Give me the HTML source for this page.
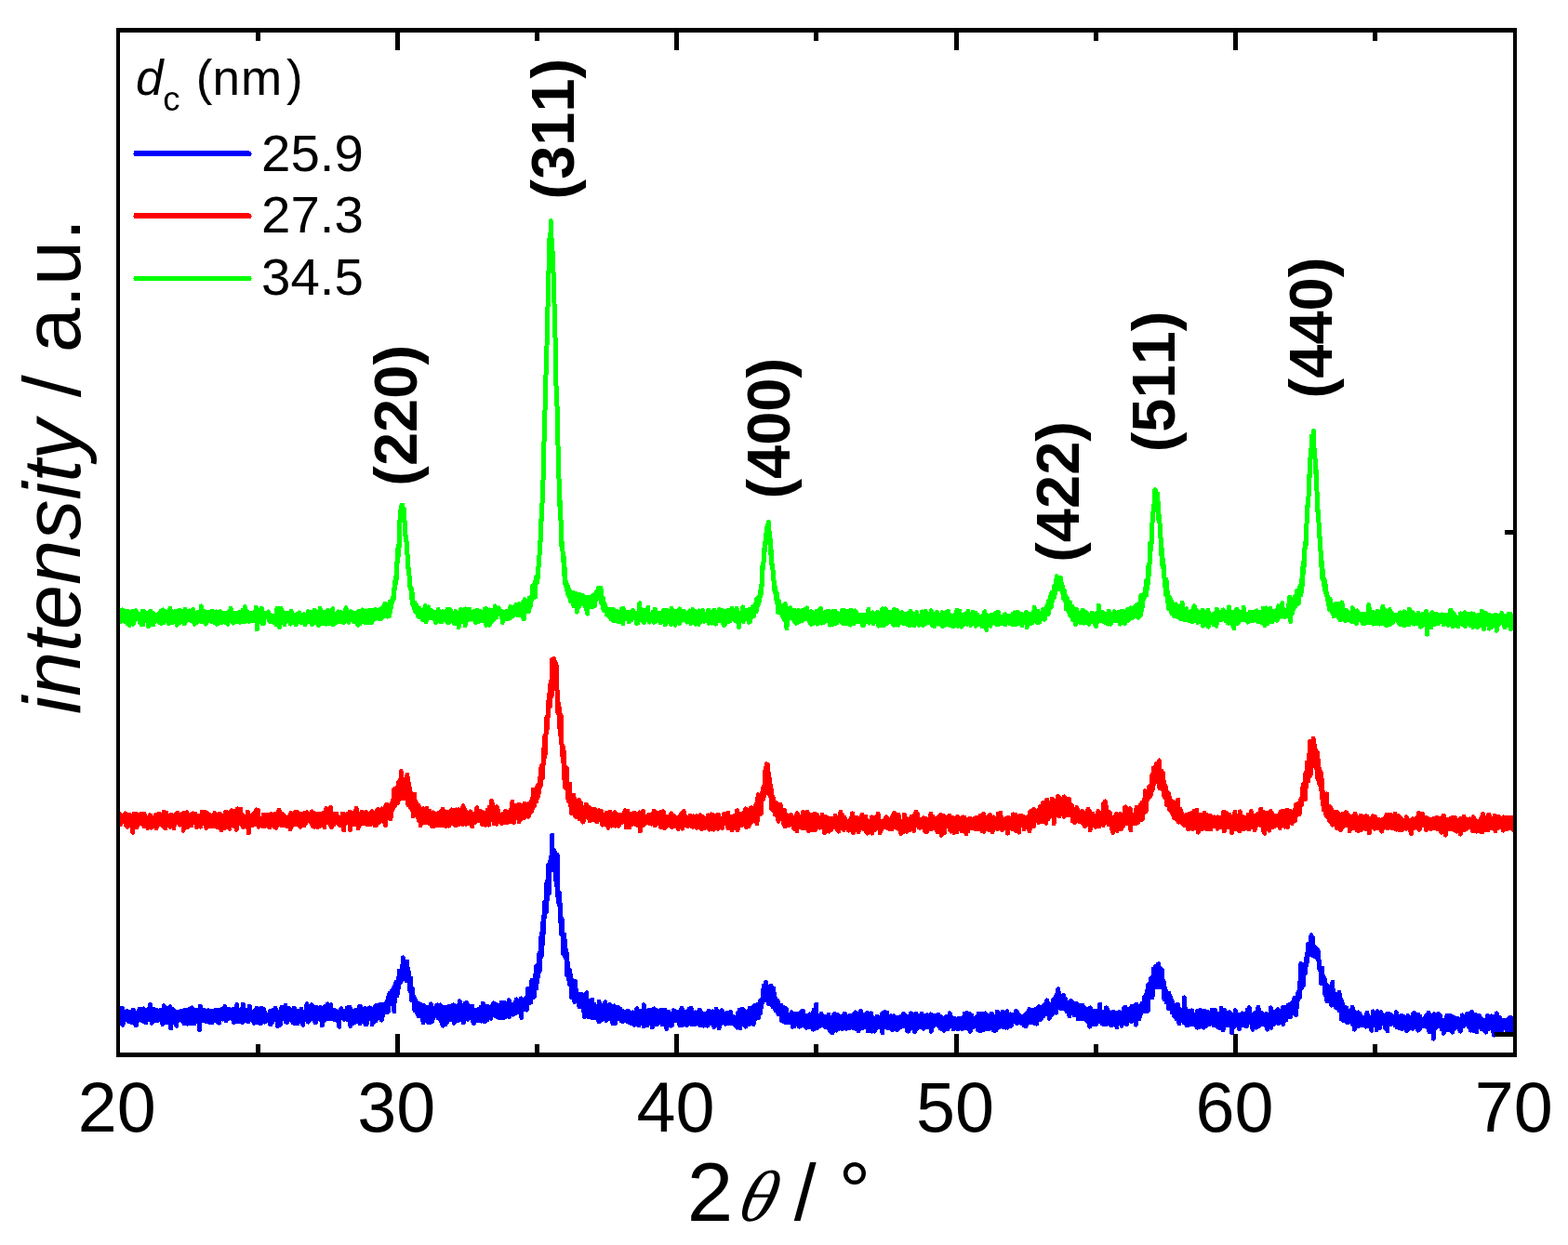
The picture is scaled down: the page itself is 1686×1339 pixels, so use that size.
<!DOCTYPE html>
<html><head><meta charset="utf-8"><title>XRD patterns</title>
<style>
html,body{margin:0;padding:0;background:#fff;}
body{width:1686px;height:1339px;overflow:hidden;}
svg{display:block;}
text{font-kerning:none;}
</style></head><body>
<svg width="1686" height="1339" viewBox="0 0 1686 1339">
<rect width="1686" height="1339" fill="#fff"/>
<defs><clipPath id="pa"><rect x="129" y="35" width="1498" height="1097"/></clipPath></defs>
<g clip-path="url(#pa)" shape-rendering="crispEdges" fill="none" stroke-width="5" stroke-linejoin="round" stroke-linecap="round">
<polyline stroke="#00ff00" points="120.0,665.1 120.3,668.7 120.6,659.4 120.9,664.1 121.2,664.5 121.5,660.6 121.8,665.6 122.1,662.4 122.4,665.1 122.7,657.5 123.0,664.8 123.3,660.4 123.6,664.5 123.9,665.2 124.2,660.4 124.5,657.9 124.8,658.4 125.1,664.8 125.4,663.3 125.7,658.6 126.0,666.2 126.3,663.0 126.6,659.9 126.9,667.4 127.2,670.0 127.5,668.6 127.8,660.4 128.1,658.6 128.4,663.1 128.7,667.3 129.0,664.7 129.3,656.8 129.6,667.8 129.9,667.3 130.2,668.3 130.5,665.4 130.8,657.6 131.1,660.8 131.4,660.1 131.7,655.9 132.0,665.4 132.3,664.7 132.6,664.3 132.9,659.3 133.2,667.7 133.5,665.6 133.8,665.5 134.1,668.1 134.4,659.5 134.7,668.4 135.0,664.6 135.3,664.3 135.6,657.2 135.9,666.3 136.2,661.0 136.5,663.4 136.8,665.8 137.1,670.8 137.4,663.3 137.7,663.0 138.0,667.1 138.3,657.7 138.6,662.7 138.9,663.2 139.2,672.5 139.5,664.5 139.8,659.3 140.1,663.8 140.4,660.4 140.7,667.8 141.0,664.0 141.3,658.6 141.6,670.3 141.9,664.4 142.2,668.5 142.5,657.5 142.8,666.0 143.1,671.3 143.4,668.2 143.7,669.3 144.0,664.5 144.3,660.7 144.6,664.9 144.9,661.1 145.2,667.1 145.5,658.7 145.8,661.6 146.1,656.8 146.4,662.3 146.7,664.8 147.0,663.4 147.3,659.2 147.6,662.6 147.9,661.2 148.2,665.5 148.5,663.6 148.8,659.8 149.1,663.0 149.4,663.5 149.7,665.2 150.0,665.6 150.3,660.8 150.6,670.1 150.9,664.0 151.2,663.0 151.5,662.0 151.8,661.4 152.1,662.0 152.4,672.0 152.7,662.5 153.0,660.9 153.3,657.4 153.6,660.1 153.9,671.7 154.2,668.4 154.5,657.5 154.8,660.2 155.1,663.9 155.4,665.7 155.7,663.6 156.0,666.2 156.3,664.5 156.6,664.1 156.9,665.0 157.2,664.1 157.5,661.9 157.8,659.7 158.1,662.5 158.4,662.5 158.7,660.3 159.0,659.1 159.3,666.6 159.6,673.8 159.9,671.7 160.2,663.9 160.5,664.9 160.8,667.6 161.1,671.7 161.4,666.0 161.7,657.2 162.0,659.4 162.3,658.5 162.6,659.8 162.9,662.3 163.2,665.9 163.5,667.1 163.8,662.5 164.1,668.1 164.4,663.2 164.7,659.5 165.0,671.6 165.3,664.1 165.6,664.9 165.9,668.4 166.2,661.1 166.5,668.3 166.8,662.6 167.1,667.1 167.4,662.7 167.7,666.2 168.0,661.8 168.3,666.3 168.6,665.7 168.9,664.1 169.2,660.9 169.5,663.6 169.8,666.6 170.1,664.3 170.4,663.3 170.7,669.3 171.0,663.9 171.3,660.8 171.6,664.9 171.9,668.5 172.2,663.3 172.5,667.9 172.8,657.6 173.1,666.5 173.4,670.7 173.7,660.1 174.0,665.0 174.3,664.6 174.6,657.1 174.9,667.9 175.2,655.8 175.5,662.0 175.8,670.0 176.1,663.3 176.4,668.4 176.7,664.5 177.0,665.6 177.3,663.1 177.6,661.0 177.9,665.5 178.2,657.9 178.5,663.8 178.8,660.9 179.1,659.7 179.4,661.9 179.7,659.3 180.0,660.4 180.3,660.5 180.6,666.0 180.9,664.4 181.2,668.0 181.5,671.0 181.8,661.6 182.1,665.8 182.4,667.2 182.7,660.6 183.0,654.1 183.3,667.8 183.6,665.9 183.9,664.0 184.2,660.4 184.5,661.8 184.8,659.7 185.1,660.9 185.4,669.6 185.7,663.4 186.0,662.5 186.3,665.4 186.6,659.9 186.9,666.7 187.2,659.6 187.5,667.4 187.8,658.5 188.1,657.9 188.4,658.0 188.7,657.8 189.0,659.6 189.3,667.9 189.6,662.8 189.9,669.1 190.2,672.4 190.5,666.9 190.8,665.3 191.1,666.1 191.4,671.1 191.7,661.4 192.0,665.2 192.3,667.7 192.6,656.1 192.9,666.9 193.2,666.9 193.5,662.4 193.8,662.3 194.1,657.1 194.4,669.3 194.7,663.0 195.0,665.5 195.3,658.5 195.6,664.4 195.9,664.8 196.2,659.5 196.5,665.4 196.8,659.1 197.1,662.1 197.4,659.5 197.7,666.9 198.0,665.0 198.3,670.9 198.6,664.1 198.9,655.3 199.2,660.8 199.5,662.3 199.8,658.7 200.1,667.6 200.4,664.4 200.7,661.0 201.0,661.1 201.3,665.1 201.6,661.6 201.9,662.2 202.2,664.7 202.5,660.5 202.8,666.7 203.1,661.9 203.4,656.8 203.7,663.2 204.0,662.1 204.3,662.9 204.6,664.7 204.9,667.3 205.2,657.0 205.5,663.9 205.8,666.3 206.1,663.8 206.4,662.3 206.7,667.1 207.0,664.5 207.3,659.7 207.6,655.5 207.9,666.0 208.2,665.9 208.5,668.1 208.8,668.5 209.1,671.3 209.4,658.9 209.7,665.9 210.0,659.4 210.3,662.1 210.6,668.1 210.9,661.3 211.2,661.8 211.5,668.8 211.8,667.6 212.1,667.0 212.4,669.1 212.7,658.5 213.0,664.5 213.3,667.4 213.6,667.3 213.9,659.4 214.2,665.4 214.5,662.6 214.8,664.7 215.1,664.9 215.4,662.0 215.7,662.9 216.0,657.7 216.3,651.9 216.6,668.5 216.9,657.8 217.2,663.5 217.5,661.1 217.8,667.1 218.1,658.5 218.4,667.7 218.7,656.8 219.0,661.2 219.3,668.7 219.6,669.1 219.9,663.7 220.2,665.0 220.5,666.8 220.8,666.8 221.1,663.1 221.4,671.2 221.7,664.1 222.0,659.5 222.3,665.4 222.6,663.3 222.9,658.4 223.2,666.4 223.5,662.6 223.8,665.8 224.1,665.2 224.4,665.0 224.7,664.3 225.0,663.3 225.3,667.5 225.6,662.5 225.9,664.5 226.2,658.4 226.5,665.8 226.8,660.3 227.1,662.3 227.4,665.8 227.7,664.9 228.0,668.6 228.3,657.2 228.6,668.2 228.9,666.4 229.2,666.6 229.5,666.2 229.8,662.0 230.1,665.5 230.4,660.8 230.7,669.5 231.0,662.1 231.3,661.7 231.6,658.9 231.9,662.8 232.2,662.3 232.5,663.8 232.8,657.9 233.1,671.2 233.4,666.3 233.7,666.6 234.0,665.0 234.3,666.0 234.6,666.7 234.9,670.2 235.2,661.8 235.5,663.8 235.8,665.0 236.1,663.8 236.4,661.4 236.7,657.7 237.0,663.5 237.3,662.4 237.6,659.8 237.9,668.8 238.2,660.4 238.5,663.8 238.8,669.5 239.1,665.0 239.4,663.5 239.7,663.1 240.0,664.6 240.3,665.7 240.6,666.2 240.9,659.0 241.2,664.3 241.5,661.0 241.8,662.9 242.1,660.4 242.4,663.0 242.7,664.6 243.0,669.6 243.3,664.4 243.6,663.9 243.9,662.5 244.2,665.2 244.5,662.8 244.8,671.3 245.1,668.7 245.4,662.1 245.7,657.7 246.0,668.5 246.3,660.1 246.6,663.8 246.9,667.4 247.2,665.2 247.5,663.7 247.8,663.7 248.1,654.0 248.4,668.2 248.7,658.9 249.0,660.3 249.3,664.1 249.6,667.8 249.9,667.5 250.2,665.3 250.5,663.0 250.8,670.2 251.1,659.1 251.4,659.3 251.7,662.1 252.0,663.1 252.3,662.3 252.6,662.5 252.9,660.7 253.2,666.2 253.5,660.8 253.8,660.9 254.1,666.5 254.4,667.6 254.7,659.0 255.0,665.5 255.3,668.7 255.6,663.5 255.9,667.3 256.2,662.6 256.5,664.3 256.8,663.6 257.1,663.6 257.4,660.0 257.7,658.6 258.0,669.4 258.3,660.6 258.6,662.2 258.9,668.6 259.2,660.1 259.5,665.1 259.8,668.1 260.1,667.0 260.4,666.6 260.7,666.3 261.0,666.9 261.3,656.0 261.6,668.6 261.9,668.6 262.2,664.6 262.5,665.9 262.8,662.6 263.1,652.5 263.4,661.5 263.7,667.6 264.0,668.2 264.3,663.7 264.6,661.8 264.9,660.6 265.2,661.7 265.5,664.7 265.8,657.7 266.1,662.3 266.4,661.1 266.7,659.5 267.0,663.9 267.3,668.3 267.6,664.4 267.9,664.8 268.2,666.8 268.5,668.0 268.8,665.7 269.1,661.0 269.4,665.6 269.7,663.1 270.0,662.9 270.3,659.4 270.6,661.5 270.9,668.1 271.2,665.3 271.5,661.4 271.8,664.9 272.1,666.4 272.4,662.9 272.7,661.9 273.0,660.5 273.3,662.0 273.6,667.8 273.9,658.5 274.2,663.5 274.5,663.2 274.8,667.8 275.1,668.2 275.4,653.0 275.7,667.3 276.0,665.4 276.3,676.7 276.6,655.4 276.9,664.0 277.2,662.3 277.5,665.1 277.8,664.7 278.1,662.8 278.4,660.8 278.7,665.2 279.0,663.9 279.3,660.9 279.6,664.3 279.9,659.6 280.2,661.7 280.5,667.2 280.8,669.1 281.1,669.0 281.4,654.1 281.7,669.7 282.0,664.7 282.3,670.9 282.6,668.0 282.9,661.3 283.2,666.4 283.5,668.1 283.8,670.3 284.1,664.4 284.4,659.2 284.7,662.9 285.0,664.3 285.3,662.7 285.6,662.6 285.9,664.1 286.2,663.3 286.5,662.6 286.8,660.9 287.1,664.0 287.4,660.5 287.7,661.2 288.0,659.2 288.3,658.5 288.6,658.1 288.9,665.0 289.2,665.1 289.5,661.3 289.8,668.4 290.1,665.1 290.4,663.3 290.7,662.3 291.0,666.9 291.3,664.0 291.6,667.0 291.9,661.9 292.2,666.2 292.5,667.7 292.8,668.9 293.1,662.4 293.4,669.0 293.7,665.9 294.0,666.1 294.3,665.4 294.6,668.5 294.9,669.4 295.2,662.4 295.5,666.2 295.8,666.7 296.1,663.9 296.4,669.6 296.7,661.4 297.0,671.8 297.3,665.1 297.6,662.9 297.9,654.0 298.2,663.5 298.5,662.3 298.8,671.0 299.1,661.2 299.4,663.9 299.7,662.7 300.0,654.6 300.3,660.8 300.6,674.4 300.9,664.7 301.2,662.9 301.5,660.4 301.8,669.8 302.1,654.2 302.4,663.4 302.7,662.7 303.0,663.6 303.3,669.6 303.6,669.8 303.9,669.3 304.2,668.4 304.5,663.1 304.8,664.4 305.1,661.5 305.4,660.3 305.7,658.9 306.0,671.7 306.3,662.0 306.6,661.2 306.9,659.8 307.2,669.2 307.5,659.7 307.8,664.7 308.1,665.1 308.4,663.4 308.7,660.0 309.0,662.0 309.3,662.4 309.6,666.7 309.9,664.3 310.2,663.8 310.5,664.7 310.8,659.0 311.1,667.6 311.4,662.3 311.7,663.5 312.0,667.6 312.3,671.2 312.6,663.2 312.9,657.4 313.2,668.9 313.5,661.8 313.8,658.6 314.1,664.2 314.4,664.5 314.7,665.1 315.0,669.3 315.3,660.8 315.6,662.5 315.9,661.0 316.2,668.2 316.5,666.3 316.8,661.5 317.1,666.1 317.4,669.0 317.7,662.2 318.0,666.2 318.3,671.9 318.6,669.0 318.9,661.2 319.2,663.9 319.5,662.3 319.8,660.1 320.1,662.1 320.4,665.8 320.7,660.2 321.0,663.7 321.3,664.7 321.6,658.8 321.9,662.9 322.2,659.8 322.5,666.5 322.8,668.5 323.1,667.9 323.4,667.1 323.7,662.9 324.0,669.6 324.3,667.9 324.6,666.8 324.9,664.6 325.2,665.3 325.5,666.2 325.8,667.0 326.1,668.8 326.4,666.6 326.7,663.2 327.0,660.8 327.3,663.8 327.6,667.6 327.9,671.8 328.2,661.5 328.5,670.3 328.8,666.4 329.1,661.9 329.4,662.3 329.7,667.0 330.0,669.2 330.3,661.1 330.6,659.8 330.9,665.5 331.2,662.0 331.5,657.7 331.8,661.3 332.1,668.7 332.4,661.6 332.7,664.4 333.0,668.5 333.3,662.1 333.6,666.7 333.9,663.7 334.2,663.2 334.5,664.0 334.8,662.5 335.1,658.5 335.4,671.4 335.7,667.5 336.0,663.2 336.3,669.2 336.6,670.2 336.9,658.3 337.2,666.1 337.5,668.5 337.8,661.2 338.1,656.2 338.4,664.8 338.7,664.1 339.0,662.4 339.3,669.5 339.6,667.9 339.9,662.2 340.2,660.4 340.5,662.8 340.8,657.9 341.1,661.4 341.4,665.9 341.7,666.0 342.0,664.8 342.3,660.1 342.6,672.7 342.9,664.8 343.2,662.2 343.5,664.9 343.8,667.4 344.1,654.2 344.4,664.8 344.7,668.1 345.0,664.4 345.3,669.9 345.6,657.9 345.9,668.6 346.2,670.2 346.5,659.9 346.8,665.9 347.1,658.4 347.4,663.9 347.7,663.5 348.0,666.9 348.3,664.6 348.6,665.2 348.9,670.8 349.2,662.2 349.5,658.7 349.8,667.3 350.1,670.7 350.4,658.3 350.7,671.2 351.0,661.7 351.3,664.4 351.6,669.0 351.9,659.7 352.2,656.9 352.5,656.1 352.8,668.9 353.1,667.9 353.4,664.8 353.7,668.5 354.0,660.1 354.3,658.1 354.6,660.4 354.9,670.9 355.2,666.6 355.5,660.4 355.8,657.3 356.1,661.9 356.4,663.3 356.7,662.1 357.0,657.6 357.3,664.5 357.6,670.1 357.9,654.6 358.2,672.0 358.5,668.5 358.8,661.6 359.1,668.4 359.4,669.8 359.7,668.8 360.0,663.0 360.3,660.8 360.6,660.3 360.9,662.7 361.2,664.4 361.5,662.1 361.8,666.3 362.1,669.4 362.4,664.2 362.7,662.2 363.0,669.0 363.3,667.3 363.6,666.8 363.9,657.9 364.2,665.3 364.5,662.0 364.8,663.1 365.1,664.5 365.4,664.5 365.7,658.6 366.0,661.1 366.3,662.5 366.6,666.5 366.9,658.6 367.2,668.6 367.5,662.1 367.8,663.8 368.1,668.9 368.4,662.5 368.7,668.2 369.0,669.1 369.3,665.4 369.6,669.4 369.9,664.5 370.2,665.5 370.5,668.8 370.8,658.8 371.1,662.0 371.4,662.1 371.7,661.2 372.0,653.7 372.3,658.1 372.6,665.9 372.9,662.8 373.2,659.3 373.5,662.8 373.8,667.3 374.1,664.3 374.4,658.3 374.7,669.3 375.0,667.1 375.3,661.0 375.6,659.9 375.9,667.4 376.2,663.6 376.5,660.1 376.8,661.1 377.1,657.7 377.4,665.1 377.7,659.3 378.0,658.0 378.3,664.0 378.6,661.8 378.9,661.0 379.2,666.7 379.5,666.6 379.8,663.9 380.1,667.5 380.4,668.5 380.7,663.7 381.0,659.8 381.3,665.9 381.6,660.4 381.9,661.0 382.2,664.8 382.5,667.2 382.8,662.7 383.1,661.9 383.4,667.1 383.7,665.4 384.0,658.8 384.3,665.3 384.6,661.0 384.9,672.3 385.2,657.6 385.5,659.1 385.8,671.5 386.1,665.0 386.4,664.2 386.7,665.1 387.0,670.6 387.3,659.3 387.6,669.9 387.9,666.1 388.2,663.4 388.5,667.7 388.8,661.2 389.1,666.0 389.4,658.9 389.7,655.9 390.0,658.7 390.3,659.3 390.6,656.3 390.9,663.6 391.2,659.6 391.5,657.5 391.8,667.2 392.1,669.2 392.4,667.0 392.7,669.9 393.0,659.2 393.3,657.0 393.6,667.5 393.9,664.7 394.2,661.9 394.5,663.8 394.8,662.7 395.1,659.7 395.4,663.3 395.7,656.8 396.0,657.4 396.3,663.6 396.6,669.6 396.9,664.6 397.2,658.3 397.5,658.5 397.8,656.0 398.1,666.9 398.4,661.3 398.7,663.7 399.0,667.3 399.3,667.0 399.6,669.7 399.9,665.1 400.2,664.0 400.5,658.7 400.8,660.9 401.1,658.9 401.4,665.3 401.7,656.6 402.0,658.8 402.3,663.2 402.6,661.4 402.9,666.1 403.2,660.6 403.5,655.3 403.8,665.2 404.1,664.3 404.4,658.9 404.7,661.0 405.0,661.6 405.3,664.4 405.6,664.0 405.9,656.7 406.2,659.6 406.5,664.8 406.8,662.3 407.1,658.5 407.4,658.4 407.7,660.7 408.0,665.8 408.3,662.0 408.6,665.3 408.9,655.2 409.2,666.0 409.5,658.9 409.8,660.1 410.1,665.0 410.4,654.7 410.7,657.7 411.0,663.4 411.3,663.2 411.6,663.9 411.9,655.3 412.2,660.9 412.5,654.9 412.8,652.2 413.1,660.0 413.4,658.9 413.7,657.2 414.0,649.2 414.3,655.0 414.6,661.5 414.9,653.6 415.2,654.7 415.5,658.6 415.8,657.5 416.1,658.2 416.4,663.1 416.7,650.5 417.0,658.9 417.3,656.0 417.6,656.4 417.9,657.1 418.2,653.0 418.5,655.9 418.8,662.3 419.1,647.0 419.4,659.2 419.7,658.0 420.0,653.0 420.3,654.3 420.6,653.2 420.9,650.8 421.2,648.1 421.5,648.1 421.8,644.9 422.1,645.1 422.4,645.9 422.7,643.5 423.0,641.7 423.3,643.8 423.6,633.6 423.9,638.7 424.2,629.7 424.5,625.3 424.8,630.9 425.1,625.6 425.4,627.7 425.7,623.8 426.0,618.8 426.3,622.7 426.6,608.3 426.9,604.4 427.2,605.4 427.5,600.7 427.8,589.6 428.1,598.3 428.4,589.6 428.7,585.6 429.0,589.9 429.3,574.5 429.6,582.7 429.9,559.8 430.2,559.0 430.5,560.7 430.8,548.5 431.1,556.3 431.4,556.8 431.7,544.3 432.0,549.0 432.3,543.0 432.6,552.8 432.9,543.3 433.2,549.4 433.5,547.7 433.8,547.6 434.1,550.6 434.4,547.7 434.7,548.3 435.0,561.9 435.3,561.3 435.6,574.6 435.9,574.8 436.2,580.1 436.5,576.6 436.8,582.6 437.1,582.2 437.4,584.8 437.7,595.4 438.0,595.6 438.3,601.1 438.6,609.1 438.9,611.2 439.2,610.4 439.5,612.4 439.8,613.8 440.1,621.5 440.4,620.4 440.7,625.9 441.0,631.5 441.3,631.6 441.6,631.6 441.9,634.1 442.2,632.4 442.5,643.4 442.8,641.7 443.1,637.4 443.4,641.7 443.7,639.9 444.0,650.5 444.3,650.6 444.6,649.4 444.9,652.6 445.2,652.3 445.5,654.7 445.8,647.9 446.1,648.9 446.4,657.1 446.7,657.7 447.0,652.6 447.3,655.2 447.6,657.8 447.9,651.3 448.2,658.7 448.5,654.1 448.8,652.8 449.1,656.0 449.4,662.1 449.7,658.4 450.0,661.6 450.3,663.3 450.6,654.1 450.9,660.9 451.2,654.9 451.5,661.8 451.8,656.3 452.1,662.2 452.4,659.8 452.7,659.5 453.0,656.8 453.3,663.9 453.6,662.0 453.9,664.1 454.2,655.9 454.5,666.4 454.8,656.7 455.1,662.5 455.4,658.3 455.7,661.1 456.0,655.3 456.3,659.0 456.6,657.6 456.9,660.2 457.2,651.5 457.5,654.5 457.8,660.0 458.1,668.9 458.4,656.5 458.7,663.1 459.0,659.0 459.3,666.5 459.6,660.9 459.9,658.6 460.2,663.3 460.5,662.1 460.8,652.9 461.1,663.8 461.4,658.2 461.7,663.2 462.0,662.0 462.3,656.5 462.6,663.5 462.9,664.6 463.2,664.4 463.5,658.1 463.8,661.3 464.1,656.6 464.4,660.6 464.7,664.7 465.0,660.0 465.3,659.7 465.6,660.4 465.9,662.2 466.2,663.5 466.5,661.2 466.8,666.3 467.1,664.8 467.4,658.5 467.7,665.3 468.0,661.8 468.3,658.1 468.6,669.7 468.9,663.9 469.2,665.3 469.5,668.0 469.8,662.2 470.1,657.7 470.4,662.1 470.7,667.1 471.0,663.9 471.3,655.6 471.6,659.6 471.9,664.2 472.2,659.1 472.5,662.2 472.8,663.7 473.1,668.1 473.4,668.4 473.7,663.2 474.0,662.2 474.3,668.8 474.6,666.3 474.9,658.0 475.2,668.9 475.5,659.3 475.8,662.1 476.1,657.8 476.4,662.5 476.7,664.8 477.0,662.1 477.3,661.7 477.6,663.1 477.9,662.0 478.2,665.6 478.5,657.9 478.8,662.3 479.1,665.4 479.4,661.8 479.7,665.6 480.0,659.8 480.3,659.3 480.6,658.5 480.9,669.3 481.2,655.2 481.5,665.5 481.8,659.8 482.1,664.3 482.4,669.9 482.7,663.0 483.0,664.6 483.3,663.8 483.6,662.0 483.9,662.3 484.2,655.6 484.5,665.7 484.8,665.8 485.1,660.3 485.4,658.6 485.7,663.6 486.0,659.3 486.3,661.3 486.6,664.5 486.9,662.1 487.2,662.3 487.5,668.3 487.8,665.6 488.1,669.1 488.4,668.8 488.7,670.6 489.0,659.5 489.3,664.2 489.6,663.7 489.9,657.5 490.2,667.3 490.5,660.3 490.8,662.6 491.1,669.8 491.4,670.7 491.7,662.1 492.0,666.9 492.3,668.3 492.6,664.9 492.9,664.1 493.2,674.8 493.5,659.0 493.8,661.8 494.1,660.3 494.4,659.9 494.7,661.0 495.0,663.4 495.3,659.3 495.6,655.4 495.9,664.8 496.2,661.9 496.5,668.6 496.8,665.3 497.1,665.1 497.4,668.8 497.7,657.2 498.0,659.5 498.3,662.1 498.6,665.9 498.9,655.8 499.2,665.4 499.5,665.0 499.8,661.0 500.1,673.1 500.4,655.5 500.7,655.0 501.0,662.6 501.3,663.5 501.6,658.8 501.9,658.7 502.2,659.1 502.5,657.9 502.8,665.0 503.1,661.6 503.4,662.0 503.7,666.6 504.0,658.8 504.3,662.4 504.6,665.3 504.9,655.3 505.2,661.5 505.5,660.5 505.8,663.1 506.1,660.7 506.4,663.8 506.7,666.1 507.0,661.4 507.3,660.7 507.6,661.1 507.9,664.2 508.2,664.1 508.5,658.7 508.8,662.3 509.1,657.7 509.4,663.0 509.7,659.0 510.0,666.0 510.3,667.1 510.6,666.3 510.9,660.9 511.2,664.7 511.5,669.8 511.8,659.0 512.1,660.7 512.4,659.0 512.7,656.3 513.0,659.6 513.3,658.2 513.6,656.8 513.9,668.6 514.2,667.2 514.5,666.7 514.8,664.3 515.1,664.7 515.4,662.2 515.7,658.6 516.0,660.9 516.3,658.7 516.6,657.6 516.9,659.0 517.2,663.0 517.5,661.9 517.8,663.5 518.1,667.6 518.4,664.2 518.7,659.5 519.0,658.5 519.3,663.3 519.6,662.0 519.9,660.3 520.2,666.2 520.5,660.3 520.8,663.1 521.1,655.0 521.4,663.3 521.7,666.6 522.0,667.0 522.3,667.3 522.6,654.6 522.9,672.5 523.2,664.6 523.5,656.8 523.8,660.9 524.1,657.4 524.4,662.4 524.7,667.4 525.0,662.1 525.3,661.1 525.6,660.0 525.9,657.1 526.2,672.4 526.5,655.8 526.8,661.0 527.1,658.9 527.4,660.3 527.7,669.1 528.0,664.0 528.3,669.0 528.6,659.5 528.9,659.3 529.2,658.3 529.5,659.1 529.8,659.1 530.1,656.2 530.4,666.9 530.7,664.9 531.0,664.2 531.3,657.8 531.6,661.4 531.9,664.7 532.2,661.6 532.5,652.0 532.8,656.1 533.1,659.1 533.4,658.4 533.7,664.0 534.0,655.1 534.3,659.1 534.6,661.2 534.9,660.0 535.2,656.0 535.5,661.2 535.8,659.3 536.1,653.9 536.4,656.3 536.7,658.0 537.0,657.6 537.3,659.4 537.6,657.4 537.9,660.2 538.2,660.0 538.5,660.5 538.8,658.8 539.1,664.4 539.4,661.2 539.7,657.6 540.0,664.4 540.3,669.5 540.6,664.9 540.9,658.8 541.2,662.0 541.5,660.2 541.8,662.7 542.1,663.6 542.4,661.9 542.7,658.5 543.0,664.1 543.3,665.5 543.6,657.9 543.9,661.0 544.2,659.4 544.5,665.1 544.8,659.3 545.1,661.8 545.4,659.5 545.7,657.7 546.0,665.9 546.3,658.5 546.6,664.2 546.9,657.4 547.2,664.3 547.5,659.9 547.8,658.7 548.1,654.2 548.4,664.9 548.7,661.0 549.0,652.5 549.3,664.4 549.6,656.8 549.9,657.6 550.2,661.2 550.5,654.5 550.8,663.2 551.1,661.3 551.4,660.1 551.7,660.2 552.0,656.6 552.3,661.6 552.6,653.5 552.9,653.5 553.2,656.8 553.5,657.1 553.8,658.5 554.1,654.1 554.4,651.6 554.7,658.7 555.0,650.0 555.3,653.8 555.6,659.6 555.9,654.2 556.2,657.6 556.5,654.1 556.8,662.0 557.1,654.2 557.4,652.8 557.7,649.7 558.0,654.5 558.3,653.7 558.6,661.2 558.9,653.8 559.2,658.6 559.5,658.1 559.8,652.8 560.1,654.4 560.4,650.6 560.7,657.8 561.0,654.1 561.3,657.7 561.6,653.3 561.9,663.5 562.2,648.2 562.5,656.7 562.8,657.4 563.1,647.7 563.4,666.0 563.7,657.1 564.0,644.7 564.3,659.1 564.6,651.3 564.9,652.5 565.2,650.6 565.5,658.1 565.8,651.8 566.1,648.1 566.4,651.7 566.7,651.6 567.0,650.6 567.3,651.0 567.6,650.8 567.9,649.8 568.2,645.8 568.5,653.0 568.8,657.5 569.1,654.2 569.4,642.9 569.7,647.2 570.0,650.3 570.3,652.0 570.6,649.3 570.9,647.6 571.2,646.0 571.5,641.3 571.8,643.6 572.1,638.8 572.4,643.7 572.7,636.8 573.0,629.6 573.3,642.0 573.6,640.0 573.9,640.7 574.2,633.3 574.5,638.8 574.8,635.8 575.1,626.0 575.4,635.9 575.7,642.2 576.0,625.2 576.3,628.1 576.6,620.4 576.9,623.7 577.2,625.1 577.5,623.8 577.8,626.4 578.1,621.0 578.4,610.7 578.7,619.6 579.0,610.2 579.3,602.4 579.6,598.9 579.9,604.0 580.2,586.3 580.5,592.2 580.8,583.4 581.1,580.3 581.4,581.3 581.7,575.0 582.0,558.5 582.3,559.8 582.6,544.6 582.9,545.8 583.2,533.2 583.5,529.7 583.8,522.5 584.1,512.8 584.4,500.9 584.7,490.1 585.0,474.8 585.3,472.4 585.6,453.5 585.9,443.9 586.2,437.2 586.5,422.9 586.8,415.6 587.1,397.8 587.4,384.8 587.7,390.1 588.0,372.3 588.3,357.3 588.6,336.4 588.9,331.3 589.2,328.0 589.5,313.8 589.8,291.6 590.1,293.9 590.4,272.2 590.7,257.0 591.0,268.3 591.3,257.8 591.6,256.7 591.9,258.2 592.2,237.5 592.5,258.2 592.8,247.7 593.1,258.4 593.4,264.3 593.7,268.9 594.0,269.9 594.3,272.6 594.6,275.1 594.9,283.6 595.2,307.7 595.5,305.8 595.8,316.0 596.1,330.6 596.4,342.1 596.7,360.4 597.0,362.4 597.3,378.8 597.6,400.8 597.9,406.7 598.2,427.5 598.5,431.0 598.8,434.7 599.1,438.4 599.4,463.1 599.7,453.4 600.0,479.2 600.3,492.6 600.6,497.4 600.9,514.3 601.2,516.1 601.5,533.4 601.8,532.3 602.1,550.8 602.4,539.4 602.7,552.9 603.0,559.6 603.3,560.8 603.6,573.4 603.9,587.4 604.2,584.7 604.5,583.7 604.8,590.5 605.1,593.7 605.4,595.9 605.7,603.6 606.0,602.9 606.3,611.1 606.6,600.1 606.9,615.7 607.2,625.3 607.5,611.0 607.8,628.0 608.1,624.2 608.4,626.8 608.7,631.2 609.0,627.6 609.3,628.3 609.6,630.5 609.9,634.4 610.2,638.2 610.5,630.9 610.8,639.6 611.1,633.8 611.4,639.2 611.7,633.7 612.0,635.6 612.3,639.7 612.6,637.6 612.9,643.4 613.2,645.8 613.5,637.2 613.8,636.6 614.1,647.0 614.4,642.7 614.7,641.1 615.0,643.4 615.3,641.9 615.6,641.4 615.9,643.5 616.2,637.4 616.5,648.8 616.8,651.7 617.1,644.3 617.4,641.6 617.7,644.5 618.0,645.4 618.3,642.5 618.6,641.0 618.9,640.6 619.2,646.5 619.5,638.1 619.8,638.8 620.1,650.0 620.4,658.2 620.7,643.6 621.0,644.4 621.3,647.9 621.6,643.6 621.9,645.8 622.2,643.9 622.5,652.4 622.8,642.5 623.1,648.3 623.4,639.4 623.7,648.1 624.0,642.0 624.3,646.7 624.6,646.9 624.9,645.0 625.2,646.1 625.5,649.8 625.8,645.4 626.1,642.5 626.4,641.8 626.7,649.8 627.0,641.5 627.3,640.8 627.6,643.4 627.9,642.0 628.2,649.2 628.5,643.5 628.8,647.2 629.1,652.1 629.4,642.1 629.7,647.8 630.0,650.1 630.3,647.6 630.6,648.0 630.9,657.1 631.2,648.4 631.5,645.3 631.8,660.2 632.1,641.9 632.4,652.6 632.7,653.0 633.0,652.3 633.3,652.7 633.6,645.5 633.9,647.9 634.2,644.6 634.5,646.4 634.8,643.5 635.1,651.3 635.4,644.2 635.7,650.5 636.0,652.4 636.3,642.0 636.6,652.4 636.9,652.7 637.2,650.0 637.5,640.3 637.8,648.5 638.1,646.8 638.4,647.8 638.7,642.0 639.0,646.8 639.3,645.3 639.6,651.4 639.9,645.1 640.2,646.7 640.5,642.3 640.8,638.2 641.1,641.0 641.4,643.1 641.7,641.2 642.0,635.6 642.3,644.1 642.6,640.0 642.9,638.7 643.2,642.4 643.5,632.5 643.8,632.3 644.1,636.4 644.4,639.4 644.7,639.6 645.0,635.3 645.3,633.2 645.6,638.5 645.9,632.2 646.2,635.9 646.5,648.4 646.8,648.4 647.1,647.7 647.4,645.6 647.7,646.3 648.0,650.0 648.3,643.1 648.6,648.1 648.9,655.5 649.2,656.2 649.5,654.5 649.8,648.9 650.1,650.9 650.4,650.5 650.7,651.8 651.0,654.5 651.3,654.0 651.6,656.7 651.9,656.3 652.2,653.6 652.5,661.1 652.8,654.8 653.1,657.7 653.4,658.4 653.7,660.1 654.0,661.4 654.3,659.8 654.6,662.4 654.9,657.7 655.2,661.2 655.5,657.2 655.8,658.8 656.1,661.7 656.4,655.4 656.7,665.5 657.0,659.5 657.3,663.1 657.6,657.9 657.9,658.3 658.2,663.1 658.5,663.0 658.8,660.0 659.1,657.3 659.4,667.4 659.7,655.6 660.0,660.5 660.3,659.0 660.6,667.0 660.9,661.1 661.2,662.9 661.5,657.9 661.8,659.0 662.1,663.3 662.4,667.5 662.7,659.3 663.0,661.9 663.3,657.6 663.6,659.3 663.9,660.4 664.2,659.6 664.5,666.5 664.8,660.1 665.1,668.9 665.4,668.6 665.7,664.0 666.0,660.9 666.3,659.6 666.6,659.2 666.9,665.0 667.2,662.7 667.5,666.5 667.8,657.8 668.1,654.9 668.4,662.9 668.7,658.5 669.0,657.2 669.3,659.6 669.6,660.2 669.9,671.1 670.2,654.3 670.5,656.9 670.8,665.4 671.1,663.0 671.4,663.3 671.7,660.9 672.0,660.0 672.3,659.3 672.6,660.1 672.9,662.6 673.2,662.1 673.5,663.7 673.8,663.0 674.1,662.2 674.4,665.8 674.7,664.1 675.0,658.3 675.3,659.7 675.6,663.3 675.9,663.2 676.2,668.9 676.5,658.4 676.8,660.9 677.1,665.2 677.4,664.7 677.7,659.9 678.0,663.8 678.3,662.8 678.6,667.3 678.9,659.7 679.2,662.9 679.5,661.6 679.8,659.3 680.1,664.2 680.4,656.4 680.7,661.0 681.0,664.0 681.3,664.7 681.6,663.4 681.9,658.8 682.2,662.9 682.5,661.7 682.8,659.0 683.1,661.9 683.4,663.4 683.7,661.6 684.0,665.3 684.3,663.8 684.6,670.6 684.9,660.6 685.2,662.9 685.5,670.3 685.8,661.8 686.1,664.9 686.4,665.9 686.7,666.3 687.0,660.7 687.3,661.0 687.6,664.6 687.9,648.6 688.2,659.3 688.5,661.9 688.8,661.4 689.1,666.3 689.4,666.3 689.7,661.2 690.0,664.2 690.3,662.6 690.6,667.8 690.9,662.9 691.2,661.0 691.5,663.2 691.8,664.6 692.1,662.8 692.4,669.6 692.7,668.2 693.0,655.9 693.3,664.0 693.6,665.7 693.9,662.3 694.2,665.0 694.5,659.1 694.8,659.6 695.1,664.8 695.4,664.5 695.7,658.2 696.0,660.8 696.3,662.5 696.6,659.0 696.9,653.0 697.2,667.0 697.5,663.6 697.8,659.9 698.1,662.0 698.4,669.2 698.7,666.3 699.0,664.9 699.3,663.4 699.6,661.3 699.9,667.1 700.2,667.5 700.5,663.3 700.8,665.9 701.1,663.1 701.4,667.4 701.7,660.4 702.0,660.7 702.3,658.1 702.6,658.0 702.9,661.7 703.2,669.4 703.5,662.4 703.8,666.7 704.1,664.4 704.4,655.3 704.7,666.5 705.0,665.0 705.3,659.4 705.6,668.2 705.9,660.8 706.2,664.1 706.5,660.2 706.8,660.4 707.1,661.0 707.4,659.8 707.7,666.4 708.0,666.4 708.3,664.7 708.6,667.9 708.9,659.4 709.2,662.4 709.5,661.9 709.8,665.0 710.1,669.6 710.4,665.3 710.7,662.7 711.0,661.0 711.3,668.9 711.6,664.4 711.9,662.2 712.2,662.6 712.5,668.6 712.8,665.0 713.1,658.2 713.4,656.6 713.7,658.4 714.0,665.5 714.3,666.3 714.6,663.5 714.9,662.4 715.2,671.6 715.5,663.0 715.8,660.0 716.1,670.8 716.4,663.1 716.7,656.2 717.0,662.2 717.3,666.6 717.6,664.3 717.9,662.5 718.2,663.1 718.5,662.7 718.8,664.8 719.1,664.6 719.4,665.7 719.7,661.1 720.0,661.7 720.3,659.9 720.6,657.2 720.9,659.4 721.2,664.7 721.5,671.9 721.8,663.8 722.1,654.5 722.4,658.8 722.7,669.1 723.0,663.9 723.3,664.5 723.6,666.4 723.9,669.4 724.2,665.3 724.5,662.0 724.8,661.2 725.1,661.4 725.4,664.5 725.7,665.8 726.0,672.4 726.3,658.9 726.6,657.2 726.9,667.8 727.2,665.8 727.5,666.3 727.8,662.2 728.1,666.7 728.4,665.5 728.7,662.1 729.0,664.4 729.3,663.6 729.6,666.2 729.9,667.4 730.2,664.4 730.5,670.9 730.8,654.9 731.1,659.8 731.4,663.0 731.7,662.5 732.0,666.5 732.3,667.7 732.6,661.2 732.9,665.0 733.2,658.9 733.5,665.5 733.8,657.4 734.1,666.1 734.4,664.1 734.7,661.3 735.0,666.7 735.3,657.6 735.6,663.5 735.9,665.2 736.2,662.8 736.5,663.5 736.8,666.4 737.1,658.6 737.4,664.1 737.7,660.4 738.0,663.3 738.3,661.7 738.6,669.0 738.9,662.7 739.2,660.3 739.5,667.7 739.8,659.1 740.1,666.0 740.4,664.6 740.7,659.8 741.0,665.9 741.3,660.6 741.6,656.8 741.9,661.0 742.2,663.3 742.5,665.6 742.8,670.6 743.1,663.1 743.4,666.4 743.7,664.8 744.0,664.0 744.3,663.7 744.6,657.6 744.9,655.5 745.2,669.1 745.5,663.5 745.8,662.9 746.1,660.8 746.4,663.2 746.7,659.6 747.0,667.5 747.3,657.2 747.6,660.6 747.9,671.3 748.2,667.4 748.5,663.9 748.8,662.5 749.1,664.6 749.4,658.7 749.7,665.7 750.0,659.9 750.3,660.5 750.6,658.1 750.9,664.3 751.2,671.5 751.5,667.6 751.8,656.9 752.1,659.2 752.4,668.2 752.7,664.4 753.0,666.7 753.3,668.5 753.6,658.8 753.9,661.9 754.2,663.8 754.5,658.7 754.8,664.5 755.1,660.9 755.4,656.5 755.7,660.2 756.0,665.4 756.3,665.6 756.6,661.3 756.9,668.2 757.2,667.7 757.5,665.4 757.8,666.6 758.1,667.3 758.4,663.1 758.7,663.5 759.0,661.6 759.3,663.7 759.6,662.2 759.9,664.0 760.2,662.3 760.5,665.4 760.8,658.3 761.1,664.4 761.4,662.4 761.7,656.0 762.0,670.4 762.3,667.6 762.6,661.6 762.9,662.3 763.2,661.1 763.5,658.7 763.8,662.2 764.1,660.7 764.4,666.3 764.7,659.3 765.0,663.1 765.3,660.2 765.6,658.0 765.9,670.2 766.2,658.1 766.5,659.2 766.8,661.6 767.1,667.4 767.4,667.9 767.7,656.2 768.0,656.1 768.3,663.8 768.6,661.1 768.9,669.2 769.2,658.9 769.5,671.3 769.8,659.7 770.1,662.9 770.4,660.8 770.7,665.1 771.0,666.1 771.3,666.3 771.6,658.6 771.9,666.8 772.2,667.0 772.5,663.9 772.8,668.0 773.1,667.5 773.4,655.5 773.7,660.2 774.0,664.8 774.3,667.2 774.6,665.3 774.9,662.8 775.2,660.0 775.5,660.7 775.8,668.0 776.1,657.3 776.4,656.7 776.7,659.2 777.0,661.7 777.3,662.8 777.6,667.2 777.9,671.7 778.2,665.0 778.5,663.7 778.8,672.5 779.1,666.2 779.4,660.7 779.7,667.8 780.0,665.9 780.3,670.6 780.6,665.9 780.9,660.0 781.2,657.0 781.5,664.4 781.8,660.0 782.1,664.1 782.4,663.6 782.7,665.7 783.0,669.1 783.3,656.2 783.6,664.3 783.9,661.3 784.2,662.1 784.5,665.2 784.8,667.1 785.1,667.6 785.4,659.0 785.7,657.1 786.0,664.8 786.3,662.7 786.6,659.0 786.9,654.3 787.2,664.4 787.5,658.1 787.8,661.3 788.1,656.8 788.4,661.2 788.7,663.4 789.0,663.6 789.3,658.2 789.6,656.7 789.9,665.8 790.2,664.9 790.5,667.8 790.8,662.4 791.1,665.3 791.4,659.6 791.7,658.6 792.0,653.9 792.3,664.9 792.6,661.3 792.9,658.2 793.2,664.0 793.5,669.5 793.8,662.6 794.1,664.3 794.4,674.6 794.7,660.2 795.0,668.4 795.3,659.4 795.6,659.9 795.9,664.2 796.2,665.1 796.5,667.9 796.8,667.4 797.1,661.6 797.4,658.7 797.7,664.8 798.0,666.2 798.3,665.5 798.6,653.0 798.9,664.2 799.2,668.5 799.5,657.5 799.8,661.9 800.1,666.9 800.4,663.4 800.7,663.1 801.0,664.1 801.3,665.4 801.6,663.7 801.9,664.3 802.2,662.5 802.5,656.9 802.8,656.2 803.1,659.0 803.4,661.6 803.7,660.1 804.0,659.3 804.3,666.2 804.6,662.5 804.9,662.9 805.2,669.4 805.5,660.5 805.8,655.6 806.1,655.7 806.4,663.4 806.7,668.4 807.0,656.7 807.3,660.8 807.6,655.4 807.9,657.2 808.2,663.5 808.5,659.4 808.8,658.1 809.1,653.5 809.4,657.6 809.7,652.2 810.0,663.0 810.3,661.1 810.6,662.0 810.9,660.0 811.2,659.3 811.5,655.3 811.8,653.0 812.1,650.5 812.4,651.2 812.7,650.4 813.0,657.8 813.3,653.5 813.6,644.4 813.9,647.0 814.2,646.0 814.5,652.0 814.8,647.9 815.1,647.3 815.4,649.7 815.7,642.3 816.0,648.4 816.3,642.3 816.6,644.1 816.9,642.8 817.2,642.3 817.5,635.3 817.8,639.2 818.1,632.7 818.4,639.0 818.7,628.5 819.0,631.7 819.3,624.4 819.6,616.7 819.9,608.2 820.2,608.1 820.5,611.7 820.8,604.6 821.1,604.5 821.4,597.1 821.7,590.0 822.0,595.4 822.3,584.4 822.6,592.2 822.9,588.7 823.2,582.3 823.5,578.9 823.8,576.9 824.1,571.5 824.4,575.0 824.7,567.1 825.0,567.4 825.3,566.1 825.6,564.6 825.9,568.3 826.2,575.3 826.5,561.5 826.8,568.8 827.1,572.6 827.4,576.9 827.7,576.0 828.0,584.5 828.3,579.7 828.6,591.3 828.9,596.8 829.2,591.5 829.5,605.0 829.8,604.0 830.1,609.8 830.4,611.6 830.7,607.9 831.0,612.2 831.3,621.3 831.6,621.0 831.9,623.3 832.2,626.4 832.5,628.2 832.8,635.7 833.1,630.5 833.4,637.7 833.7,636.7 834.0,634.7 834.3,641.3 834.6,644.5 834.9,640.1 835.2,642.5 835.5,648.6 835.8,638.6 836.1,646.6 836.4,646.7 836.7,659.0 837.0,650.1 837.3,645.9 837.6,650.7 837.9,656.9 838.2,656.4 838.5,658.1 838.8,659.0 839.1,654.9 839.4,656.9 839.7,654.6 840.0,659.1 840.3,656.9 840.6,658.1 840.9,651.8 841.2,654.9 841.5,661.1 841.8,663.7 842.1,657.8 842.4,660.8 842.7,656.6 843.0,652.7 843.3,659.5 843.6,658.4 843.9,667.4 844.2,649.5 844.5,666.8 844.8,660.9 845.1,660.4 845.4,662.9 845.7,660.3 846.0,675.6 846.3,658.4 846.6,660.2 846.9,661.6 847.2,662.6 847.5,661.4 847.8,655.6 848.1,664.4 848.4,662.6 848.7,656.0 849.0,660.5 849.3,664.6 849.6,653.7 849.9,664.3 850.2,664.6 850.5,663.5 850.8,662.9 851.1,663.7 851.4,657.1 851.7,658.7 852.0,665.2 852.3,660.9 852.6,660.9 852.9,656.7 853.2,662.6 853.5,661.7 853.8,664.6 854.1,668.0 854.4,663.2 854.7,656.6 855.0,660.1 855.3,659.6 855.6,662.6 855.9,670.3 856.2,659.5 856.5,666.2 856.8,663.4 857.1,662.9 857.4,657.1 857.7,669.5 858.0,664.2 858.3,659.8 858.6,667.8 858.9,656.5 859.2,660.9 859.5,668.7 859.8,664.0 860.1,661.5 860.4,662.7 860.7,667.4 861.0,662.6 861.3,661.3 861.6,666.8 861.9,656.6 862.2,668.0 862.5,663.6 862.8,666.7 863.1,656.5 863.4,659.7 863.7,665.1 864.0,663.6 864.3,656.8 864.6,655.8 864.9,665.7 865.2,665.3 865.5,659.2 865.8,660.4 866.1,663.0 866.4,662.1 866.7,660.5 867.0,664.0 867.3,660.7 867.6,653.9 867.9,663.4 868.2,663.1 868.5,657.6 868.8,660.9 869.1,666.0 869.4,666.0 869.7,662.6 870.0,662.0 870.3,663.3 870.6,660.5 870.9,669.8 871.2,666.7 871.5,663.6 871.8,671.3 872.1,665.6 872.4,657.7 872.7,666.5 873.0,662.3 873.3,666.3 873.6,658.5 873.9,660.1 874.2,662.4 874.5,670.6 874.8,659.7 875.1,664.8 875.4,663.8 875.7,661.9 876.0,665.8 876.3,667.1 876.6,668.9 876.9,668.0 877.2,663.4 877.5,659.6 877.8,657.6 878.1,665.1 878.4,669.6 878.7,671.0 879.0,657.5 879.3,660.5 879.6,657.3 879.9,667.2 880.2,661.1 880.5,656.2 880.8,668.4 881.1,660.1 881.4,660.6 881.7,666.4 882.0,665.1 882.3,658.4 882.6,654.6 882.9,661.0 883.2,670.1 883.5,663.5 883.8,670.0 884.1,664.6 884.4,669.4 884.7,661.3 885.0,667.1 885.3,663.1 885.6,664.6 885.9,669.5 886.2,662.0 886.5,665.8 886.8,667.0 887.1,666.4 887.4,663.6 887.7,658.4 888.0,660.3 888.3,663.6 888.6,657.9 888.9,663.8 889.2,664.4 889.5,657.8 889.8,662.2 890.1,667.6 890.4,664.0 890.7,659.2 891.0,661.5 891.3,665.8 891.6,657.6 891.9,659.2 892.2,666.6 892.5,672.3 892.8,662.7 893.1,668.2 893.4,664.0 893.7,659.2 894.0,670.0 894.3,666.5 894.6,668.0 894.9,669.7 895.2,671.5 895.5,662.1 895.8,662.3 896.1,657.3 896.4,668.2 896.7,669.8 897.0,665.6 897.3,668.3 897.6,670.8 897.9,657.3 898.2,668.2 898.5,660.8 898.8,659.8 899.1,668.1 899.4,660.7 899.7,660.7 900.0,659.2 900.3,669.6 900.6,664.1 900.9,664.6 901.2,663.2 901.5,661.8 901.8,661.4 902.1,661.0 902.4,666.4 902.7,660.9 903.0,668.1 903.3,665.4 903.6,665.1 903.9,668.1 904.2,664.9 904.5,663.7 904.8,665.6 905.1,665.7 905.4,656.7 905.7,662.5 906.0,660.6 906.3,669.8 906.6,670.4 906.9,659.5 907.2,661.2 907.5,656.1 907.8,660.5 908.1,660.2 908.4,662.0 908.7,662.9 909.0,663.7 909.3,667.2 909.6,665.7 909.9,670.9 910.2,667.2 910.5,663.6 910.8,659.9 911.1,664.7 911.4,658.0 911.7,666.1 912.0,667.5 912.3,657.0 912.6,661.0 912.9,658.3 913.2,657.9 913.5,661.7 913.8,669.9 914.1,666.8 914.4,672.2 914.7,656.2 915.0,661.1 915.3,666.9 915.6,660.9 915.9,662.5 916.2,662.1 916.5,661.8 916.8,669.2 917.1,671.0 917.4,666.1 917.7,665.6 918.0,671.0 918.3,659.5 918.6,664.5 918.9,667.4 919.2,656.8 919.5,665.6 919.8,665.9 920.1,667.7 920.4,668.8 920.7,663.2 921.0,666.5 921.3,659.5 921.6,665.9 921.9,668.8 922.2,665.2 922.5,664.7 922.8,664.8 923.1,667.9 923.4,661.1 923.7,664.4 924.0,666.4 924.3,663.1 924.6,668.5 924.9,664.9 925.2,663.0 925.5,668.4 925.8,666.9 926.1,661.1 926.4,664.8 926.7,664.0 927.0,669.0 927.3,666.9 927.6,672.4 927.9,662.7 928.2,661.0 928.5,663.1 928.8,672.5 929.1,670.0 929.4,664.5 929.7,664.7 930.0,662.5 930.3,666.9 930.6,668.6 930.9,662.4 931.2,663.8 931.5,667.6 931.8,661.4 932.1,661.9 932.4,667.1 932.7,666.0 933.0,660.0 933.3,662.8 933.6,663.9 933.9,655.4 934.2,669.5 934.5,669.9 934.8,661.0 935.1,666.0 935.4,666.5 935.7,664.5 936.0,663.2 936.3,665.2 936.6,665.4 936.9,660.8 937.2,663.1 937.5,663.4 937.8,669.0 938.1,666.7 938.4,658.9 938.7,661.4 939.0,670.6 939.3,666.2 939.6,662.1 939.9,664.2 940.2,662.9 940.5,667.3 940.8,662.0 941.1,665.7 941.4,660.9 941.7,667.0 942.0,663.2 942.3,667.2 942.6,661.1 942.9,666.9 943.2,662.9 943.5,658.5 943.8,670.5 944.1,661.6 944.4,662.8 944.7,673.1 945.0,667.7 945.3,666.4 945.6,660.6 945.9,667.5 946.2,665.4 946.5,661.6 946.8,663.5 947.1,664.1 947.4,666.9 947.7,666.3 948.0,662.8 948.3,663.2 948.6,669.6 948.9,654.8 949.2,673.1 949.5,667.2 949.8,663.3 950.1,661.6 950.4,672.6 950.7,664.9 951.0,669.6 951.3,666.1 951.6,658.6 951.9,654.7 952.2,663.2 952.5,662.8 952.8,661.6 953.1,656.0 953.4,670.8 953.7,668.1 954.0,667.1 954.3,664.5 954.6,664.1 954.9,661.3 955.2,665.5 955.5,661.2 955.8,668.6 956.1,665.8 956.4,669.0 956.7,664.5 957.0,665.8 957.3,662.4 957.6,658.3 957.9,668.1 958.2,664.0 958.5,669.1 958.8,658.5 959.1,662.3 959.4,664.9 959.7,666.2 960.0,663.3 960.3,665.1 960.6,664.4 960.9,672.4 961.2,655.5 961.5,660.3 961.8,657.3 962.1,666.8 962.4,663.0 962.7,665.2 963.0,663.8 963.3,667.3 963.6,672.3 963.9,663.0 964.2,666.2 964.5,656.5 964.8,663.8 965.1,667.1 965.4,663.4 965.7,672.3 966.0,660.3 966.3,659.6 966.6,664.8 966.9,662.5 967.2,661.9 967.5,662.5 967.8,659.8 968.1,661.8 968.4,665.1 968.7,669.9 969.0,664.3 969.3,661.5 969.6,661.5 969.9,662.1 970.2,658.8 970.5,664.1 970.8,665.2 971.1,663.3 971.4,670.4 971.7,661.6 972.0,666.4 972.3,669.4 972.6,668.2 972.9,664.1 973.2,661.0 973.5,665.2 973.8,661.1 974.1,665.1 974.4,660.6 974.7,666.1 975.0,671.4 975.3,667.3 975.6,667.5 975.9,663.3 976.2,660.0 976.5,659.3 976.8,667.3 977.1,667.2 977.4,664.7 977.7,670.6 978.0,662.6 978.3,672.9 978.6,662.0 978.9,670.4 979.2,657.4 979.5,663.2 979.8,669.3 980.1,659.1 980.4,659.4 980.7,662.9 981.0,662.8 981.3,666.8 981.6,661.4 981.9,668.5 982.2,672.2 982.5,662.8 982.8,663.8 983.1,672.8 983.4,662.3 983.7,664.9 984.0,665.5 984.3,664.1 984.6,667.1 984.9,668.3 985.2,664.8 985.5,668.6 985.8,658.5 986.1,670.6 986.4,665.2 986.7,668.8 987.0,667.4 987.3,667.0 987.6,664.0 987.9,662.3 988.2,672.3 988.5,663.1 988.8,667.7 989.1,670.7 989.4,661.9 989.7,666.9 990.0,672.0 990.3,670.5 990.6,668.0 990.9,670.4 991.2,657.9 991.5,664.7 991.8,666.6 992.1,663.8 992.4,672.6 992.7,665.8 993.0,661.7 993.3,664.8 993.6,664.5 993.9,660.5 994.2,664.2 994.5,660.6 994.8,665.6 995.1,657.4 995.4,670.7 995.7,667.2 996.0,669.6 996.3,670.3 996.6,665.1 996.9,664.6 997.2,661.4 997.5,666.9 997.8,660.0 998.1,666.5 998.4,665.2 998.7,666.5 999.0,668.4 999.3,669.7 999.6,661.3 999.9,666.5 1000.2,660.3 1000.5,665.5 1000.8,667.8 1001.1,660.4 1001.4,656.7 1001.7,662.8 1002.0,658.8 1002.3,671.0 1002.6,672.8 1002.9,664.1 1003.2,667.7 1003.5,671.8 1003.8,663.8 1004.1,667.5 1004.4,673.4 1004.7,663.7 1005.0,663.3 1005.3,665.8 1005.6,666.8 1005.9,664.2 1006.2,664.6 1006.5,659.5 1006.8,664.2 1007.1,663.1 1007.4,664.1 1007.7,658.4 1008.0,669.2 1008.3,671.1 1008.6,664.6 1008.9,663.4 1009.2,661.0 1009.5,665.3 1009.8,664.7 1010.1,664.2 1010.4,667.0 1010.7,663.4 1011.0,665.9 1011.3,669.2 1011.6,668.3 1011.9,663.2 1012.2,672.4 1012.5,663.3 1012.8,664.0 1013.1,658.7 1013.4,667.2 1013.7,673.6 1014.0,668.7 1014.3,659.7 1014.6,662.9 1014.9,670.9 1015.2,672.9 1015.5,665.7 1015.8,661.4 1016.1,659.6 1016.4,662.2 1016.7,658.7 1017.0,668.8 1017.3,669.2 1017.6,669.9 1017.9,667.8 1018.2,661.7 1018.5,667.5 1018.8,672.0 1019.1,668.7 1019.4,666.9 1019.7,657.3 1020.0,658.9 1020.3,667.5 1020.6,660.5 1020.9,671.0 1021.2,667.2 1021.5,662.7 1021.8,672.5 1022.1,667.5 1022.4,662.7 1022.7,664.2 1023.0,668.2 1023.3,672.2 1023.6,670.8 1023.9,668.6 1024.2,670.1 1024.5,662.7 1024.8,673.9 1025.1,667.2 1025.4,664.6 1025.7,663.5 1026.0,661.6 1026.3,671.9 1026.6,667.1 1026.9,668.3 1027.2,665.8 1027.5,666.4 1027.8,662.8 1028.1,664.1 1028.4,662.2 1028.7,666.0 1029.0,656.1 1029.3,672.9 1029.6,666.5 1029.9,673.4 1030.2,668.1 1030.5,662.2 1030.8,662.3 1031.1,669.7 1031.4,670.7 1031.7,657.0 1032.0,664.5 1032.3,669.7 1032.6,672.3 1032.9,666.7 1033.2,664.3 1033.5,665.0 1033.8,674.1 1034.1,666.8 1034.4,673.0 1034.7,661.2 1035.0,664.8 1035.3,662.6 1035.6,665.1 1035.9,665.4 1036.2,668.1 1036.5,667.2 1036.8,671.3 1037.1,664.2 1037.4,660.4 1037.7,665.0 1038.0,669.6 1038.3,665.7 1038.6,668.2 1038.9,663.7 1039.2,668.0 1039.5,669.5 1039.8,664.6 1040.1,671.1 1040.4,671.2 1040.7,662.3 1041.0,657.2 1041.3,669.5 1041.6,659.9 1041.9,671.1 1042.2,667.9 1042.5,663.8 1042.8,665.2 1043.1,665.2 1043.4,666.3 1043.7,672.4 1044.0,667.4 1044.3,662.9 1044.6,663.7 1044.9,670.3 1045.2,671.3 1045.5,667.0 1045.8,658.2 1046.1,662.0 1046.4,665.1 1046.7,668.0 1047.0,665.8 1047.3,663.8 1047.6,665.4 1047.9,664.7 1048.2,670.5 1048.5,668.3 1048.8,659.1 1049.1,673.2 1049.4,670.7 1049.7,661.6 1050.0,667.5 1050.3,663.6 1050.6,661.0 1050.9,672.2 1051.2,664.4 1051.5,667.1 1051.8,667.5 1052.1,667.7 1052.4,665.8 1052.7,665.0 1053.0,670.1 1053.3,668.1 1053.6,666.5 1053.9,663.3 1054.2,667.7 1054.5,669.7 1054.8,667.7 1055.1,665.8 1055.4,672.7 1055.7,663.0 1056.0,668.7 1056.3,674.0 1056.6,669.0 1056.9,661.8 1057.2,666.9 1057.5,667.3 1057.8,664.2 1058.1,662.7 1058.4,662.9 1058.7,657.7 1059.0,670.8 1059.3,660.3 1059.6,662.3 1059.9,667.4 1060.2,661.6 1060.5,668.3 1060.8,677.5 1061.1,665.5 1061.4,666.1 1061.7,664.4 1062.0,666.8 1062.3,664.4 1062.6,663.9 1062.9,664.9 1063.2,662.8 1063.5,665.2 1063.8,667.8 1064.1,668.3 1064.4,666.0 1064.7,667.8 1065.0,673.2 1065.3,661.9 1065.6,663.0 1065.9,663.5 1066.2,661.5 1066.5,667.3 1066.8,668.3 1067.1,663.2 1067.4,662.4 1067.7,661.2 1068.0,668.4 1068.3,665.1 1068.6,662.7 1068.9,663.8 1069.2,665.6 1069.5,662.0 1069.8,666.3 1070.1,659.7 1070.4,670.5 1070.7,666.7 1071.0,664.3 1071.3,662.3 1071.6,672.0 1071.9,667.9 1072.2,667.9 1072.5,669.5 1072.8,668.3 1073.1,671.9 1073.4,658.3 1073.7,664.4 1074.0,666.8 1074.3,670.1 1074.6,662.3 1074.9,664.5 1075.2,670.7 1075.5,663.4 1075.8,667.6 1076.1,664.7 1076.4,665.6 1076.7,663.9 1077.0,668.5 1077.3,670.4 1077.6,664.3 1077.9,665.1 1078.2,666.9 1078.5,663.3 1078.8,669.4 1079.1,666.6 1079.4,667.1 1079.7,670.6 1080.0,661.3 1080.3,670.0 1080.6,660.8 1080.9,672.0 1081.2,660.8 1081.5,665.2 1081.8,666.2 1082.1,662.9 1082.4,670.1 1082.7,670.0 1083.0,664.6 1083.3,665.9 1083.6,666.3 1083.9,666.0 1084.2,666.1 1084.5,666.1 1084.8,665.6 1085.1,669.2 1085.4,662.6 1085.7,667.6 1086.0,665.5 1086.3,670.6 1086.6,665.0 1086.9,664.1 1087.2,669.2 1087.5,665.8 1087.8,662.6 1088.1,664.3 1088.4,667.6 1088.7,671.9 1089.0,667.0 1089.3,660.4 1089.6,669.6 1089.9,668.4 1090.2,659.9 1090.5,659.0 1090.8,663.2 1091.1,663.0 1091.4,667.2 1091.7,660.1 1092.0,665.5 1092.3,665.4 1092.6,671.4 1092.9,663.6 1093.2,663.0 1093.5,660.6 1093.8,668.5 1094.1,671.0 1094.4,658.2 1094.7,662.2 1095.0,666.1 1095.3,670.4 1095.6,660.5 1095.9,670.6 1096.2,666.8 1096.5,659.8 1096.8,670.5 1097.1,667.0 1097.4,661.6 1097.7,664.6 1098.0,664.5 1098.3,670.6 1098.6,668.3 1098.9,672.6 1099.2,660.9 1099.5,669.4 1099.8,669.8 1100.1,665.8 1100.4,666.4 1100.7,666.8 1101.0,669.1 1101.3,662.1 1101.6,661.2 1101.9,667.6 1102.2,667.7 1102.5,665.7 1102.8,664.2 1103.1,663.1 1103.4,658.3 1103.7,665.2 1104.0,666.4 1104.3,674.6 1104.6,662.9 1104.9,667.5 1105.2,668.0 1105.5,665.5 1105.8,667.1 1106.1,670.4 1106.4,665.3 1106.7,669.1 1107.0,669.5 1107.3,660.8 1107.6,660.4 1107.9,663.8 1108.2,669.3 1108.5,670.6 1108.8,663.3 1109.1,666.0 1109.4,663.4 1109.7,670.0 1110.0,664.5 1110.3,663.6 1110.6,664.1 1110.9,664.0 1111.2,659.4 1111.5,667.9 1111.8,663.9 1112.1,653.3 1112.4,660.5 1112.7,659.8 1113.0,667.4 1113.3,659.2 1113.6,666.4 1113.9,666.4 1114.2,661.1 1114.5,667.5 1114.8,659.2 1115.1,669.3 1115.4,658.1 1115.7,665.7 1116.0,669.9 1116.3,657.5 1116.6,661.1 1116.9,659.2 1117.2,661.2 1117.5,663.4 1117.8,668.8 1118.1,663.0 1118.4,662.4 1118.7,666.2 1119.0,663.5 1119.3,662.6 1119.6,658.9 1119.9,663.9 1120.2,666.0 1120.5,664.9 1120.8,660.3 1121.1,663.7 1121.4,662.9 1121.7,655.3 1122.0,661.1 1122.3,666.2 1122.6,657.2 1122.9,664.8 1123.2,666.4 1123.5,657.6 1123.8,662.3 1124.1,660.9 1124.4,659.4 1124.7,657.5 1125.0,657.0 1125.3,653.3 1125.6,658.8 1125.9,651.5 1126.2,658.0 1126.5,651.9 1126.8,650.9 1127.1,660.6 1127.4,650.8 1127.7,646.3 1128.0,654.0 1128.3,651.5 1128.6,654.8 1128.9,648.0 1129.2,645.0 1129.5,641.8 1129.8,644.0 1130.1,653.3 1130.4,640.3 1130.7,639.5 1131.0,637.1 1131.3,645.3 1131.6,646.8 1131.9,644.9 1132.2,636.5 1132.5,639.5 1132.8,642.0 1133.1,637.6 1133.4,642.4 1133.7,629.8 1134.0,637.2 1134.3,639.0 1134.6,637.3 1134.9,630.6 1135.2,631.9 1135.5,623.3 1135.8,630.9 1136.1,619.8 1136.4,633.3 1136.7,628.2 1137.0,625.0 1137.3,626.3 1137.6,628.5 1137.9,630.0 1138.2,633.5 1138.5,633.6 1138.8,627.0 1139.1,626.3 1139.4,626.7 1139.7,629.3 1140.0,629.8 1140.3,621.0 1140.6,627.3 1140.9,629.1 1141.2,632.8 1141.5,627.5 1141.8,628.2 1142.1,629.2 1142.4,633.8 1142.7,631.6 1143.0,638.9 1143.3,634.9 1143.6,636.4 1143.9,644.4 1144.2,641.1 1144.5,635.2 1144.8,639.2 1145.1,645.5 1145.4,646.8 1145.7,642.3 1146.0,640.5 1146.3,655.2 1146.6,645.3 1146.9,653.5 1147.2,653.2 1147.5,643.1 1147.8,645.7 1148.1,652.5 1148.4,646.6 1148.7,648.1 1149.0,653.5 1149.3,651.6 1149.6,659.1 1149.9,657.6 1150.2,650.0 1150.5,661.3 1150.8,648.1 1151.1,662.5 1151.4,662.5 1151.7,652.2 1152.0,656.5 1152.3,657.1 1152.6,659.1 1152.9,652.0 1153.2,661.0 1153.5,666.7 1153.8,653.6 1154.1,661.5 1154.4,657.6 1154.7,660.7 1155.0,661.1 1155.3,655.9 1155.6,658.4 1155.9,663.1 1156.2,663.4 1156.5,671.6 1156.8,655.8 1157.1,662.4 1157.4,656.1 1157.7,655.7 1158.0,665.6 1158.3,663.8 1158.6,669.2 1158.9,666.7 1159.2,663.6 1159.5,665.5 1159.8,666.1 1160.1,659.6 1160.4,660.6 1160.7,663.0 1161.0,661.7 1161.3,667.2 1161.6,667.4 1161.9,669.9 1162.2,669.4 1162.5,668.1 1162.8,664.5 1163.1,663.3 1163.4,664.6 1163.7,664.2 1164.0,656.0 1164.3,663.0 1164.6,667.9 1164.9,669.2 1165.2,659.4 1165.5,670.3 1165.8,666.6 1166.1,660.2 1166.4,668.3 1166.7,657.8 1167.0,666.0 1167.3,667.1 1167.6,660.0 1167.9,667.0 1168.2,664.3 1168.5,669.6 1168.8,659.7 1169.1,662.4 1169.4,666.1 1169.7,667.2 1170.0,669.5 1170.3,667.7 1170.6,664.6 1170.9,671.2 1171.2,670.2 1171.5,667.9 1171.8,662.2 1172.1,663.9 1172.4,666.2 1172.7,665.3 1173.0,668.3 1173.3,664.4 1173.6,660.9 1173.9,659.1 1174.2,663.3 1174.5,662.9 1174.8,659.4 1175.1,665.0 1175.4,660.4 1175.7,660.2 1176.0,667.8 1176.3,663.2 1176.6,669.4 1176.9,665.3 1177.2,660.7 1177.5,671.4 1177.8,664.7 1178.1,663.3 1178.4,673.4 1178.7,662.6 1179.0,672.0 1179.3,659.9 1179.6,661.0 1179.9,664.7 1180.2,666.0 1180.5,658.6 1180.8,666.2 1181.1,663.0 1181.4,651.0 1181.7,659.9 1182.0,667.7 1182.3,657.2 1182.6,662.9 1182.9,665.4 1183.2,668.0 1183.5,661.4 1183.8,662.6 1184.1,665.0 1184.4,662.3 1184.7,661.9 1185.0,666.1 1185.3,664.0 1185.6,658.7 1185.9,667.6 1186.2,664.6 1186.5,663.4 1186.8,659.8 1187.1,668.8 1187.4,660.6 1187.7,660.0 1188.0,668.4 1188.3,663.2 1188.6,666.2 1188.9,668.2 1189.2,669.8 1189.5,661.2 1189.8,661.3 1190.1,669.6 1190.4,663.8 1190.7,662.9 1191.0,667.2 1191.3,671.2 1191.6,667.9 1191.9,660.1 1192.2,657.0 1192.5,669.3 1192.8,668.9 1193.1,658.8 1193.4,667.5 1193.7,662.9 1194.0,667.0 1194.3,671.3 1194.6,665.5 1194.9,664.1 1195.2,665.3 1195.5,663.3 1195.8,668.5 1196.1,663.8 1196.4,661.5 1196.7,667.6 1197.0,667.1 1197.3,665.3 1197.6,665.6 1197.9,660.9 1198.2,657.6 1198.5,660.5 1198.8,667.4 1199.1,665.0 1199.4,663.3 1199.7,659.7 1200.0,667.8 1200.3,660.3 1200.6,665.9 1200.9,663.9 1201.2,660.3 1201.5,664.7 1201.8,666.3 1202.1,661.5 1202.4,664.8 1202.7,661.4 1203.0,657.9 1203.3,661.0 1203.6,662.6 1203.9,663.6 1204.2,662.9 1204.5,671.1 1204.8,662.1 1205.1,669.3 1205.4,657.5 1205.7,660.6 1206.0,663.0 1206.3,662.1 1206.6,663.7 1206.9,668.2 1207.2,665.0 1207.5,669.0 1207.8,663.8 1208.1,657.7 1208.4,661.5 1208.7,661.0 1209.0,665.9 1209.3,658.9 1209.6,670.6 1209.9,664.0 1210.2,658.7 1210.5,661.3 1210.8,666.5 1211.1,665.2 1211.4,658.6 1211.7,657.5 1212.0,666.6 1212.3,661.8 1212.6,667.7 1212.9,654.9 1213.2,665.7 1213.5,663.2 1213.8,664.5 1214.1,665.8 1214.4,656.4 1214.7,657.5 1215.0,662.8 1215.3,660.3 1215.6,653.9 1215.9,656.4 1216.2,662.5 1216.5,659.3 1216.8,654.6 1217.1,664.2 1217.4,664.7 1217.7,660.0 1218.0,659.4 1218.3,662.5 1218.6,654.8 1218.9,654.1 1219.2,662.0 1219.5,662.6 1219.8,661.1 1220.1,658.0 1220.4,660.7 1220.7,651.7 1221.0,659.7 1221.3,653.0 1221.6,657.3 1221.9,662.5 1222.2,651.6 1222.5,653.6 1222.8,656.9 1223.1,654.5 1223.4,649.8 1223.7,660.8 1224.0,664.2 1224.3,649.5 1224.6,654.2 1224.9,658.9 1225.2,656.0 1225.5,658.7 1225.8,653.7 1226.1,662.4 1226.4,659.8 1226.7,646.4 1227.0,640.1 1227.3,657.3 1227.6,651.5 1227.9,646.4 1228.2,651.7 1228.5,652.9 1228.8,645.9 1229.1,645.1 1229.4,645.2 1229.7,642.4 1230.0,640.4 1230.3,640.1 1230.6,638.7 1230.9,642.3 1231.2,636.8 1231.5,638.2 1231.8,631.3 1232.1,638.0 1232.4,624.9 1232.7,639.8 1233.0,635.0 1233.3,630.6 1233.6,624.5 1233.9,622.7 1234.2,628.6 1234.5,618.2 1234.8,608.4 1235.1,618.7 1235.4,615.1 1235.7,618.5 1236.0,604.7 1236.3,605.6 1236.6,584.3 1236.9,594.0 1237.2,590.6 1237.5,586.7 1237.8,591.5 1238.1,582.4 1238.4,573.1 1238.7,571.3 1239.0,561.6 1239.3,559.3 1239.6,556.4 1239.9,550.3 1240.2,550.3 1240.5,543.3 1240.8,546.0 1241.1,549.5 1241.4,529.6 1241.7,527.2 1242.0,526.6 1242.3,528.4 1242.6,528.1 1242.9,533.0 1243.2,532.5 1243.5,545.5 1243.8,533.8 1244.1,532.7 1244.4,535.0 1244.7,530.9 1245.0,550.5 1245.3,540.2 1245.6,545.7 1245.9,559.2 1246.2,553.6 1246.5,561.7 1246.8,561.0 1247.1,563.4 1247.4,569.6 1247.7,572.1 1248.0,579.3 1248.3,579.3 1248.6,584.9 1248.9,597.7 1249.2,589.6 1249.5,593.7 1249.8,608.3 1250.1,607.6 1250.4,608.8 1250.7,601.4 1251.0,612.3 1251.3,607.7 1251.6,615.0 1251.9,618.6 1252.2,627.9 1252.5,629.4 1252.8,625.9 1253.1,633.9 1253.4,637.4 1253.7,639.8 1254.0,623.3 1254.3,631.6 1254.6,634.6 1254.9,637.5 1255.2,644.5 1255.5,636.1 1255.8,648.1 1256.1,643.8 1256.4,642.7 1256.7,654.8 1257.0,642.9 1257.3,641.8 1257.6,649.3 1257.9,650.3 1258.2,644.3 1258.5,644.4 1258.8,651.3 1259.1,645.5 1259.4,649.5 1259.7,654.1 1260.0,659.8 1260.3,648.1 1260.6,651.1 1260.9,654.2 1261.2,655.3 1261.5,652.3 1261.8,659.6 1262.1,653.3 1262.4,662.5 1262.7,659.4 1263.0,655.5 1263.3,659.6 1263.6,656.1 1263.9,661.3 1264.2,657.7 1264.5,650.0 1264.8,658.2 1265.1,661.2 1265.4,658.9 1265.7,655.4 1266.0,662.0 1266.3,653.1 1266.6,663.9 1266.9,657.6 1267.2,658.9 1267.5,664.1 1267.8,656.0 1268.1,662.6 1268.4,657.2 1268.7,656.5 1269.0,652.4 1269.3,660.4 1269.6,656.3 1269.9,659.8 1270.2,665.9 1270.5,650.2 1270.8,662.2 1271.1,648.3 1271.4,659.8 1271.7,660.5 1272.0,657.6 1272.3,662.2 1272.6,660.4 1272.9,659.4 1273.2,659.9 1273.5,659.9 1273.8,666.9 1274.1,661.8 1274.4,661.7 1274.7,663.1 1275.0,660.5 1275.3,662.0 1275.6,654.7 1275.9,662.2 1276.2,665.9 1276.5,660.6 1276.8,664.7 1277.1,666.7 1277.4,661.6 1277.7,658.5 1278.0,658.9 1278.3,667.5 1278.6,663.8 1278.9,661.3 1279.2,660.5 1279.5,662.2 1279.8,659.8 1280.1,661.7 1280.4,661.1 1280.7,657.6 1281.0,660.6 1281.3,660.8 1281.6,662.9 1281.9,664.9 1282.2,668.7 1282.5,665.2 1282.8,668.6 1283.1,662.5 1283.4,658.0 1283.7,661.1 1284.0,651.6 1284.3,666.8 1284.6,659.4 1284.9,652.7 1285.2,666.9 1285.5,666.6 1285.8,656.6 1286.1,664.6 1286.4,666.5 1286.7,662.3 1287.0,667.7 1287.3,656.9 1287.6,663.8 1287.9,669.5 1288.2,661.9 1288.5,662.5 1288.8,659.3 1289.1,660.5 1289.4,661.2 1289.7,663.8 1290.0,664.7 1290.3,658.0 1290.6,660.4 1290.9,666.2 1291.2,663.4 1291.5,663.5 1291.8,669.2 1292.1,665.9 1292.4,664.2 1292.7,656.5 1293.0,665.1 1293.3,664.6 1293.6,673.3 1293.9,659.1 1294.2,668.9 1294.5,657.0 1294.8,667.8 1295.1,662.8 1295.4,669.5 1295.7,660.9 1296.0,665.2 1296.3,661.6 1296.6,660.6 1296.9,658.6 1297.2,660.1 1297.5,661.3 1297.8,671.7 1298.1,669.2 1298.4,661.8 1298.7,660.1 1299.0,656.1 1299.3,674.2 1299.6,660.3 1299.9,661.7 1300.2,662.5 1300.5,666.8 1300.8,661.6 1301.1,665.9 1301.4,661.5 1301.7,661.6 1302.0,665.0 1302.3,665.5 1302.6,666.9 1302.9,662.7 1303.2,666.7 1303.5,663.8 1303.8,664.0 1304.1,660.8 1304.4,661.0 1304.7,660.6 1305.0,671.6 1305.3,667.7 1305.6,663.4 1305.9,660.7 1306.2,665.7 1306.5,662.6 1306.8,662.6 1307.1,667.7 1307.4,658.6 1307.7,661.9 1308.0,673.2 1308.3,655.1 1308.6,662.8 1308.9,660.7 1309.2,661.2 1309.5,666.1 1309.8,666.5 1310.1,662.6 1310.4,658.3 1310.7,664.2 1311.0,660.2 1311.3,662.8 1311.6,666.2 1311.9,666.9 1312.2,658.5 1312.5,660.3 1312.8,662.8 1313.1,666.9 1313.4,664.8 1313.7,663.6 1314.0,665.3 1314.3,663.4 1314.6,662.7 1314.9,666.1 1315.2,655.9 1315.5,662.5 1315.8,665.7 1316.1,665.1 1316.4,658.9 1316.7,665.9 1317.0,660.4 1317.3,662.8 1317.6,660.1 1317.9,665.5 1318.2,660.1 1318.5,668.0 1318.8,658.0 1319.1,666.5 1319.4,662.3 1319.7,669.5 1320.0,664.6 1320.3,666.0 1320.6,662.6 1320.9,670.4 1321.2,664.9 1321.5,652.8 1321.8,666.9 1322.1,666.2 1322.4,664.5 1322.7,660.3 1323.0,661.4 1323.3,665.2 1323.6,669.9 1323.9,660.5 1324.2,660.3 1324.5,661.8 1324.8,671.7 1325.1,658.4 1325.4,660.3 1325.7,661.9 1326.0,670.7 1326.3,658.9 1326.6,664.9 1326.9,675.9 1327.2,668.4 1327.5,661.5 1327.8,660.2 1328.1,662.5 1328.4,658.3 1328.7,662.5 1329.0,663.1 1329.3,659.9 1329.6,655.1 1329.9,666.6 1330.2,668.3 1330.5,660.5 1330.8,659.2 1331.1,665.1 1331.4,670.3 1331.7,664.6 1332.0,657.8 1332.3,659.7 1332.6,661.4 1332.9,660.9 1333.2,658.2 1333.5,660.4 1333.8,666.6 1334.1,662.4 1334.4,662.8 1334.7,660.5 1335.0,665.5 1335.3,660.4 1335.6,665.1 1335.9,663.8 1336.2,666.0 1336.5,666.6 1336.8,663.2 1337.1,653.2 1337.4,664.2 1337.7,661.8 1338.0,665.8 1338.3,665.0 1338.6,665.5 1338.9,662.9 1339.2,665.2 1339.5,663.9 1339.8,664.1 1340.1,660.0 1340.4,667.3 1340.7,661.2 1341.0,667.0 1341.3,667.0 1341.6,669.0 1341.9,667.8 1342.2,667.4 1342.5,665.6 1342.8,659.9 1343.1,664.3 1343.4,667.4 1343.7,658.5 1344.0,667.4 1344.3,659.3 1344.6,664.6 1344.9,664.4 1345.2,662.1 1345.5,663.0 1345.8,661.2 1346.1,658.8 1346.4,667.8 1346.7,665.2 1347.0,665.9 1347.3,662.7 1347.6,666.9 1347.9,658.7 1348.2,667.1 1348.5,663.4 1348.8,663.0 1349.1,663.8 1349.4,663.7 1349.7,660.5 1350.0,661.3 1350.3,663.4 1350.6,661.9 1350.9,665.7 1351.2,656.9 1351.5,667.8 1351.8,666.7 1352.1,667.1 1352.4,667.9 1352.7,658.0 1353.0,658.0 1353.3,669.0 1353.6,661.7 1353.9,660.1 1354.2,665.4 1354.5,661.4 1354.8,660.2 1355.1,665.8 1355.4,666.2 1355.7,658.2 1356.0,661.4 1356.3,666.1 1356.6,663.6 1356.9,669.9 1357.2,661.9 1357.5,669.1 1357.8,661.9 1358.1,654.0 1358.4,655.6 1358.7,662.0 1359.0,667.2 1359.3,660.7 1359.6,659.2 1359.9,673.0 1360.2,665.1 1360.5,669.6 1360.8,659.1 1361.1,659.5 1361.4,653.8 1361.7,662.4 1362.0,662.3 1362.3,659.3 1362.6,661.9 1362.9,667.6 1363.2,670.7 1363.5,664.8 1363.8,664.2 1364.1,664.4 1364.4,661.8 1364.7,665.6 1365.0,668.8 1365.3,659.8 1365.6,660.5 1365.9,654.4 1366.2,664.1 1366.5,658.0 1366.8,659.7 1367.1,658.7 1367.4,662.8 1367.7,659.3 1368.0,668.9 1368.3,661.9 1368.6,657.1 1368.9,658.2 1369.2,659.9 1369.5,667.3 1369.8,657.2 1370.1,664.2 1370.4,661.8 1370.7,657.3 1371.0,666.4 1371.3,664.0 1371.6,658.0 1371.9,663.9 1372.2,660.2 1372.5,656.2 1372.8,663.6 1373.1,667.3 1373.4,663.1 1373.7,656.3 1374.0,665.2 1374.3,652.7 1374.6,651.8 1374.9,661.0 1375.2,661.6 1375.5,664.1 1375.8,661.6 1376.1,661.2 1376.4,662.0 1376.7,652.7 1377.0,661.2 1377.3,653.3 1377.6,660.2 1377.9,658.7 1378.2,656.8 1378.5,663.2 1378.8,648.5 1379.1,659.0 1379.4,661.5 1379.7,660.9 1380.0,658.4 1380.3,659.6 1380.6,655.8 1380.9,656.5 1381.2,658.7 1381.5,655.9 1381.8,663.5 1382.1,658.9 1382.4,662.0 1382.7,659.7 1383.0,656.9 1383.3,661.3 1383.6,662.7 1383.9,661.3 1384.2,657.6 1384.5,659.5 1384.8,657.7 1385.1,654.5 1385.4,652.8 1385.7,660.1 1386.0,649.1 1386.3,654.3 1386.6,642.2 1386.9,651.4 1387.2,652.7 1387.5,654.5 1387.8,668.5 1388.1,650.5 1388.4,653.7 1388.7,655.6 1389.0,655.8 1389.3,654.5 1389.6,659.7 1389.9,650.6 1390.2,656.2 1390.5,650.5 1390.8,650.5 1391.1,654.1 1391.4,651.0 1391.7,647.4 1392.0,642.1 1392.3,644.5 1392.6,651.4 1392.9,652.1 1393.2,648.4 1393.5,647.0 1393.8,646.3 1394.1,635.6 1394.4,645.5 1394.7,644.9 1395.0,650.0 1395.3,648.6 1395.6,642.1 1395.9,645.5 1396.2,649.0 1396.5,642.9 1396.8,637.0 1397.1,635.3 1397.4,635.5 1397.7,631.4 1398.0,636.2 1398.3,630.3 1398.6,640.0 1398.9,633.4 1399.2,623.8 1399.5,637.0 1399.8,632.6 1400.1,629.6 1400.4,621.2 1400.7,610.2 1401.0,618.8 1401.3,607.3 1401.6,603.9 1401.9,613.3 1402.2,604.3 1402.5,598.8 1402.8,593.9 1403.1,588.0 1403.4,590.1 1403.7,583.2 1404.0,587.4 1404.3,575.0 1404.6,583.4 1404.9,563.6 1405.2,561.7 1405.5,552.9 1405.8,549.0 1406.1,541.6 1406.4,541.8 1406.7,544.4 1407.0,534.3 1407.3,530.3 1407.6,526.2 1407.9,511.4 1408.2,509.5 1408.5,513.0 1408.8,499.8 1409.1,488.2 1409.4,489.2 1409.7,491.8 1410.0,482.4 1410.3,468.9 1410.6,473.2 1410.9,480.9 1411.2,481.0 1411.5,469.0 1411.8,470.4 1412.1,481.9 1412.4,463.6 1412.7,479.0 1413.0,486.6 1413.3,483.2 1413.6,490.0 1413.9,490.0 1414.2,497.3 1414.5,500.6 1414.8,509.0 1415.1,505.2 1415.4,517.0 1415.7,514.1 1416.0,528.3 1416.3,536.2 1416.6,545.4 1416.9,549.4 1417.2,554.6 1417.5,549.4 1417.8,556.1 1418.1,564.1 1418.4,563.7 1418.7,577.5 1419.0,577.6 1419.3,578.5 1419.6,584.6 1419.9,590.6 1420.2,597.3 1420.5,593.5 1420.8,609.6 1421.1,603.7 1421.4,608.1 1421.7,609.9 1422.0,622.7 1422.3,617.8 1422.6,613.8 1422.9,619.5 1423.2,623.3 1423.5,624.6 1423.8,630.1 1424.1,623.7 1424.4,633.8 1424.7,632.5 1425.0,635.9 1425.3,629.3 1425.6,637.8 1425.9,638.4 1426.2,636.6 1426.5,637.2 1426.8,639.3 1427.1,642.7 1427.4,642.0 1427.7,641.9 1428.0,647.0 1428.3,643.5 1428.6,651.0 1428.9,646.1 1429.2,655.4 1429.5,654.0 1429.8,644.1 1430.1,649.7 1430.4,645.5 1430.7,647.9 1431.0,649.9 1431.3,655.1 1431.6,649.6 1431.9,654.0 1432.2,653.6 1432.5,653.4 1432.8,659.8 1433.1,658.4 1433.4,656.7 1433.7,650.5 1434.0,654.7 1434.3,662.8 1434.6,652.4 1434.9,655.6 1435.2,650.5 1435.5,654.3 1435.8,650.9 1436.1,652.3 1436.4,655.4 1436.7,661.0 1437.0,649.1 1437.3,659.2 1437.6,655.1 1437.9,651.7 1438.2,660.2 1438.5,652.1 1438.8,656.0 1439.1,664.4 1439.4,656.3 1439.7,656.9 1440.0,655.7 1440.3,649.0 1440.6,657.0 1440.9,666.9 1441.2,656.7 1441.5,654.5 1441.8,650.9 1442.1,657.7 1442.4,652.7 1442.7,647.9 1443.0,648.4 1443.3,655.3 1443.6,659.1 1443.9,651.6 1444.2,666.2 1444.5,661.6 1444.8,661.3 1445.1,664.1 1445.4,661.0 1445.7,660.3 1446.0,658.1 1446.3,660.5 1446.6,667.7 1446.9,662.2 1447.2,663.0 1447.5,656.1 1447.8,658.3 1448.1,660.9 1448.4,656.9 1448.7,661.6 1449.0,663.8 1449.3,662.3 1449.6,659.9 1449.9,661.4 1450.2,663.1 1450.5,666.4 1450.8,663.0 1451.1,659.6 1451.4,659.7 1451.7,664.8 1452.0,662.5 1452.3,666.0 1452.6,667.1 1452.9,664.4 1453.2,658.8 1453.5,668.6 1453.8,666.1 1454.1,653.6 1454.4,656.4 1454.7,660.3 1455.0,668.5 1455.3,659.5 1455.6,658.4 1455.9,661.5 1456.2,662.6 1456.5,661.0 1456.8,659.0 1457.1,665.2 1457.4,662.7 1457.7,661.8 1458.0,667.9 1458.3,663.4 1458.6,670.4 1458.9,665.6 1459.2,668.4 1459.5,657.0 1459.8,665.6 1460.1,664.4 1460.4,661.6 1460.7,661.3 1461.0,664.5 1461.3,663.1 1461.6,661.6 1461.9,665.4 1462.2,663.3 1462.5,660.8 1462.8,663.0 1463.1,664.2 1463.4,665.5 1463.7,660.1 1464.0,663.8 1464.3,667.6 1464.6,662.0 1464.9,667.6 1465.2,661.0 1465.5,670.7 1465.8,661.5 1466.1,668.0 1466.4,667.1 1466.7,661.5 1467.0,660.7 1467.3,663.8 1467.6,670.7 1467.9,664.3 1468.2,667.5 1468.5,663.6 1468.8,667.0 1469.1,666.1 1469.4,666.8 1469.7,661.9 1470.0,663.0 1470.3,659.5 1470.6,661.5 1470.9,669.4 1471.2,663.1 1471.5,656.9 1471.8,650.5 1472.1,666.2 1472.4,666.5 1472.7,655.0 1473.0,666.2 1473.3,670.0 1473.6,665.8 1473.9,667.1 1474.2,660.3 1474.5,668.2 1474.8,662.3 1475.1,668.5 1475.4,666.0 1475.7,663.4 1476.0,658.9 1476.3,658.2 1476.6,671.2 1476.9,667.1 1477.2,658.9 1477.5,666.1 1477.8,659.7 1478.1,670.9 1478.4,665.2 1478.7,662.1 1479.0,664.6 1479.3,668.4 1479.6,659.6 1479.9,670.1 1480.2,670.2 1480.5,662.1 1480.8,661.3 1481.1,668.0 1481.4,657.0 1481.7,668.7 1482.0,665.6 1482.3,664.8 1482.6,664.5 1482.9,666.7 1483.2,665.2 1483.5,671.2 1483.8,661.5 1484.1,669.9 1484.4,662.1 1484.7,662.4 1485.0,663.9 1485.3,670.9 1485.6,662.9 1485.9,658.9 1486.2,659.0 1486.5,663.0 1486.8,652.4 1487.1,666.7 1487.4,661.2 1487.7,662.3 1488.0,665.9 1488.3,668.7 1488.6,663.5 1488.9,669.3 1489.2,655.8 1489.5,661.9 1489.8,672.4 1490.1,660.2 1490.4,660.7 1490.7,666.3 1491.0,665.3 1491.3,663.6 1491.6,667.6 1491.9,663.0 1492.2,672.4 1492.5,667.9 1492.8,661.5 1493.1,668.4 1493.4,663.7 1493.7,663.3 1494.0,669.9 1494.3,655.6 1494.6,665.1 1494.9,667.0 1495.2,671.2 1495.5,668.1 1495.8,667.9 1496.1,668.0 1496.4,659.5 1496.7,666.6 1497.0,668.2 1497.3,669.4 1497.6,669.8 1497.9,667.0 1498.2,665.4 1498.5,667.9 1498.8,662.0 1499.1,666.9 1499.4,665.3 1499.7,661.5 1500.0,666.6 1500.3,661.4 1500.6,663.8 1500.9,665.4 1501.2,664.8 1501.5,664.1 1501.8,663.1 1502.1,667.3 1502.4,663.8 1502.7,662.0 1503.0,665.2 1503.3,661.2 1503.6,666.1 1503.9,663.5 1504.2,666.9 1504.5,670.3 1504.8,667.4 1505.1,660.3 1505.4,659.0 1505.7,672.0 1506.0,669.4 1506.3,669.3 1506.6,664.6 1506.9,663.8 1507.2,665.9 1507.5,664.1 1507.8,664.2 1508.1,665.1 1508.4,665.8 1508.7,663.3 1509.0,664.4 1509.3,660.3 1509.6,658.0 1509.9,668.2 1510.2,673.0 1510.5,664.5 1510.8,668.9 1511.1,661.7 1511.4,663.2 1511.7,667.0 1512.0,667.7 1512.3,661.2 1512.6,660.0 1512.9,663.3 1513.2,663.2 1513.5,667.4 1513.8,668.1 1514.1,668.2 1514.4,667.0 1514.7,662.7 1515.0,671.6 1515.3,655.3 1515.6,669.3 1515.9,669.2 1516.2,663.6 1516.5,669.2 1516.8,669.4 1517.1,660.8 1517.4,663.9 1517.7,661.4 1518.0,665.9 1518.3,663.1 1518.6,658.3 1518.9,664.9 1519.2,667.3 1519.5,664.0 1519.8,664.9 1520.1,660.6 1520.4,671.2 1520.7,660.6 1521.0,668.5 1521.3,661.1 1521.6,666.1 1521.9,670.1 1522.2,665.0 1522.5,666.0 1522.8,667.1 1523.1,666.8 1523.4,666.4 1523.7,669.1 1524.0,670.9 1524.3,666.4 1524.6,660.8 1524.9,664.3 1525.2,659.3 1525.5,669.3 1525.8,668.2 1526.1,663.3 1526.4,670.0 1526.7,662.3 1527.0,669.2 1527.3,674.1 1527.6,668.1 1527.9,664.9 1528.2,661.9 1528.5,673.5 1528.8,666.4 1529.1,667.1 1529.4,660.3 1529.7,665.7 1530.0,668.3 1530.3,665.3 1530.6,667.4 1530.9,668.3 1531.2,671.9 1531.5,665.8 1531.8,662.1 1532.1,663.0 1532.4,669.4 1532.7,662.2 1533.0,663.0 1533.3,669.3 1533.6,657.3 1533.9,665.9 1534.2,667.2 1534.5,682.2 1534.8,661.3 1535.1,662.9 1535.4,662.8 1535.7,665.3 1536.0,661.5 1536.3,670.4 1536.6,667.0 1536.9,672.8 1537.2,669.0 1537.5,665.4 1537.8,667.4 1538.1,670.1 1538.4,661.9 1538.7,669.5 1539.0,674.6 1539.3,664.2 1539.6,665.5 1539.9,658.8 1540.2,664.4 1540.5,663.0 1540.8,665.4 1541.1,672.1 1541.4,664.0 1541.7,662.8 1542.0,668.9 1542.3,666.2 1542.6,664.5 1542.9,671.2 1543.2,664.6 1543.5,670.4 1543.8,662.2 1544.1,660.4 1544.4,664.7 1544.7,664.9 1545.0,669.6 1545.3,663.8 1545.6,670.9 1545.9,670.5 1546.2,665.4 1546.5,663.7 1546.8,668.7 1547.1,670.1 1547.4,665.1 1547.7,665.8 1548.0,661.4 1548.3,668.6 1548.6,667.6 1548.9,661.9 1549.2,663.6 1549.5,667.0 1549.8,665.2 1550.1,666.8 1550.4,661.0 1550.7,665.5 1551.0,664.2 1551.3,664.2 1551.6,661.3 1551.9,664.7 1552.2,671.9 1552.5,661.1 1552.8,669.1 1553.1,665.3 1553.4,665.0 1553.7,665.9 1554.0,664.0 1554.3,668.3 1554.6,667.9 1554.9,661.2 1555.2,669.0 1555.5,669.6 1555.8,665.7 1556.1,666.3 1556.4,670.1 1556.7,672.1 1557.0,665.5 1557.3,665.5 1557.6,670.7 1557.9,672.1 1558.2,668.3 1558.5,667.1 1558.8,661.5 1559.1,661.4 1559.4,662.3 1559.7,656.3 1560.0,667.9 1560.3,668.5 1560.6,657.6 1560.9,668.9 1561.2,665.4 1561.5,667.6 1561.8,670.5 1562.1,673.7 1562.4,661.9 1562.7,661.9 1563.0,664.9 1563.3,659.6 1563.6,666.3 1563.9,668.7 1564.2,670.8 1564.5,669.8 1564.8,672.2 1565.1,669.7 1565.4,663.1 1565.7,666.4 1566.0,666.1 1566.3,664.6 1566.6,671.3 1566.9,664.2 1567.2,671.6 1567.5,666.4 1567.8,674.0 1568.1,666.9 1568.4,669.3 1568.7,670.0 1569.0,664.4 1569.3,666.9 1569.6,667.7 1569.9,664.6 1570.2,667.0 1570.5,659.9 1570.8,667.0 1571.1,663.7 1571.4,664.0 1571.7,660.3 1572.0,663.2 1572.3,668.4 1572.6,671.7 1572.9,667.6 1573.2,669.0 1573.5,667.9 1573.8,664.0 1574.1,661.4 1574.4,662.2 1574.7,672.5 1575.0,662.1 1575.3,658.7 1575.6,673.4 1575.9,673.4 1576.2,671.8 1576.5,668.3 1576.8,670.3 1577.1,664.0 1577.4,666.5 1577.7,666.4 1578.0,665.2 1578.3,664.8 1578.6,660.7 1578.9,662.3 1579.2,662.1 1579.5,660.5 1579.8,670.3 1580.1,668.5 1580.4,666.6 1580.7,672.4 1581.0,665.7 1581.3,663.4 1581.6,672.8 1581.9,665.4 1582.2,659.9 1582.5,663.6 1582.8,666.9 1583.1,671.9 1583.4,669.8 1583.7,674.4 1584.0,663.2 1584.3,666.1 1584.6,662.5 1584.9,660.8 1585.2,672.7 1585.5,663.0 1585.8,669.4 1586.1,667.3 1586.4,669.9 1586.7,669.9 1587.0,662.8 1587.3,662.4 1587.6,663.7 1587.9,663.7 1588.2,665.6 1588.5,674.4 1588.8,672.1 1589.1,667.9 1589.4,661.4 1589.7,667.1 1590.0,670.2 1590.3,671.4 1590.6,664.4 1590.9,672.9 1591.2,669.2 1591.5,665.0 1591.8,665.6 1592.1,662.1 1592.4,660.6 1592.7,672.3 1593.0,671.9 1593.3,657.1 1593.6,666.0 1593.9,658.5 1594.2,673.2 1594.5,662.0 1594.8,669.9 1595.1,667.1 1595.4,676.6 1595.7,661.4 1596.0,668.7 1596.3,666.6 1596.6,659.4 1596.9,668.9 1597.2,659.1 1597.5,664.2 1597.8,666.9 1598.1,670.9 1598.4,661.9 1598.7,667.8 1599.0,668.2 1599.3,669.3 1599.6,670.7 1599.9,672.1 1600.2,666.6 1600.5,668.8 1600.8,661.1 1601.1,665.6 1601.4,676.1 1601.7,666.0 1602.0,665.9 1602.3,666.4 1602.6,669.3 1602.9,674.7 1603.2,666.3 1603.5,668.2 1603.8,662.3 1604.1,665.1 1604.4,673.4 1604.7,667.0 1605.0,671.8 1605.3,671.5 1605.6,669.7 1605.9,667.5 1606.2,662.9 1606.5,669.8 1606.8,666.5 1607.1,668.3 1607.4,661.3 1607.7,670.2 1608.0,667.0 1608.3,668.0 1608.6,671.9 1608.9,664.4 1609.2,678.3 1609.5,668.7 1609.8,661.8 1610.1,668.3 1610.4,666.6 1610.7,663.0 1611.0,665.3 1611.3,664.8 1611.6,671.6 1611.9,669.6 1612.2,670.7 1612.5,668.8 1612.8,667.5 1613.1,666.0 1613.4,670.0 1613.7,666.6 1614.0,664.1 1614.3,667.6 1614.6,665.0 1614.9,659.5 1615.2,670.1 1615.5,662.3 1615.8,664.2 1616.1,665.5 1616.4,666.4 1616.7,668.0 1617.0,662.0 1617.3,668.0 1617.6,663.5 1617.9,674.6 1618.2,671.5 1618.5,667.2 1618.8,669.8 1619.1,668.3 1619.4,668.1 1619.7,670.4 1620.0,666.7 1620.3,668.4 1620.6,665.0 1620.9,664.3 1621.2,672.6 1621.5,672.8 1621.8,660.4 1622.1,671.1 1622.4,667.9 1622.7,666.5 1623.0,662.5 1623.3,668.6 1623.6,671.9 1623.9,662.1 1624.2,660.3 1624.5,676.7 1624.8,670.1 1625.1,674.5 1625.4,670.5 1625.7,665.7 1626.0,668.0 1626.3,671.8 1626.6,672.1 1626.9,666.0 1627.2,669.0 1627.5,674.6 1627.8,663.3 1628.1,666.3 1628.4,665.0 1628.7,663.7 1629.0,668.9 1629.3,668.9 1629.6,666.7 1629.9,668.8 1630.2,670.5 1630.5,667.7 1630.8,667.2 1631.1,671.6 1631.4,669.4 1631.7,667.5 1632.0,663.8 1632.3,673.8 1632.6,672.5 1632.9,672.1 1633.2,669.1 1633.5,664.2 1633.8,665.8 1634.1,661.7 1634.4,679.8 1634.7,668.8 1635.0,662.9 1635.3,673.6 1635.6,662.4 1635.9,656.6 1636.2,666.2 1636.5,669.5 1636.8,665.9 1637.1,670.8 1637.4,666.2 1637.7,669.4 1638.0,666.4 1638.3,673.8 1638.6,674.9 1638.9,668.2 1639.2,667.1 1639.5,666.4 1639.8,673.8"/>
<polyline stroke="#ff0000" points="120.0,879.3 120.3,883.8 120.6,885.8 120.9,877.3 121.2,885.1 121.5,889.8 121.8,875.2 122.1,877.9 122.4,877.6 122.7,884.7 123.0,884.3 123.3,874.3 123.6,878.4 123.9,886.6 124.2,882.5 124.5,881.9 124.8,887.5 125.1,886.8 125.4,883.4 125.7,872.8 126.0,878.9 126.3,886.9 126.6,878.4 126.9,884.0 127.2,880.4 127.5,887.8 127.8,882.4 128.1,885.3 128.4,875.5 128.7,878.8 129.0,880.9 129.3,886.7 129.6,876.9 129.9,884.0 130.2,884.2 130.5,877.6 130.8,880.9 131.1,882.5 131.4,879.6 131.7,881.9 132.0,882.1 132.3,880.7 132.6,883.1 132.9,880.7 133.2,883.3 133.5,881.5 133.8,879.0 134.1,877.4 134.4,878.3 134.7,874.9 135.0,881.9 135.3,881.8 135.6,888.0 135.9,886.9 136.2,876.7 136.5,887.3 136.8,882.6 137.1,889.3 137.4,880.5 137.7,877.5 138.0,881.8 138.3,876.1 138.6,886.3 138.9,880.8 139.2,876.1 139.5,886.2 139.8,879.0 140.1,887.3 140.4,882.3 140.7,882.1 141.0,883.8 141.3,887.2 141.6,882.6 141.9,882.9 142.2,884.4 142.5,885.4 142.8,895.3 143.1,880.5 143.4,882.6 143.7,885.4 144.0,875.0 144.3,877.7 144.6,885.5 144.9,882.9 145.2,876.8 145.5,881.5 145.8,876.6 146.1,884.6 146.4,878.3 146.7,875.6 147.0,890.1 147.3,885.4 147.6,879.3 147.9,876.1 148.2,883.5 148.5,886.8 148.8,881.7 149.1,880.2 149.4,879.5 149.7,876.4 150.0,881.4 150.3,880.8 150.6,882.2 150.9,884.9 151.2,880.1 151.5,885.7 151.8,875.5 152.1,876.5 152.4,880.7 152.7,885.0 153.0,878.4 153.3,878.6 153.6,883.2 153.9,883.3 154.2,883.6 154.5,884.1 154.8,888.5 155.1,875.2 155.4,886.0 155.7,884.2 156.0,878.8 156.3,878.9 156.6,885.4 156.9,884.5 157.2,885.7 157.5,885.8 157.8,881.8 158.1,879.5 158.4,882.2 158.7,881.6 159.0,890.5 159.3,884.3 159.6,889.6 159.9,885.1 160.2,882.8 160.5,886.2 160.8,884.2 161.1,876.7 161.4,881.3 161.7,878.6 162.0,882.8 162.3,877.5 162.6,890.3 162.9,880.2 163.2,882.8 163.5,880.5 163.8,884.1 164.1,882.9 164.4,879.2 164.7,887.6 165.0,886.3 165.3,879.2 165.6,884.1 165.9,881.3 166.2,881.9 166.5,879.5 166.8,878.1 167.1,880.2 167.4,878.6 167.7,876.4 168.0,891.1 168.3,883.8 168.6,876.6 168.9,879.4 169.2,880.0 169.5,887.1 169.8,884.0 170.1,881.4 170.4,886.9 170.7,875.3 171.0,878.4 171.3,884.1 171.6,881.4 171.9,884.1 172.2,886.1 172.5,883.3 172.8,881.3 173.1,877.7 173.4,880.8 173.7,880.0 174.0,884.3 174.3,885.4 174.6,881.5 174.9,882.2 175.2,876.0 175.5,884.9 175.8,889.0 176.1,873.4 176.4,882.8 176.7,888.4 177.0,883.5 177.3,879.8 177.6,891.0 177.9,877.8 178.2,882.4 178.5,880.9 178.8,874.3 179.1,887.9 179.4,881.5 179.7,881.8 180.0,886.0 180.3,882.0 180.6,886.8 180.9,877.0 181.2,877.4 181.5,884.3 181.8,877.5 182.1,888.0 182.4,880.6 182.7,883.4 183.0,889.4 183.3,881.0 183.6,884.9 183.9,889.1 184.2,876.1 184.5,877.4 184.8,884.1 185.1,884.7 185.4,882.3 185.7,879.4 186.0,881.9 186.3,885.1 186.6,886.1 186.9,890.6 187.2,886.3 187.5,880.9 187.8,883.4 188.1,883.9 188.4,876.5 188.7,879.3 189.0,880.6 189.3,880.8 189.6,876.0 189.9,875.1 190.2,875.7 190.5,884.3 190.8,880.5 191.1,874.4 191.4,884.0 191.7,882.5 192.0,882.6 192.3,883.1 192.6,878.5 192.9,882.1 193.2,876.8 193.5,887.2 193.8,877.6 194.1,878.0 194.4,878.0 194.7,880.3 195.0,875.6 195.3,879.2 195.6,884.3 195.9,875.6 196.2,885.5 196.5,879.9 196.8,880.4 197.1,893.2 197.4,876.2 197.7,879.1 198.0,874.2 198.3,879.1 198.6,882.8 198.9,877.4 199.2,882.6 199.5,876.8 199.8,890.1 200.1,883.7 200.4,885.3 200.7,879.7 201.0,873.7 201.3,886.1 201.6,889.8 201.9,885.3 202.2,880.4 202.5,881.6 202.8,880.3 203.1,883.0 203.4,880.0 203.7,880.4 204.0,878.4 204.3,885.5 204.6,878.5 204.9,885.6 205.2,876.0 205.5,886.2 205.8,887.8 206.1,878.7 206.4,879.9 206.7,879.9 207.0,875.1 207.3,881.6 207.6,875.0 207.9,879.5 208.2,875.8 208.5,879.2 208.8,876.6 209.1,875.4 209.4,884.9 209.7,880.6 210.0,885.3 210.3,875.5 210.6,879.5 210.9,882.2 211.2,886.2 211.5,889.9 211.8,880.9 212.1,880.0 212.4,880.4 212.7,877.2 213.0,879.9 213.3,885.4 213.6,881.2 213.9,881.1 214.2,883.2 214.5,883.9 214.8,884.4 215.1,878.3 215.4,883.2 215.7,889.2 216.0,884.4 216.3,884.8 216.6,879.4 216.9,877.2 217.2,873.2 217.5,881.5 217.8,879.1 218.1,880.3 218.4,878.0 218.7,881.8 219.0,883.2 219.3,878.3 219.6,882.2 219.9,878.7 220.2,885.7 220.5,880.7 220.8,873.5 221.1,878.9 221.4,875.7 221.7,890.5 222.0,879.0 222.3,883.4 222.6,876.8 222.9,877.2 223.2,885.3 223.5,874.9 223.8,877.5 224.1,876.8 224.4,878.7 224.7,882.8 225.0,884.3 225.3,876.1 225.6,880.4 225.9,887.0 226.2,889.0 226.5,879.0 226.8,879.5 227.1,881.6 227.4,881.8 227.7,883.3 228.0,888.5 228.3,877.4 228.6,878.4 228.9,881.0 229.2,882.4 229.5,884.8 229.8,887.8 230.1,889.0 230.4,887.3 230.7,874.6 231.0,875.4 231.3,883.9 231.6,882.0 231.9,879.4 232.2,887.6 232.5,889.2 232.8,887.3 233.1,881.3 233.4,882.5 233.7,887.1 234.0,886.7 234.3,885.8 234.6,875.7 234.9,883.5 235.2,876.4 235.5,890.2 235.8,875.6 236.1,880.4 236.4,879.2 236.7,875.6 237.0,877.9 237.3,885.8 237.6,885.8 237.9,877.3 238.2,892.6 238.5,883.1 238.8,879.0 239.1,879.7 239.4,886.6 239.7,880.3 240.0,884.3 240.3,879.0 240.6,889.0 240.9,880.5 241.2,883.8 241.5,890.5 241.8,883.5 242.1,876.3 242.4,873.4 242.7,881.5 243.0,882.0 243.3,875.3 243.6,873.4 243.9,885.2 244.2,884.8 244.5,881.6 244.8,881.9 245.1,875.7 245.4,880.5 245.7,881.1 246.0,876.2 246.3,883.3 246.6,881.1 246.9,891.4 247.2,885.5 247.5,877.9 247.8,880.9 248.1,883.2 248.4,880.1 248.7,879.2 249.0,871.6 249.3,885.1 249.6,885.1 249.9,884.9 250.2,888.1 250.5,881.8 250.8,888.1 251.1,888.2 251.4,883.0 251.7,881.1 252.0,875.2 252.3,880.1 252.6,872.4 252.9,873.8 253.2,881.5 253.5,872.7 253.8,880.5 254.1,892.3 254.4,879.7 254.7,885.4 255.0,885.7 255.3,869.8 255.6,882.8 255.9,886.5 256.2,883.6 256.5,876.7 256.8,884.8 257.1,877.8 257.4,880.7 257.7,881.3 258.0,884.7 258.3,882.7 258.6,879.2 258.9,870.0 259.2,883.0 259.5,875.8 259.8,887.1 260.1,876.3 260.4,883.2 260.7,879.5 261.0,878.2 261.3,877.6 261.6,889.7 261.9,884.8 262.2,878.5 262.5,887.3 262.8,882.4 263.1,884.2 263.4,881.9 263.7,880.9 264.0,887.9 264.3,886.7 264.6,889.1 264.9,883.9 265.2,885.9 265.5,880.5 265.8,883.5 266.1,879.9 266.4,873.2 266.7,884.5 267.0,876.1 267.3,895.7 267.6,877.5 267.9,883.6 268.2,885.4 268.5,883.0 268.8,876.9 269.1,882.9 269.4,881.3 269.7,879.4 270.0,882.3 270.3,884.3 270.6,877.2 270.9,886.2 271.2,883.6 271.5,887.9 271.8,885.2 272.1,880.7 272.4,879.9 272.7,878.7 273.0,874.6 273.3,884.4 273.6,885.9 273.9,880.3 274.2,881.0 274.5,878.1 274.8,880.2 275.1,884.5 275.4,886.6 275.7,870.9 276.0,881.0 276.3,880.2 276.6,887.3 276.9,871.3 277.2,879.1 277.5,871.7 277.8,884.1 278.1,889.5 278.4,882.4 278.7,882.5 279.0,884.4 279.3,886.2 279.6,884.4 279.9,887.0 280.2,886.6 280.5,882.4 280.8,880.6 281.1,887.8 281.4,882.0 281.7,881.3 282.0,880.9 282.3,879.6 282.6,888.5 282.9,881.2 283.2,876.1 283.5,880.9 283.8,879.7 284.1,878.4 284.4,888.2 284.7,888.5 285.0,878.1 285.3,880.0 285.6,878.9 285.9,885.0 286.2,876.4 286.5,886.4 286.8,882.0 287.1,876.1 287.4,878.3 287.7,877.3 288.0,881.7 288.3,880.6 288.6,876.1 288.9,884.3 289.2,883.7 289.5,877.1 289.8,890.0 290.1,881.9 290.4,884.0 290.7,883.0 291.0,882.5 291.3,875.5 291.6,884.3 291.9,882.3 292.2,883.3 292.5,885.3 292.8,876.7 293.1,882.5 293.4,882.2 293.7,876.2 294.0,886.2 294.3,887.7 294.6,882.8 294.9,881.3 295.2,889.3 295.5,881.4 295.8,875.2 296.1,881.0 296.4,877.7 296.7,879.2 297.0,890.2 297.3,881.9 297.6,877.1 297.9,875.3 298.2,885.4 298.5,885.0 298.8,876.7 299.1,883.8 299.4,879.2 299.7,886.2 300.0,870.9 300.3,881.2 300.6,885.0 300.9,883.4 301.2,881.5 301.5,875.0 301.8,884.0 302.1,879.2 302.4,880.0 302.7,887.9 303.0,884.7 303.3,879.0 303.6,887.9 303.9,876.2 304.2,875.8 304.5,886.3 304.8,882.3 305.1,886.9 305.4,876.9 305.7,884.3 306.0,884.8 306.3,887.2 306.6,887.1 306.9,883.6 307.2,884.1 307.5,883.9 307.8,888.3 308.1,882.6 308.4,885.3 308.7,881.0 309.0,881.9 309.3,888.1 309.6,881.0 309.9,884.5 310.2,878.6 310.5,882.9 310.8,880.4 311.1,883.5 311.4,882.1 311.7,879.9 312.0,881.4 312.3,891.6 312.6,884.1 312.9,874.5 313.2,879.5 313.5,880.3 313.8,882.1 314.1,885.9 314.4,881.3 314.7,884.4 315.0,882.0 315.3,879.3 315.6,887.1 315.9,881.8 316.2,879.3 316.5,880.7 316.8,883.9 317.1,873.6 317.4,884.6 317.7,877.5 318.0,882.0 318.3,883.7 318.6,874.9 318.9,880.9 319.2,873.0 319.5,886.7 319.8,886.1 320.1,882.2 320.4,877.9 320.7,884.1 321.0,879.0 321.3,875.2 321.6,884.3 321.9,876.7 322.2,876.7 322.5,883.7 322.8,889.4 323.1,876.8 323.4,881.9 323.7,885.6 324.0,875.3 324.3,879.2 324.6,882.3 324.9,886.5 325.2,881.8 325.5,875.7 325.8,883.2 326.1,876.8 326.4,881.2 326.7,883.1 327.0,888.0 327.3,882.6 327.6,876.7 327.9,880.9 328.2,874.2 328.5,877.7 328.8,885.6 329.1,884.0 329.4,877.3 329.7,873.7 330.0,883.3 330.3,880.2 330.6,874.4 330.9,878.3 331.2,880.9 331.5,877.6 331.8,882.2 332.1,876.0 332.4,879.8 332.7,878.6 333.0,879.7 333.3,880.5 333.6,878.9 333.9,881.3 334.2,878.2 334.5,876.5 334.8,885.5 335.1,882.5 335.4,872.9 335.7,886.8 336.0,888.0 336.3,888.5 336.6,879.9 336.9,874.4 337.2,878.9 337.5,881.4 337.8,880.3 338.1,889.2 338.4,882.6 338.7,879.4 339.0,882.6 339.3,884.2 339.6,882.9 339.9,878.7 340.2,884.6 340.5,882.6 340.8,875.3 341.1,885.7 341.4,889.7 341.7,877.7 342.0,877.5 342.3,885.4 342.6,885.7 342.9,885.2 343.2,878.5 343.5,882.3 343.8,888.3 344.1,879.4 344.4,881.3 344.7,880.0 345.0,878.0 345.3,875.3 345.6,881.5 345.9,886.6 346.2,876.3 346.5,886.2 346.8,875.7 347.1,874.8 347.4,877.4 347.7,885.7 348.0,879.0 348.3,885.1 348.6,880.2 348.9,889.6 349.2,874.4 349.5,881.3 349.8,880.4 350.1,882.8 350.4,879.8 350.7,884.5 351.0,869.5 351.3,875.8 351.6,876.1 351.9,880.3 352.2,884.8 352.5,877.1 352.8,881.9 353.1,879.0 353.4,879.4 353.7,877.4 354.0,883.0 354.3,879.5 354.6,876.2 354.9,885.4 355.2,884.2 355.5,868.3 355.8,888.6 356.1,888.2 356.4,885.6 356.7,889.5 357.0,886.1 357.3,882.1 357.6,882.7 357.9,881.8 358.2,875.3 358.5,879.0 358.8,886.8 359.1,883.2 359.4,878.9 359.7,881.8 360.0,880.8 360.3,876.5 360.6,878.1 360.9,882.4 361.2,878.6 361.5,883.9 361.8,875.3 362.1,876.4 362.4,878.2 362.7,878.4 363.0,884.9 363.3,882.5 363.6,881.3 363.9,879.5 364.2,882.1 364.5,883.7 364.8,887.2 365.1,879.7 365.4,887.2 365.7,880.9 366.0,879.5 366.3,879.8 366.6,884.4 366.9,878.9 367.2,887.6 367.5,884.2 367.8,879.5 368.1,885.8 368.4,875.3 368.7,876.6 369.0,875.7 369.3,875.4 369.6,892.8 369.9,878.6 370.2,885.6 370.5,881.0 370.8,881.5 371.1,882.3 371.4,886.0 371.7,883.5 372.0,882.1 372.3,877.5 372.6,883.5 372.9,880.8 373.2,877.6 373.5,878.9 373.8,875.6 374.1,883.3 374.4,877.9 374.7,879.2 375.0,883.3 375.3,884.6 375.6,881.8 375.9,873.1 376.2,885.4 376.5,892.9 376.8,876.1 377.1,880.3 377.4,887.4 377.7,882.6 378.0,881.1 378.3,874.0 378.6,885.9 378.9,884.0 379.2,883.3 379.5,882.5 379.8,885.0 380.1,876.9 380.4,886.9 380.7,883.8 381.0,883.0 381.3,877.8 381.6,883.4 381.9,878.5 382.2,879.9 382.5,876.9 382.8,874.1 383.1,869.4 383.4,884.0 383.7,876.9 384.0,886.6 384.3,873.5 384.6,887.0 384.9,880.3 385.2,890.8 385.5,874.9 385.8,885.7 386.1,885.1 386.4,876.0 386.7,885.9 387.0,880.5 387.3,882.2 387.6,884.1 387.9,884.1 388.2,886.1 388.5,881.4 388.8,877.3 389.1,873.4 389.4,882.7 389.7,880.2 390.0,877.2 390.3,884.7 390.6,876.6 390.9,875.8 391.2,885.6 391.5,877.9 391.8,878.1 392.1,878.8 392.4,884.3 392.7,878.8 393.0,884.4 393.3,885.4 393.6,873.6 393.9,884.3 394.2,886.3 394.5,884.1 394.8,878.6 395.1,875.4 395.4,883.8 395.7,875.6 396.0,884.6 396.3,883.7 396.6,879.2 396.9,887.1 397.2,884.7 397.5,877.6 397.8,881.6 398.1,886.2 398.4,885.7 398.7,886.6 399.0,877.8 399.3,877.4 399.6,876.6 399.9,872.8 400.2,878.5 400.5,874.8 400.8,876.1 401.1,880.5 401.4,875.6 401.7,879.7 402.0,885.3 402.3,884.3 402.6,877.6 402.9,884.4 403.2,887.8 403.5,883.6 403.8,874.5 404.1,875.7 404.4,887.6 404.7,880.6 405.0,882.3 405.3,872.1 405.6,885.3 405.9,885.4 406.2,882.1 406.5,870.1 406.8,876.2 407.1,871.1 407.4,883.5 407.7,884.6 408.0,883.2 408.3,873.1 408.6,875.3 408.9,880.1 409.2,870.9 409.5,877.3 409.8,877.1 410.1,874.1 410.4,873.2 410.7,870.0 411.0,876.3 411.3,879.5 411.6,872.1 411.9,877.9 412.2,882.8 412.5,884.0 412.8,875.2 413.1,874.2 413.4,869.6 413.7,880.2 414.0,877.0 414.3,876.8 414.6,887.4 414.9,866.8 415.2,869.3 415.5,873.6 415.8,865.1 416.1,879.9 416.4,877.2 416.7,876.6 417.0,871.1 417.3,868.5 417.6,868.0 417.9,874.1 418.2,870.1 418.5,870.7 418.8,876.9 419.1,876.9 419.4,871.1 419.7,877.0 420.0,880.9 420.3,865.5 420.6,866.1 420.9,864.4 421.2,867.4 421.5,868.2 421.8,871.1 422.1,864.1 422.4,860.9 422.7,866.9 423.0,869.0 423.3,860.4 423.6,867.6 423.9,848.6 424.2,867.1 424.5,851.7 424.8,853.8 425.1,862.4 425.4,855.3 425.7,849.3 426.0,854.9 426.3,859.0 426.6,846.9 426.9,856.9 427.2,856.8 427.5,862.7 427.8,863.4 428.1,849.1 428.4,841.7 428.7,858.8 429.0,851.4 429.3,842.1 429.6,842.8 429.9,845.1 430.2,844.3 430.5,844.5 430.8,859.2 431.1,829.5 431.4,833.2 431.7,832.7 432.0,848.0 432.3,856.2 432.6,838.7 432.9,844.5 433.2,853.8 433.5,849.8 433.8,855.4 434.1,848.7 434.4,849.7 434.7,840.5 435.0,846.0 435.3,858.6 435.6,838.1 435.9,845.6 436.2,847.8 436.5,844.6 436.8,846.4 437.1,844.9 437.4,849.2 437.7,847.3 438.0,832.9 438.3,856.7 438.6,846.5 438.9,865.9 439.2,854.2 439.5,843.2 439.8,842.6 440.1,848.0 440.4,854.6 440.7,858.7 441.0,852.8 441.3,852.3 441.6,868.9 441.9,861.2 442.2,868.0 442.5,861.8 442.8,864.3 443.1,871.0 443.4,862.4 443.7,865.6 444.0,859.7 444.3,878.0 444.6,861.5 444.9,872.2 445.2,858.6 445.5,875.2 445.8,854.2 446.1,863.7 446.4,870.3 446.7,876.9 447.0,861.5 447.3,875.1 447.6,874.5 447.9,865.4 448.2,869.1 448.5,869.0 448.8,878.4 449.1,872.5 449.4,870.6 449.7,880.0 450.0,866.2 450.3,870.0 450.6,882.5 450.9,876.8 451.2,876.4 451.5,880.6 451.8,870.2 452.1,888.0 452.4,873.6 452.7,883.8 453.0,880.5 453.3,882.2 453.6,882.6 453.9,872.7 454.2,869.9 454.5,873.1 454.8,869.7 455.1,878.4 455.4,883.8 455.7,881.3 456.0,876.2 456.3,884.6 456.6,879.2 456.9,873.6 457.2,874.7 457.5,876.8 457.8,879.8 458.1,883.0 458.4,882.3 458.7,869.2 459.0,873.0 459.3,879.9 459.6,884.6 459.9,873.0 460.2,880.1 460.5,880.5 460.8,877.2 461.1,878.0 461.4,885.6 461.7,872.3 462.0,877.5 462.3,884.8 462.6,881.5 462.9,877.0 463.2,876.3 463.5,886.7 463.8,880.5 464.1,882.6 464.4,888.5 464.7,876.1 465.0,880.1 465.3,874.1 465.6,874.0 465.9,877.8 466.2,884.3 466.5,875.0 466.8,883.3 467.1,888.2 467.4,876.7 467.7,886.5 468.0,876.9 468.3,886.7 468.6,887.3 468.9,882.3 469.2,882.4 469.5,881.5 469.8,887.8 470.1,880.5 470.4,874.8 470.7,886.0 471.0,880.6 471.3,884.8 471.6,874.5 471.9,874.6 472.2,875.2 472.5,885.9 472.8,876.9 473.1,879.0 473.4,877.5 473.7,872.7 474.0,880.2 474.3,887.7 474.6,877.9 474.9,874.4 475.2,877.3 475.5,885.8 475.8,884.6 476.1,870.2 476.4,885.6 476.7,873.3 477.0,887.9 477.3,877.0 477.6,881.1 477.9,877.7 478.2,874.7 478.5,873.4 478.8,883.1 479.1,874.4 479.4,876.9 479.7,880.4 480.0,888.5 480.3,877.9 480.6,873.5 480.9,886.7 481.2,877.9 481.5,881.0 481.8,875.6 482.1,873.6 482.4,881.5 482.7,888.1 483.0,876.0 483.3,878.4 483.6,877.4 483.9,875.9 484.2,883.9 484.5,880.1 484.8,878.4 485.1,881.5 485.4,877.9 485.7,870.8 486.0,874.2 486.3,880.9 486.6,883.9 486.9,884.2 487.2,886.1 487.5,877.7 487.8,876.9 488.1,874.0 488.4,877.0 488.7,878.4 489.0,879.7 489.3,873.8 489.6,877.9 489.9,878.8 490.2,888.0 490.5,870.9 490.8,878.8 491.1,879.7 491.4,883.2 491.7,879.7 492.0,881.4 492.3,885.0 492.6,879.6 492.9,870.8 493.2,886.5 493.5,877.1 493.8,876.5 494.1,882.9 494.4,880.0 494.7,883.2 495.0,877.8 495.3,872.6 495.6,884.2 495.9,880.4 496.2,885.1 496.5,872.2 496.8,875.8 497.1,886.5 497.4,877.6 497.7,879.0 498.0,866.6 498.3,876.9 498.6,878.0 498.9,882.9 499.2,882.2 499.5,877.6 499.8,875.4 500.1,871.3 500.4,878.1 500.7,886.3 501.0,883.9 501.3,880.7 501.6,874.7 501.9,886.0 502.2,881.9 502.5,881.3 502.8,883.9 503.1,876.6 503.4,880.9 503.7,881.7 504.0,881.2 504.3,876.9 504.6,878.7 504.9,884.3 505.2,885.5 505.5,876.3 505.8,872.9 506.1,879.8 506.4,876.9 506.7,878.3 507.0,880.1 507.3,874.9 507.6,888.8 507.9,875.4 508.2,882.3 508.5,885.6 508.8,884.6 509.1,881.1 509.4,875.3 509.7,884.6 510.0,883.5 510.3,877.4 510.6,884.7 510.9,879.0 511.2,879.7 511.5,883.2 511.8,878.3 512.1,877.1 512.4,872.0 512.7,868.7 513.0,873.2 513.3,882.6 513.6,871.5 513.9,882.8 514.2,881.6 514.5,882.7 514.8,880.6 515.1,881.6 515.4,876.2 515.7,876.1 516.0,882.5 516.3,880.0 516.6,872.7 516.9,881.9 517.2,881.4 517.5,878.8 517.8,873.8 518.1,875.7 518.4,876.6 518.7,887.0 519.0,873.8 519.3,882.2 519.6,884.6 519.9,885.6 520.2,875.8 520.5,881.1 520.8,881.6 521.1,874.7 521.4,878.1 521.7,887.3 522.0,874.5 522.3,877.7 522.6,882.7 522.9,884.9 523.2,877.3 523.5,879.5 523.8,884.9 524.1,885.5 524.4,871.3 524.7,878.9 525.0,876.0 525.3,885.1 525.6,884.5 525.9,887.1 526.2,879.6 526.5,867.7 526.8,876.5 527.1,872.0 527.4,880.1 527.7,879.6 528.0,870.9 528.3,876.3 528.6,861.1 528.9,864.0 529.2,867.7 529.5,874.4 529.8,865.1 530.1,871.8 530.4,868.3 530.7,877.2 531.0,878.8 531.3,885.8 531.6,879.6 531.9,873.9 532.2,876.6 532.5,881.9 532.8,881.5 533.1,874.0 533.4,876.4 533.7,884.8 534.0,886.1 534.3,867.7 534.6,877.7 534.9,879.5 535.2,878.8 535.5,871.7 535.8,873.5 536.1,876.5 536.4,882.5 536.7,881.6 537.0,878.1 537.3,882.2 537.6,883.5 537.9,882.9 538.2,881.3 538.5,882.9 538.8,877.1 539.1,885.5 539.4,875.9 539.7,885.2 540.0,878.5 540.3,878.0 540.6,878.7 540.9,880.8 541.2,875.8 541.5,884.6 541.8,883.6 542.1,875.5 542.4,881.8 542.7,882.7 543.0,882.1 543.3,882.6 543.6,872.4 543.9,878.6 544.2,876.0 544.5,874.0 544.8,884.7 545.1,878.4 545.4,877.1 545.7,874.9 546.0,879.1 546.3,877.9 546.6,883.6 546.9,883.0 547.2,879.3 547.5,878.3 547.8,883.3 548.1,876.6 548.4,883.7 548.7,879.2 549.0,871.1 549.3,878.6 549.6,883.4 549.9,878.0 550.2,878.1 550.5,872.8 550.8,862.3 551.1,880.8 551.4,872.7 551.7,881.6 552.0,871.1 552.3,878.7 552.6,884.4 552.9,872.5 553.2,881.7 553.5,875.7 553.8,870.6 554.1,866.0 554.4,872.3 554.7,878.2 555.0,873.9 555.3,874.0 555.6,879.5 555.9,869.5 556.2,879.0 556.5,875.7 556.8,876.7 557.1,871.0 557.4,865.6 557.7,879.5 558.0,877.4 558.3,883.6 558.6,880.3 558.9,865.5 559.2,877.5 559.5,873.4 559.8,873.3 560.1,866.3 560.4,880.9 560.7,870.6 561.0,869.5 561.3,871.5 561.6,874.0 561.9,878.0 562.2,870.1 562.5,871.2 562.8,874.1 563.1,874.8 563.4,876.2 563.7,879.4 564.0,874.0 564.3,864.3 564.6,873.7 564.9,869.4 565.2,868.1 565.5,871.5 565.8,873.4 566.1,867.1 566.4,873.6 566.7,872.3 567.0,871.7 567.3,874.8 567.6,871.1 567.9,874.9 568.2,878.4 568.5,864.1 568.8,865.4 569.1,873.3 569.4,873.5 569.7,874.6 570.0,864.4 570.3,871.2 570.6,871.3 570.9,864.0 571.2,873.0 571.5,862.0 571.8,861.2 572.1,859.1 572.4,859.7 572.7,869.4 573.0,863.1 573.3,849.0 573.6,863.3 573.9,862.9 574.2,862.9 574.5,866.4 574.8,855.7 575.1,853.0 575.4,862.9 575.7,860.3 576.0,856.0 576.3,853.5 576.6,853.6 576.9,861.8 577.2,857.6 577.5,852.6 577.8,845.4 578.1,853.0 578.4,856.7 578.7,847.7 579.0,843.9 579.3,853.5 579.6,845.5 579.9,843.2 580.2,847.6 580.5,846.5 580.8,836.7 581.1,834.8 581.4,844.1 581.7,844.6 582.0,825.2 582.3,827.7 582.6,823.8 582.9,822.7 583.2,837.1 583.5,832.8 583.8,832.9 584.1,818.8 584.4,816.0 584.7,805.3 585.0,817.0 585.3,798.0 585.6,797.3 585.9,791.6 586.2,802.8 586.5,811.1 586.8,796.8 587.1,785.7 587.4,788.6 587.7,787.7 588.0,770.7 588.3,781.6 588.6,783.4 588.9,769.6 589.2,771.4 589.5,762.8 589.8,758.6 590.1,750.7 590.4,748.5 590.7,756.9 591.0,745.5 591.3,759.9 591.6,757.3 591.9,736.2 592.2,732.6 592.5,738.1 592.8,733.4 593.1,748.9 593.4,709.4 593.7,743.3 594.0,714.4 594.3,713.4 594.6,719.3 594.9,713.3 595.2,728.7 595.5,710.0 595.8,708.5 596.1,714.0 596.4,723.2 596.7,727.3 597.0,722.4 597.3,712.6 597.6,724.7 597.9,725.8 598.2,736.6 598.5,716.8 598.8,735.9 599.1,745.4 599.4,755.1 599.7,753.7 600.0,766.6 600.3,755.7 600.6,758.9 600.9,760.1 601.2,760.6 601.5,778.2 601.8,767.5 602.1,790.0 602.4,781.9 602.7,778.4 603.0,768.6 603.3,784.6 603.6,797.6 603.9,800.7 604.2,801.6 604.5,808.1 604.8,813.7 605.1,802.1 605.4,819.5 605.7,817.9 606.0,806.6 606.3,828.9 606.6,808.9 606.9,838.6 607.2,826.1 607.5,838.2 607.8,847.2 608.1,841.2 608.4,841.0 608.7,831.9 609.0,843.7 609.3,825.8 609.6,840.3 609.9,847.2 610.2,851.3 610.5,854.8 610.8,859.5 611.1,847.6 611.4,849.6 611.7,862.1 612.0,855.0 612.3,845.3 612.6,843.1 612.9,859.9 613.2,866.5 613.5,858.4 613.8,862.3 614.1,864.1 614.4,856.0 614.7,874.9 615.0,861.8 615.3,855.3 615.6,868.7 615.9,860.7 616.2,864.6 616.5,860.8 616.8,855.1 617.1,860.3 617.4,858.4 617.7,861.0 618.0,864.6 618.3,863.7 618.6,878.2 618.9,866.4 619.2,867.9 619.5,867.2 619.8,871.9 620.1,878.4 620.4,865.7 620.7,862.3 621.0,870.9 621.3,868.1 621.6,870.1 621.9,865.9 622.2,864.3 622.5,860.5 622.8,867.9 623.1,881.0 623.4,869.9 623.7,878.6 624.0,864.3 624.3,871.9 624.6,863.6 624.9,877.0 625.2,874.8 625.5,879.7 625.8,868.1 626.1,870.2 626.4,873.0 626.7,884.2 627.0,882.9 627.3,883.0 627.6,877.1 627.9,878.9 628.2,878.2 628.5,873.3 628.8,871.5 629.1,868.6 629.4,871.0 629.7,875.1 630.0,878.6 630.3,865.2 630.6,872.5 630.9,875.7 631.2,878.9 631.5,877.0 631.8,879.1 632.1,875.7 632.4,875.4 632.7,877.1 633.0,870.6 633.3,874.7 633.6,871.2 633.9,873.7 634.2,868.8 634.5,883.0 634.8,880.7 635.1,879.9 635.4,872.6 635.7,877.5 636.0,879.0 636.3,878.4 636.6,879.2 636.9,876.2 637.2,879.9 637.5,879.8 637.8,882.0 638.1,880.9 638.4,881.8 638.7,870.2 639.0,878.2 639.3,876.5 639.6,876.1 639.9,873.3 640.2,881.7 640.5,874.8 640.8,873.5 641.1,881.2 641.4,871.8 641.7,883.8 642.0,874.4 642.3,883.4 642.6,878.5 642.9,872.2 643.2,880.9 643.5,879.6 643.8,878.2 644.1,871.8 644.4,880.8 644.7,879.8 645.0,876.1 645.3,872.3 645.6,880.4 645.9,880.2 646.2,872.5 646.5,878.0 646.8,872.9 647.1,885.1 647.4,884.3 647.7,887.1 648.0,881.9 648.3,878.8 648.6,881.7 648.9,881.5 649.2,878.5 649.5,881.3 649.8,881.1 650.1,882.1 650.4,881.8 650.7,877.5 651.0,877.9 651.3,879.5 651.6,884.8 651.9,874.4 652.2,886.9 652.5,878.9 652.8,888.4 653.1,877.9 653.4,882.4 653.7,883.3 654.0,890.2 654.3,881.6 654.6,885.9 654.9,885.1 655.2,879.9 655.5,882.8 655.8,873.3 656.1,883.3 656.4,882.4 656.7,874.5 657.0,878.7 657.3,880.2 657.6,888.0 657.9,882.7 658.2,882.7 658.5,875.1 658.8,881.7 659.1,875.4 659.4,883.0 659.7,886.0 660.0,876.3 660.3,881.3 660.6,884.7 660.9,877.3 661.2,873.8 661.5,880.2 661.8,888.2 662.1,882.8 662.4,883.4 662.7,883.0 663.0,876.7 663.3,884.1 663.6,885.1 663.9,880.3 664.2,885.5 664.5,878.1 664.8,884.9 665.1,888.4 665.4,885.3 665.7,878.9 666.0,887.2 666.3,876.0 666.6,877.0 666.9,876.6 667.2,876.4 667.5,883.6 667.8,879.7 668.1,884.6 668.4,883.7 668.7,880.3 669.0,883.9 669.3,878.8 669.6,875.9 669.9,877.0 670.2,883.4 670.5,875.4 670.8,877.4 671.1,875.1 671.4,874.0 671.7,874.1 672.0,876.4 672.3,871.7 672.6,884.4 672.9,880.4 673.2,889.7 673.5,885.7 673.8,875.2 674.1,880.6 674.4,885.3 674.7,872.0 675.0,876.3 675.3,881.0 675.6,884.5 675.9,877.4 676.2,877.9 676.5,878.0 676.8,889.9 677.1,879.0 677.4,887.9 677.7,882.0 678.0,875.4 678.3,883.7 678.6,880.7 678.9,877.2 679.2,881.5 679.5,886.7 679.8,880.6 680.1,882.5 680.4,882.8 680.7,885.8 681.0,875.8 681.3,877.6 681.6,874.2 681.9,882.7 682.2,883.7 682.5,885.2 682.8,880.3 683.1,882.4 683.4,874.8 683.7,884.8 684.0,884.0 684.3,887.1 684.6,882.9 684.9,881.7 685.2,876.8 685.5,880.2 685.8,885.0 686.1,884.1 686.4,878.1 686.7,886.3 687.0,888.1 687.3,879.8 687.6,874.0 687.9,878.6 688.2,894.0 688.5,879.2 688.8,887.5 689.1,880.5 689.4,877.9 689.7,883.9 690.0,874.4 690.3,880.5 690.6,881.3 690.9,888.0 691.2,882.1 691.5,872.2 691.8,879.4 692.1,880.3 692.4,884.8 692.7,883.7 693.0,885.5 693.3,886.0 693.6,880.2 693.9,879.5 694.2,882.4 694.5,883.2 694.8,880.9 695.1,878.3 695.4,879.1 695.7,884.1 696.0,879.7 696.3,880.2 696.6,884.7 696.9,881.1 697.2,879.4 697.5,885.2 697.8,876.0 698.1,884.1 698.4,880.8 698.7,877.1 699.0,885.9 699.3,883.6 699.6,880.3 699.9,880.0 700.2,882.9 700.5,883.2 700.8,886.2 701.1,881.5 701.4,881.9 701.7,883.9 702.0,880.6 702.3,876.3 702.6,882.5 702.9,873.4 703.2,872.1 703.5,879.7 703.8,875.8 704.1,888.1 704.4,875.0 704.7,886.9 705.0,882.6 705.3,881.7 705.6,883.7 705.9,885.0 706.2,880.0 706.5,886.2 706.8,884.7 707.1,876.2 707.4,885.3 707.7,882.3 708.0,879.1 708.3,874.4 708.6,882.4 708.9,881.2 709.2,878.7 709.5,882.9 709.8,883.0 710.1,873.8 710.4,889.5 710.7,883.0 711.0,887.2 711.3,879.7 711.6,876.9 711.9,881.3 712.2,882.3 712.5,888.5 712.8,876.9 713.1,872.8 713.4,887.1 713.7,880.6 714.0,877.8 714.3,885.3 714.6,890.8 714.9,882.7 715.2,886.0 715.5,889.4 715.8,882.1 716.1,884.5 716.4,883.4 716.7,878.5 717.0,882.1 717.3,886.3 717.6,880.6 717.9,882.7 718.2,879.6 718.5,882.2 718.8,884.5 719.1,887.7 719.4,879.0 719.7,881.9 720.0,888.0 720.3,878.8 720.6,885.7 720.9,876.9 721.2,879.9 721.5,888.6 721.8,874.8 722.1,886.7 722.4,889.5 722.7,878.2 723.0,881.3 723.3,879.2 723.6,880.1 723.9,882.4 724.2,880.8 724.5,889.0 724.8,881.3 725.1,877.8 725.4,886.1 725.7,886.5 726.0,887.5 726.3,880.3 726.6,887.9 726.9,884.5 727.2,880.9 727.5,888.8 727.8,885.6 728.1,881.5 728.4,887.6 728.7,884.8 729.0,880.2 729.3,891.5 729.6,878.9 729.9,886.3 730.2,883.5 730.5,879.2 730.8,887.2 731.1,883.5 731.4,882.9 731.7,882.7 732.0,880.5 732.3,884.5 732.6,874.8 732.9,884.2 733.2,884.3 733.5,877.3 733.8,891.2 734.1,882.7 734.4,882.0 734.7,885.3 735.0,883.8 735.3,872.5 735.6,878.3 735.9,887.3 736.2,887.7 736.5,881.3 736.8,882.4 737.1,878.4 737.4,882.7 737.7,887.2 738.0,882.1 738.3,885.7 738.6,882.8 738.9,885.7 739.2,879.2 739.5,888.4 739.8,880.7 740.1,885.7 740.4,886.7 740.7,885.7 741.0,882.7 741.3,881.5 741.6,887.7 741.9,877.5 742.2,878.1 742.5,881.7 742.8,882.9 743.1,888.3 743.4,880.9 743.7,877.9 744.0,883.2 744.3,883.0 744.6,882.8 744.9,889.4 745.2,878.1 745.5,888.5 745.8,877.8 746.1,887.3 746.4,881.6 746.7,881.5 747.0,886.3 747.3,884.8 747.6,886.7 747.9,888.5 748.2,884.4 748.5,884.0 748.8,880.6 749.1,890.3 749.4,877.7 749.7,882.7 750.0,880.7 750.3,889.9 750.6,880.0 750.9,880.1 751.2,883.9 751.5,878.7 751.8,885.1 752.1,881.2 752.4,878.7 752.7,876.7 753.0,890.0 753.3,884.4 753.6,886.4 753.9,884.7 754.2,887.1 754.5,891.8 754.8,879.3 755.1,878.4 755.4,887.7 755.7,878.9 756.0,881.3 756.3,885.7 756.6,884.2 756.9,886.9 757.2,880.6 757.5,882.3 757.8,890.3 758.1,886.8 758.4,880.4 758.7,888.8 759.0,883.2 759.3,886.1 759.6,884.1 759.9,885.0 760.2,885.9 760.5,888.0 760.8,880.7 761.1,887.7 761.4,876.8 761.7,879.4 762.0,882.0 762.3,883.5 762.6,892.1 762.9,881.5 763.2,879.8 763.5,884.0 763.8,878.3 764.1,877.8 764.4,884.1 764.7,875.8 765.0,883.5 765.3,886.5 765.6,878.8 765.9,883.6 766.2,882.4 766.5,885.1 766.8,887.4 767.1,878.2 767.4,892.2 767.7,876.9 768.0,882.3 768.3,878.9 768.6,890.2 768.9,877.3 769.2,880.6 769.5,883.3 769.8,886.9 770.1,883.6 770.4,884.2 770.7,881.1 771.0,890.6 771.3,883.3 771.6,876.3 771.9,891.3 772.2,884.7 772.5,876.4 772.8,881.1 773.1,882.4 773.4,883.7 773.7,889.0 774.0,882.0 774.3,882.6 774.6,887.1 774.9,883.0 775.2,884.2 775.5,888.2 775.8,882.3 776.1,884.9 776.4,883.3 776.7,890.6 777.0,882.8 777.3,884.8 777.6,879.9 777.9,879.2 778.2,880.3 778.5,883.6 778.8,875.0 779.1,880.6 779.4,881.0 779.7,882.4 780.0,883.9 780.3,884.7 780.6,879.2 780.9,884.6 781.2,876.6 781.5,886.7 781.8,885.4 782.1,884.4 782.4,881.1 782.7,874.1 783.0,890.6 783.3,887.8 783.6,880.3 783.9,881.9 784.2,885.9 784.5,887.5 784.8,884.3 785.1,888.2 785.4,878.3 785.7,890.9 786.0,887.1 786.3,885.5 786.6,883.7 786.9,887.7 787.2,892.8 787.5,878.8 787.8,878.8 788.1,880.8 788.4,886.5 788.7,879.5 789.0,881.0 789.3,886.2 789.6,880.6 789.9,877.0 790.2,882.3 790.5,880.5 790.8,884.6 791.1,877.1 791.4,883.9 791.7,886.2 792.0,882.1 792.3,891.2 792.6,871.7 792.9,887.5 793.2,892.6 793.5,884.8 793.8,883.7 794.1,876.6 794.4,883.7 794.7,884.5 795.0,885.3 795.3,887.9 795.6,885.6 795.9,885.8 796.2,877.5 796.5,875.6 796.8,883.0 797.1,876.1 797.4,879.2 797.7,887.4 798.0,878.3 798.3,876.1 798.6,885.8 798.9,879.6 799.2,883.6 799.5,875.0 799.8,883.8 800.1,874.1 800.4,875.1 800.7,878.4 801.0,875.2 801.3,874.4 801.6,876.2 801.9,869.9 802.2,884.8 802.5,889.6 802.8,883.9 803.1,880.3 803.4,880.1 803.7,881.3 804.0,878.1 804.3,878.8 804.6,880.6 804.9,882.3 805.2,888.5 805.5,881.6 805.8,884.1 806.1,883.3 806.4,886.2 806.7,873.9 807.0,868.9 807.3,880.9 807.6,880.1 807.9,868.8 808.2,875.4 808.5,883.5 808.8,875.8 809.1,872.0 809.4,882.4 809.7,874.5 810.0,876.1 810.3,878.3 810.6,878.0 810.9,871.3 811.2,874.1 811.5,877.2 811.8,874.0 812.1,881.0 812.4,876.0 812.7,876.1 813.0,864.6 813.3,865.6 813.6,874.5 813.9,886.1 814.2,881.5 814.5,874.0 814.8,862.5 815.1,854.8 815.4,869.9 815.7,862.1 816.0,863.7 816.3,865.6 816.6,870.4 816.9,864.1 817.2,872.6 817.5,856.3 817.8,859.5 818.1,875.2 818.4,862.6 818.7,860.8 819.0,854.1 819.3,860.1 819.6,852.4 819.9,859.0 820.2,852.4 820.5,859.6 820.8,846.6 821.1,846.3 821.4,848.0 821.7,856.4 822.0,852.2 822.3,841.3 822.6,829.6 822.9,844.0 823.2,838.4 823.5,845.1 823.8,829.3 824.1,822.3 824.4,821.9 824.7,834.3 825.0,844.0 825.3,832.5 825.6,822.3 825.9,830.5 826.2,832.7 826.5,831.1 826.8,854.1 827.1,846.0 827.4,837.5 827.7,854.8 828.0,850.2 828.3,851.1 828.6,844.4 828.9,853.5 829.2,865.1 829.5,849.9 829.8,870.1 830.1,863.6 830.4,856.1 830.7,866.5 831.0,865.9 831.3,857.9 831.6,869.5 831.9,860.0 832.2,871.6 832.5,862.0 832.8,872.7 833.1,869.5 833.4,876.2 833.7,867.7 834.0,865.1 834.3,871.9 834.6,873.8 834.9,863.7 835.2,871.6 835.5,866.6 835.8,868.2 836.1,872.2 836.4,871.1 836.7,873.7 837.0,883.3 837.3,866.0 837.6,874.4 837.9,877.1 838.2,877.0 838.5,878.0 838.8,877.8 839.1,865.4 839.4,875.6 839.7,879.8 840.0,868.2 840.3,880.4 840.6,879.4 840.9,878.9 841.2,879.9 841.5,879.7 841.8,874.5 842.1,885.0 842.4,878.4 842.7,875.9 843.0,885.8 843.3,873.6 843.6,871.3 843.9,889.1 844.2,874.9 844.5,885.8 844.8,879.4 845.1,885.0 845.4,886.6 845.7,884.8 846.0,886.2 846.3,877.1 846.6,887.9 846.9,886.8 847.2,879.4 847.5,881.0 847.8,877.2 848.1,877.9 848.4,887.7 848.7,887.1 849.0,886.2 849.3,881.6 849.6,882.9 849.9,878.0 850.2,886.8 850.5,876.2 850.8,885.6 851.1,877.1 851.4,880.7 851.7,880.1 852.0,880.7 852.3,883.6 852.6,886.3 852.9,880.9 853.2,887.2 853.5,886.9 853.8,891.1 854.1,879.5 854.4,883.3 854.7,884.8 855.0,879.9 855.3,879.8 855.6,889.9 855.9,877.0 856.2,883.5 856.5,883.0 856.8,893.7 857.1,874.7 857.4,876.7 857.7,876.5 858.0,886.2 858.3,878.8 858.6,883.6 858.9,884.4 859.2,885.6 859.5,887.7 859.8,878.9 860.1,884.0 860.4,889.3 860.7,884.4 861.0,881.3 861.3,881.9 861.6,878.2 861.9,886.4 862.2,890.0 862.5,887.5 862.8,890.5 863.1,878.3 863.4,873.6 863.7,879.0 864.0,887.4 864.3,885.8 864.6,888.6 864.9,882.1 865.2,890.5 865.5,887.2 865.8,883.5 866.1,883.2 866.4,888.0 866.7,881.8 867.0,884.5 867.3,879.7 867.6,889.0 867.9,883.2 868.2,873.2 868.5,883.2 868.8,888.4 869.1,888.0 869.4,893.4 869.7,878.5 870.0,888.7 870.3,882.9 870.6,887.3 870.9,888.5 871.2,882.3 871.5,876.7 871.8,881.9 872.1,891.2 872.4,886.1 872.7,876.7 873.0,886.3 873.3,882.7 873.6,887.2 873.9,892.7 874.2,886.7 874.5,890.4 874.8,888.0 875.1,889.4 875.4,883.2 875.7,875.3 876.0,886.7 876.3,887.9 876.6,889.2 876.9,892.3 877.2,884.0 877.5,888.7 877.8,886.2 878.1,887.3 878.4,876.0 878.7,878.0 879.0,887.7 879.3,880.1 879.6,889.6 879.9,886.5 880.2,889.2 880.5,886.2 880.8,886.4 881.1,886.2 881.4,890.1 881.7,882.3 882.0,885.1 882.3,879.6 882.6,888.7 882.9,885.3 883.2,889.4 883.5,887.3 883.8,882.3 884.1,876.3 884.4,889.1 884.7,880.3 885.0,886.5 885.3,889.9 885.6,879.0 885.9,885.8 886.2,891.4 886.5,895.4 886.8,880.1 887.1,881.3 887.4,890.5 887.7,884.4 888.0,878.5 888.3,890.5 888.6,879.1 888.9,888.5 889.2,885.8 889.5,879.9 889.8,886.2 890.1,884.2 890.4,892.2 890.7,885.9 891.0,884.4 891.3,894.2 891.6,881.6 891.9,884.1 892.2,886.5 892.5,890.3 892.8,889.8 893.1,880.5 893.4,882.5 893.7,888.1 894.0,892.3 894.3,889.3 894.6,884.3 894.9,881.5 895.2,880.6 895.5,888.4 895.8,882.3 896.1,883.3 896.4,882.0 896.7,883.7 897.0,883.4 897.3,882.0 897.6,884.3 897.9,883.8 898.2,877.4 898.5,880.0 898.8,879.1 899.1,887.7 899.4,890.2 899.7,891.3 900.0,883.1 900.3,887.1 900.6,886.8 900.9,887.0 901.2,886.9 901.5,882.6 901.8,894.2 902.1,879.7 902.4,890.8 902.7,878.0 903.0,887.7 903.3,884.9 903.6,885.0 903.9,873.0 904.2,887.1 904.5,885.3 904.8,890.3 905.1,888.3 905.4,881.6 905.7,876.6 906.0,879.4 906.3,884.0 906.6,888.0 906.9,881.9 907.2,892.5 907.5,882.7 907.8,888.7 908.1,879.4 908.4,885.8 908.7,885.8 909.0,882.1 909.3,889.5 909.6,884.0 909.9,888.9 910.2,885.0 910.5,889.6 910.8,884.3 911.1,891.5 911.4,885.5 911.7,890.2 912.0,885.8 912.3,893.1 912.6,887.1 912.9,889.4 913.2,883.4 913.5,890.6 913.8,885.2 914.1,882.2 914.4,892.5 914.7,880.6 915.0,884.4 915.3,886.8 915.6,887.1 915.9,884.5 916.2,889.2 916.5,874.7 916.8,878.0 917.1,886.3 917.4,895.6 917.7,894.6 918.0,887.0 918.3,885.3 918.6,888.8 918.9,889.3 919.2,888.5 919.5,889.6 919.8,882.5 920.1,883.6 920.4,886.1 920.7,890.3 921.0,879.0 921.3,892.9 921.6,889.7 921.9,880.1 922.2,892.0 922.5,889.7 922.8,894.8 923.1,894.1 923.4,883.4 923.7,890.5 924.0,887.2 924.3,881.1 924.6,883.0 924.9,887.9 925.2,881.3 925.5,884.9 925.8,885.0 926.1,886.8 926.4,889.9 926.7,882.8 927.0,876.1 927.3,883.9 927.6,891.1 927.9,884.5 928.2,877.7 928.5,887.0 928.8,880.4 929.1,881.3 929.4,887.0 929.7,883.8 930.0,885.2 930.3,892.1 930.6,883.7 930.9,878.2 931.2,885.9 931.5,894.8 931.8,886.3 932.1,889.4 932.4,882.6 932.7,896.1 933.0,884.3 933.3,887.7 933.6,887.0 933.9,890.3 934.2,890.8 934.5,892.2 934.8,889.0 935.1,892.4 935.4,887.8 935.7,884.4 936.0,890.2 936.3,894.1 936.6,882.5 936.9,890.0 937.2,890.2 937.5,879.0 937.8,896.2 938.1,883.0 938.4,880.6 938.7,882.8 939.0,889.4 939.3,886.3 939.6,890.9 939.9,890.4 940.2,885.2 940.5,892.8 940.8,883.3 941.1,889.8 941.4,878.9 941.7,880.8 942.0,886.7 942.3,884.3 942.6,883.1 942.9,885.4 943.2,887.0 943.5,890.7 943.8,885.6 944.1,875.2 944.4,888.8 944.7,888.1 945.0,887.2 945.3,886.0 945.6,887.0 945.9,891.3 946.2,895.7 946.5,887.1 946.8,890.4 947.1,883.4 947.4,893.1 947.7,888.0 948.0,887.7 948.3,890.5 948.6,885.9 948.9,888.9 949.2,890.3 949.5,888.1 949.8,889.8 950.1,882.6 950.4,884.5 950.7,883.3 951.0,887.4 951.3,883.2 951.6,882.3 951.9,886.6 952.2,886.3 952.5,889.4 952.8,878.7 953.1,880.3 953.4,887.7 953.7,884.8 954.0,880.3 954.3,888.4 954.6,884.5 954.9,883.5 955.2,891.2 955.5,883.2 955.8,888.2 956.1,885.5 956.4,888.0 956.7,881.6 957.0,889.5 957.3,889.3 957.6,891.7 957.9,890.4 958.2,882.9 958.5,889.1 958.8,892.0 959.1,890.1 959.4,886.6 959.7,877.5 960.0,889.7 960.3,883.6 960.6,880.7 960.9,887.5 961.2,886.0 961.5,874.2 961.8,885.5 962.1,883.9 962.4,882.1 962.7,881.2 963.0,888.8 963.3,882.6 963.6,884.4 963.9,883.3 964.2,881.2 964.5,881.4 964.8,890.9 965.1,888.1 965.4,883.7 965.7,886.5 966.0,875.9 966.3,888.9 966.6,891.6 966.9,882.3 967.2,892.5 967.5,886.8 967.8,882.6 968.1,892.4 968.4,887.5 968.7,888.5 969.0,896.5 969.3,888.9 969.6,891.9 969.9,886.1 970.2,885.3 970.5,882.8 970.8,894.9 971.1,882.5 971.4,886.2 971.7,884.0 972.0,889.1 972.3,876.3 972.6,892.2 972.9,887.4 973.2,883.7 973.5,893.2 973.8,885.4 974.1,890.1 974.4,880.1 974.7,887.4 975.0,880.5 975.3,894.3 975.6,888.3 975.9,889.1 976.2,882.6 976.5,887.0 976.8,887.4 977.1,888.0 977.4,892.1 977.7,880.8 978.0,892.6 978.3,882.9 978.6,888.5 978.9,890.8 979.2,890.7 979.5,883.8 979.8,887.3 980.1,887.6 980.4,878.3 980.7,884.2 981.0,881.0 981.3,883.5 981.6,879.6 981.9,887.8 982.2,883.0 982.5,887.1 982.8,893.5 983.1,880.0 983.4,876.9 983.7,883.1 984.0,887.3 984.3,877.6 984.6,882.2 984.9,873.1 985.2,881.7 985.5,877.0 985.8,878.9 986.1,875.6 986.4,875.4 986.7,883.0 987.0,879.9 987.3,887.8 987.6,883.6 987.9,886.1 988.2,890.1 988.5,881.6 988.8,886.6 989.1,890.2 989.4,882.1 989.7,890.1 990.0,886.5 990.3,888.0 990.6,884.8 990.9,886.3 991.2,883.8 991.5,884.7 991.8,886.1 992.1,883.4 992.4,886.0 992.7,881.9 993.0,879.7 993.3,881.8 993.6,885.6 993.9,886.4 994.2,893.4 994.5,885.8 994.8,881.6 995.1,890.3 995.4,886.1 995.7,880.5 996.0,881.9 996.3,895.0 996.6,886.3 996.9,883.7 997.2,890.6 997.5,886.1 997.8,886.9 998.1,886.4 998.4,889.9 998.7,888.9 999.0,885.8 999.3,886.9 999.6,891.8 999.9,884.8 1000.2,886.4 1000.5,886.5 1000.8,875.4 1001.1,891.7 1001.4,887.4 1001.7,884.9 1002.0,877.7 1002.3,883.1 1002.6,885.7 1002.9,878.1 1003.2,884.9 1003.5,890.7 1003.8,889.7 1004.1,888.7 1004.4,886.9 1004.7,881.9 1005.0,881.3 1005.3,885.9 1005.6,886.0 1005.9,882.6 1006.2,882.7 1006.5,880.5 1006.8,887.2 1007.1,885.0 1007.4,893.1 1007.7,893.2 1008.0,881.4 1008.3,894.9 1008.6,889.4 1008.9,885.3 1009.2,888.8 1009.5,883.4 1009.8,878.1 1010.1,877.9 1010.4,884.6 1010.7,888.7 1011.0,891.4 1011.3,876.5 1011.6,883.0 1011.9,880.9 1012.2,898.4 1012.5,889.5 1012.8,886.3 1013.1,881.3 1013.4,885.7 1013.7,884.4 1014.0,885.4 1014.3,886.0 1014.6,887.2 1014.9,877.5 1015.2,895.8 1015.5,890.7 1015.8,883.5 1016.1,883.4 1016.4,881.4 1016.7,882.2 1017.0,883.2 1017.3,883.5 1017.6,885.9 1017.9,886.9 1018.2,888.2 1018.5,882.5 1018.8,888.5 1019.1,882.9 1019.4,878.3 1019.7,888.4 1020.0,889.0 1020.3,885.8 1020.6,877.1 1020.9,884.4 1021.2,883.1 1021.5,892.2 1021.8,891.2 1022.1,883.4 1022.4,884.5 1022.7,894.1 1023.0,893.8 1023.3,884.0 1023.6,884.5 1023.9,880.4 1024.2,879.4 1024.5,889.5 1024.8,889.3 1025.1,885.6 1025.4,883.5 1025.7,895.4 1026.0,888.0 1026.3,887.3 1026.6,893.6 1026.9,886.0 1027.2,886.5 1027.5,879.8 1027.8,886.9 1028.1,887.9 1028.4,888.3 1028.7,891.9 1029.0,894.6 1029.3,884.8 1029.6,878.6 1029.9,882.6 1030.2,888.2 1030.5,885.9 1030.8,881.8 1031.1,882.4 1031.4,884.4 1031.7,885.9 1032.0,888.5 1032.3,881.5 1032.6,880.4 1032.9,881.6 1033.2,887.5 1033.5,881.1 1033.8,880.9 1034.1,893.8 1034.4,881.3 1034.7,887.2 1035.0,887.3 1035.3,878.9 1035.6,887.7 1035.9,884.3 1036.2,884.6 1036.5,893.4 1036.8,886.7 1037.1,879.3 1037.4,892.1 1037.7,888.1 1038.0,892.6 1038.3,889.7 1038.6,887.9 1038.9,896.8 1039.2,891.2 1039.5,883.8 1039.8,886.3 1040.1,881.4 1040.4,887.8 1040.7,890.4 1041.0,893.9 1041.3,880.9 1041.6,889.3 1041.9,890.7 1042.2,885.1 1042.5,888.2 1042.8,886.4 1043.1,883.8 1043.4,880.1 1043.7,884.5 1044.0,888.2 1044.3,883.3 1044.6,881.9 1044.9,888.0 1045.2,886.2 1045.5,891.0 1045.8,887.0 1046.1,889.4 1046.4,884.2 1046.7,882.4 1047.0,880.6 1047.3,886.4 1047.6,883.6 1047.9,880.8 1048.2,886.6 1048.5,881.5 1048.8,891.5 1049.1,890.4 1049.4,885.0 1049.7,885.4 1050.0,879.5 1050.3,884.0 1050.6,887.4 1050.9,887.9 1051.2,891.9 1051.5,883.8 1051.8,882.0 1052.1,881.5 1052.4,886.1 1052.7,885.1 1053.0,889.1 1053.3,880.1 1053.6,883.9 1053.9,877.5 1054.2,880.4 1054.5,881.5 1054.8,887.5 1055.1,884.9 1055.4,882.4 1055.7,883.7 1056.0,893.5 1056.3,887.0 1056.6,880.7 1056.9,882.6 1057.2,877.8 1057.5,875.1 1057.8,894.3 1058.1,882.4 1058.4,886.9 1058.7,889.6 1059.0,891.8 1059.3,882.6 1059.6,881.2 1059.9,888.9 1060.2,879.9 1060.5,884.7 1060.8,881.0 1061.1,882.5 1061.4,878.9 1061.7,886.1 1062.0,892.1 1062.3,887.6 1062.6,889.9 1062.9,885.4 1063.2,881.3 1063.5,885.2 1063.8,893.0 1064.1,879.9 1064.4,878.8 1064.7,876.4 1065.0,886.0 1065.3,888.8 1065.6,888.5 1065.9,884.6 1066.2,892.3 1066.5,893.6 1066.8,891.0 1067.1,895.0 1067.4,882.6 1067.7,886.1 1068.0,885.2 1068.3,878.9 1068.6,884.9 1068.9,890.2 1069.2,888.6 1069.5,889.2 1069.8,888.3 1070.1,885.7 1070.4,888.1 1070.7,884.8 1071.0,887.3 1071.3,887.3 1071.6,882.5 1071.9,884.0 1072.2,887.8 1072.5,891.9 1072.8,886.7 1073.1,889.7 1073.4,875.3 1073.7,887.5 1074.0,883.2 1074.3,876.7 1074.6,886.5 1074.9,887.0 1075.2,888.3 1075.5,885.9 1075.8,874.2 1076.1,888.2 1076.4,885.2 1076.7,878.5 1077.0,883.2 1077.3,889.2 1077.6,892.7 1077.9,883.9 1078.2,883.3 1078.5,883.3 1078.8,880.9 1079.1,889.3 1079.4,886.6 1079.7,885.3 1080.0,883.5 1080.3,884.5 1080.6,882.0 1080.9,889.2 1081.2,884.8 1081.5,891.3 1081.8,885.2 1082.1,881.1 1082.4,880.0 1082.7,887.7 1083.0,879.8 1083.3,887.7 1083.6,896.3 1083.9,879.9 1084.2,888.2 1084.5,881.1 1084.8,880.2 1085.1,879.5 1085.4,882.0 1085.7,885.4 1086.0,885.0 1086.3,888.9 1086.6,886.3 1086.9,885.8 1087.2,887.7 1087.5,885.5 1087.8,880.5 1088.1,891.5 1088.4,886.1 1088.7,883.5 1089.0,889.3 1089.3,875.9 1089.6,889.3 1089.9,887.4 1090.2,881.2 1090.5,882.6 1090.8,879.1 1091.1,882.8 1091.4,881.5 1091.7,893.3 1092.0,876.5 1092.3,881.0 1092.6,880.8 1092.9,877.9 1093.2,881.8 1093.5,884.0 1093.8,883.5 1094.1,886.7 1094.4,882.7 1094.7,883.5 1095.0,882.9 1095.3,881.8 1095.6,893.5 1095.9,895.1 1096.2,882.2 1096.5,884.6 1096.8,877.3 1097.1,880.4 1097.4,885.5 1097.7,879.7 1098.0,881.3 1098.3,887.7 1098.6,887.5 1098.9,883.5 1099.2,880.4 1099.5,885.5 1099.8,877.9 1100.1,879.2 1100.4,878.5 1100.7,886.9 1101.0,883.8 1101.3,891.6 1101.6,885.1 1101.9,887.5 1102.2,882.7 1102.5,884.6 1102.8,889.0 1103.1,885.1 1103.4,888.5 1103.7,879.2 1104.0,882.5 1104.3,889.0 1104.6,883.2 1104.9,889.4 1105.2,884.8 1105.5,887.8 1105.8,880.5 1106.1,878.1 1106.4,885.9 1106.7,882.9 1107.0,893.9 1107.3,879.7 1107.6,881.4 1107.9,872.6 1108.2,877.7 1108.5,877.8 1108.8,881.0 1109.1,881.7 1109.4,885.4 1109.7,884.7 1110.0,888.4 1110.3,884.5 1110.6,888.5 1110.9,879.9 1111.2,889.0 1111.5,870.4 1111.8,881.8 1112.1,884.8 1112.4,880.2 1112.7,878.0 1113.0,879.2 1113.3,875.4 1113.6,876.9 1113.9,880.5 1114.2,874.6 1114.5,875.5 1114.8,875.6 1115.1,873.8 1115.4,880.3 1115.7,875.0 1116.0,877.1 1116.3,878.0 1116.6,871.1 1116.9,884.6 1117.2,884.2 1117.5,875.7 1117.8,879.1 1118.1,867.5 1118.4,873.3 1118.7,877.6 1119.0,880.4 1119.3,875.5 1119.6,877.8 1119.9,882.8 1120.2,874.8 1120.5,882.9 1120.8,867.6 1121.1,883.9 1121.4,863.6 1121.7,883.0 1122.0,864.5 1122.3,872.5 1122.6,877.1 1122.9,870.0 1123.2,871.5 1123.5,870.0 1123.8,872.0 1124.1,879.8 1124.4,868.3 1124.7,872.9 1125.0,885.2 1125.3,864.2 1125.6,860.3 1125.9,878.8 1126.2,875.9 1126.5,870.1 1126.8,881.0 1127.1,880.3 1127.4,877.0 1127.7,879.6 1128.0,876.3 1128.3,873.8 1128.6,868.8 1128.9,864.1 1129.2,870.1 1129.5,873.3 1129.8,863.5 1130.1,874.1 1130.4,871.9 1130.7,873.4 1131.0,866.5 1131.3,859.1 1131.6,866.9 1131.9,872.3 1132.2,868.6 1132.5,860.2 1132.8,867.5 1133.1,885.8 1133.4,864.3 1133.7,865.6 1134.0,861.2 1134.3,869.5 1134.6,867.9 1134.9,869.7 1135.2,864.7 1135.5,864.1 1135.8,868.6 1136.1,873.7 1136.4,871.6 1136.7,870.4 1137.0,876.7 1137.3,869.6 1137.6,856.4 1137.9,875.7 1138.2,860.3 1138.5,877.4 1138.8,871.5 1139.1,878.1 1139.4,863.0 1139.7,871.2 1140.0,866.5 1140.3,864.7 1140.6,859.0 1140.9,860.8 1141.2,863.1 1141.5,869.3 1141.8,865.6 1142.1,870.3 1142.4,871.3 1142.7,872.0 1143.0,863.3 1143.3,869.5 1143.6,858.7 1143.9,873.7 1144.2,878.3 1144.5,857.0 1144.8,869.2 1145.1,863.5 1145.4,860.3 1145.7,865.0 1146.0,869.9 1146.3,868.4 1146.6,867.3 1146.9,859.9 1147.2,871.4 1147.5,875.2 1147.8,872.3 1148.1,875.7 1148.4,876.5 1148.7,861.3 1149.0,869.7 1149.3,859.2 1149.6,869.4 1149.9,864.5 1150.2,870.3 1150.5,875.6 1150.8,876.6 1151.1,864.9 1151.4,866.5 1151.7,877.1 1152.0,872.0 1152.3,865.7 1152.6,870.7 1152.9,872.4 1153.2,871.8 1153.5,883.0 1153.8,875.8 1154.1,876.7 1154.4,873.1 1154.7,880.1 1155.0,879.5 1155.3,881.0 1155.6,884.5 1155.9,875.1 1156.2,876.9 1156.5,871.8 1156.8,873.1 1157.1,875.7 1157.4,880.7 1157.7,870.7 1158.0,868.5 1158.3,875.5 1158.6,879.2 1158.9,872.4 1159.2,877.1 1159.5,880.2 1159.8,875.9 1160.1,883.3 1160.4,879.3 1160.7,877.8 1161.0,878.3 1161.3,876.7 1161.6,874.6 1161.9,877.1 1162.2,882.3 1162.5,881.7 1162.8,884.3 1163.1,877.0 1163.4,872.6 1163.7,882.9 1164.0,873.9 1164.3,878.2 1164.6,875.9 1164.9,883.7 1165.2,877.0 1165.5,886.5 1165.8,878.7 1166.1,888.5 1166.4,882.2 1166.7,878.3 1167.0,880.2 1167.3,879.6 1167.6,887.6 1167.9,886.9 1168.2,873.9 1168.5,882.0 1168.8,873.8 1169.1,879.1 1169.4,881.1 1169.7,882.7 1170.0,870.2 1170.3,886.7 1170.6,878.2 1170.9,882.6 1171.2,881.0 1171.5,872.4 1171.8,879.2 1172.1,892.9 1172.4,875.5 1172.7,885.4 1173.0,879.6 1173.3,883.0 1173.6,888.1 1173.9,876.2 1174.2,883.5 1174.5,885.0 1174.8,883.3 1175.1,875.3 1175.4,880.5 1175.7,880.0 1176.0,883.0 1176.3,882.8 1176.6,877.1 1176.9,880.0 1177.2,881.8 1177.5,878.3 1177.8,880.0 1178.1,889.2 1178.4,884.7 1178.7,879.3 1179.0,884.0 1179.3,882.7 1179.6,880.9 1179.9,882.9 1180.2,873.6 1180.5,884.5 1180.8,872.5 1181.1,888.1 1181.4,879.2 1181.7,883.3 1182.0,888.6 1182.3,879.4 1182.6,880.9 1182.9,885.5 1183.2,884.9 1183.5,887.0 1183.8,886.4 1184.1,878.8 1184.4,881.6 1184.7,879.3 1185.0,874.3 1185.3,886.5 1185.6,878.0 1185.9,879.6 1186.2,887.5 1186.5,864.6 1186.8,865.0 1187.1,873.2 1187.4,866.9 1187.7,867.9 1188.0,866.6 1188.3,861.8 1188.6,877.5 1188.9,867.8 1189.2,866.8 1189.5,867.7 1189.8,871.0 1190.1,885.1 1190.4,885.0 1190.7,879.9 1191.0,878.5 1191.3,872.9 1191.6,873.0 1191.9,885.7 1192.2,886.7 1192.5,879.7 1192.8,880.4 1193.1,879.2 1193.4,883.0 1193.7,874.5 1194.0,881.0 1194.3,878.6 1194.6,879.2 1194.9,887.1 1195.2,891.4 1195.5,880.1 1195.8,889.5 1196.1,879.6 1196.4,882.5 1196.7,888.6 1197.0,895.5 1197.3,880.9 1197.6,886.4 1197.9,884.1 1198.2,880.1 1198.5,879.7 1198.8,878.6 1199.1,888.1 1199.4,887.3 1199.7,877.7 1200.0,878.1 1200.3,875.5 1200.6,889.5 1200.9,882.6 1201.2,893.5 1201.5,883.7 1201.8,877.3 1202.1,884.6 1202.4,878.8 1202.7,886.4 1203.0,888.2 1203.3,891.7 1203.6,890.5 1203.9,881.5 1204.2,885.7 1204.5,875.3 1204.8,888.1 1205.1,887.8 1205.4,883.0 1205.7,883.8 1206.0,891.2 1206.3,883.1 1206.6,876.9 1206.9,885.0 1207.2,884.3 1207.5,888.5 1207.8,882.5 1208.1,877.9 1208.4,881.0 1208.7,883.7 1209.0,877.1 1209.3,868.7 1209.6,882.7 1209.9,875.8 1210.2,867.9 1210.5,883.9 1210.8,884.9 1211.1,872.5 1211.4,885.6 1211.7,877.3 1212.0,874.3 1212.3,877.8 1212.6,879.1 1212.9,885.7 1213.2,879.4 1213.5,879.6 1213.8,884.3 1214.1,875.0 1214.4,875.3 1214.7,875.6 1215.0,870.6 1215.3,869.7 1215.6,880.3 1215.9,893.1 1216.2,879.8 1216.5,882.6 1216.8,884.0 1217.1,881.6 1217.4,884.0 1217.7,881.5 1218.0,882.3 1218.3,879.6 1218.6,876.4 1218.9,886.0 1219.2,877.7 1219.5,882.1 1219.8,886.0 1220.1,881.8 1220.4,877.4 1220.7,884.6 1221.0,885.9 1221.3,876.3 1221.6,880.1 1221.9,869.9 1222.2,868.3 1222.5,870.4 1222.8,880.4 1223.1,870.5 1223.4,882.4 1223.7,875.4 1224.0,884.5 1224.3,879.0 1224.6,869.1 1224.9,878.7 1225.2,875.7 1225.5,877.2 1225.8,875.5 1226.1,865.8 1226.4,873.9 1226.7,878.1 1227.0,868.9 1227.3,869.1 1227.6,875.8 1227.9,863.2 1228.2,881.4 1228.5,874.9 1228.8,867.4 1229.1,870.1 1229.4,871.0 1229.7,873.4 1230.0,871.2 1230.3,874.0 1230.6,871.1 1230.9,858.7 1231.2,857.8 1231.5,850.7 1231.8,856.4 1232.1,873.0 1232.4,863.0 1232.7,859.7 1233.0,859.5 1233.3,861.5 1233.6,857.0 1233.9,851.0 1234.2,851.1 1234.5,855.9 1234.8,852.9 1235.1,853.1 1235.4,858.2 1235.7,845.8 1236.0,852.8 1236.3,847.5 1236.6,856.5 1236.9,848.9 1237.2,849.1 1237.5,845.4 1237.8,854.6 1238.1,851.0 1238.4,839.6 1238.7,834.3 1239.0,849.0 1239.3,832.6 1239.6,833.3 1239.9,847.9 1240.2,841.1 1240.5,825.9 1240.8,826.4 1241.1,836.6 1241.4,838.1 1241.7,838.7 1242.0,827.8 1242.3,832.2 1242.6,834.4 1242.9,827.7 1243.2,821.8 1243.5,838.2 1243.8,821.5 1244.1,840.3 1244.4,825.4 1244.7,822.0 1245.0,829.6 1245.3,839.8 1245.6,824.4 1245.9,840.0 1246.2,822.0 1246.5,818.0 1246.8,847.1 1247.1,848.0 1247.4,828.7 1247.7,834.6 1248.0,828.9 1248.3,831.7 1248.6,829.0 1248.9,830.1 1249.2,839.3 1249.5,834.2 1249.8,841.5 1250.1,831.2 1250.4,831.1 1250.7,850.5 1251.0,846.6 1251.3,851.1 1251.6,855.3 1251.9,840.6 1252.2,846.4 1252.5,857.0 1252.8,856.6 1253.1,857.9 1253.4,846.1 1253.7,855.9 1254.0,855.6 1254.3,859.1 1254.6,865.4 1254.9,856.9 1255.2,853.0 1255.5,858.5 1255.8,853.9 1256.1,860.6 1256.4,852.8 1256.7,861.6 1257.0,861.9 1257.3,857.0 1257.6,870.5 1257.9,866.5 1258.2,866.4 1258.5,863.2 1258.8,872.0 1259.1,868.3 1259.4,861.0 1259.7,871.3 1260.0,871.6 1260.3,867.7 1260.6,875.2 1260.9,871.4 1261.2,865.9 1261.5,862.3 1261.8,877.6 1262.1,869.5 1262.4,879.5 1262.7,879.5 1263.0,867.0 1263.3,866.8 1263.6,874.5 1263.9,873.7 1264.2,871.9 1264.5,873.4 1264.8,877.4 1265.1,862.7 1265.4,875.6 1265.7,881.8 1266.0,873.9 1266.3,874.8 1266.6,860.1 1266.9,877.9 1267.2,879.5 1267.5,884.1 1267.8,883.0 1268.1,873.7 1268.4,881.8 1268.7,882.1 1269.0,870.0 1269.3,872.0 1269.6,875.7 1269.9,875.7 1270.2,876.2 1270.5,879.3 1270.8,879.7 1271.1,875.5 1271.4,877.7 1271.7,885.8 1272.0,882.1 1272.3,885.1 1272.6,878.1 1272.9,877.0 1273.2,887.0 1273.5,881.2 1273.8,887.6 1274.1,886.3 1274.4,886.5 1274.7,880.5 1275.0,884.0 1275.3,881.0 1275.6,879.4 1275.9,876.0 1276.2,886.2 1276.5,877.2 1276.8,879.8 1277.1,880.9 1277.4,881.2 1277.7,892.0 1278.0,883.8 1278.3,877.4 1278.6,875.2 1278.9,875.6 1279.2,878.2 1279.5,876.2 1279.8,882.3 1280.1,883.3 1280.4,875.5 1280.7,881.6 1281.0,880.2 1281.3,889.1 1281.6,880.1 1281.9,877.2 1282.2,874.1 1282.5,891.6 1282.8,889.3 1283.1,883.7 1283.4,882.6 1283.7,886.8 1284.0,872.3 1284.3,889.1 1284.6,887.6 1284.9,877.9 1285.2,886.1 1285.5,890.1 1285.8,885.0 1286.1,881.2 1286.4,886.7 1286.7,871.1 1287.0,886.9 1287.3,891.2 1287.6,891.5 1287.9,881.5 1288.2,895.2 1288.5,884.0 1288.8,884.5 1289.1,889.8 1289.4,883.0 1289.7,876.1 1290.0,883.6 1290.3,886.5 1290.6,876.2 1290.9,884.0 1291.2,885.7 1291.5,884.8 1291.8,890.9 1292.1,891.5 1292.4,882.4 1292.7,891.4 1293.0,882.4 1293.3,886.0 1293.6,878.0 1293.9,886.5 1294.2,887.8 1294.5,881.7 1294.8,882.2 1295.1,874.4 1295.4,884.5 1295.7,882.1 1296.0,882.0 1296.3,881.2 1296.6,888.2 1296.9,881.9 1297.2,885.7 1297.5,876.3 1297.8,891.9 1298.1,882.9 1298.4,878.6 1298.7,889.0 1299.0,880.7 1299.3,884.8 1299.6,883.9 1299.9,883.9 1300.2,887.8 1300.5,888.4 1300.8,885.6 1301.1,879.0 1301.4,880.6 1301.7,877.4 1302.0,891.8 1302.3,878.5 1302.6,881.8 1302.9,884.0 1303.2,887.8 1303.5,881.5 1303.8,885.1 1304.1,886.5 1304.4,882.3 1304.7,888.5 1305.0,882.7 1305.3,882.5 1305.6,878.9 1305.9,879.3 1306.2,882.7 1306.5,881.5 1306.8,883.0 1307.1,882.4 1307.4,881.4 1307.7,886.2 1308.0,888.5 1308.3,885.3 1308.6,888.3 1308.9,879.4 1309.2,891.3 1309.5,879.0 1309.8,888.2 1310.1,883.0 1310.4,882.8 1310.7,887.1 1311.0,885.9 1311.3,879.2 1311.6,880.0 1311.9,881.5 1312.2,889.6 1312.5,883.7 1312.8,883.2 1313.1,879.9 1313.4,880.2 1313.7,883.5 1314.0,889.7 1314.3,884.9 1314.6,884.1 1314.9,879.2 1315.2,887.4 1315.5,882.1 1315.8,873.1 1316.1,880.1 1316.4,893.9 1316.7,886.8 1317.0,887.4 1317.3,877.5 1317.6,883.7 1317.9,878.6 1318.2,882.1 1318.5,879.7 1318.8,877.5 1319.1,887.0 1319.4,874.7 1319.7,885.9 1320.0,886.0 1320.3,881.7 1320.6,889.3 1320.9,880.0 1321.2,889.8 1321.5,885.0 1321.8,882.1 1322.1,876.5 1322.4,885.2 1322.7,890.3 1323.0,888.2 1323.3,879.9 1323.6,889.5 1323.9,881.0 1324.2,883.8 1324.5,895.4 1324.8,881.8 1325.1,886.5 1325.4,882.1 1325.7,884.5 1326.0,882.1 1326.3,890.7 1326.6,887.1 1326.9,880.5 1327.2,876.3 1327.5,884.8 1327.8,873.3 1328.1,884.6 1328.4,880.7 1328.7,891.7 1329.0,890.4 1329.3,887.6 1329.6,884.5 1329.9,877.0 1330.2,891.9 1330.5,886.2 1330.8,888.7 1331.1,888.1 1331.4,885.5 1331.7,884.7 1332.0,882.2 1332.3,887.6 1332.6,893.9 1332.9,881.3 1333.2,872.9 1333.5,878.6 1333.8,878.8 1334.1,876.5 1334.4,883.2 1334.7,889.0 1335.0,883.1 1335.3,887.1 1335.6,879.8 1335.9,888.2 1336.2,885.3 1336.5,891.5 1336.8,883.7 1337.1,878.7 1337.4,883.2 1337.7,885.0 1338.0,891.2 1338.3,889.7 1338.6,887.6 1338.9,885.7 1339.2,884.5 1339.5,887.9 1339.8,879.9 1340.1,885.5 1340.4,883.1 1340.7,887.1 1341.0,887.2 1341.3,881.5 1341.6,885.3 1341.9,890.8 1342.2,876.2 1342.5,879.5 1342.8,888.2 1343.1,891.7 1343.4,880.5 1343.7,888.3 1344.0,888.4 1344.3,882.8 1344.6,883.4 1344.9,880.5 1345.2,872.5 1345.5,884.7 1345.8,883.8 1346.1,876.8 1346.4,887.1 1346.7,888.3 1347.0,885.1 1347.3,883.5 1347.6,890.2 1347.9,890.0 1348.2,887.5 1348.5,889.3 1348.8,882.7 1349.1,892.8 1349.4,885.4 1349.7,889.9 1350.0,886.0 1350.3,876.8 1350.6,888.7 1350.9,881.5 1351.2,879.8 1351.5,879.9 1351.8,883.8 1352.1,885.9 1352.4,880.1 1352.7,885.5 1353.0,882.2 1353.3,875.4 1353.6,878.8 1353.9,883.7 1354.2,886.6 1354.5,884.9 1354.8,882.5 1355.1,885.2 1355.4,882.2 1355.7,870.1 1356.0,884.2 1356.3,887.8 1356.6,886.5 1356.9,884.0 1357.2,883.6 1357.5,883.4 1357.8,884.0 1358.1,875.3 1358.4,889.5 1358.7,894.1 1359.0,887.0 1359.3,873.7 1359.6,880.6 1359.9,896.4 1360.2,884.9 1360.5,884.8 1360.8,874.6 1361.1,886.2 1361.4,882.7 1361.7,880.3 1362.0,875.0 1362.3,880.4 1362.6,878.5 1362.9,882.9 1363.2,890.9 1363.5,883.1 1363.8,874.1 1364.1,888.6 1364.4,880.6 1364.7,893.1 1365.0,883.1 1365.3,878.1 1365.6,880.5 1365.9,884.4 1366.2,872.5 1366.5,884.7 1366.8,887.8 1367.1,879.9 1367.4,877.8 1367.7,886.1 1368.0,875.1 1368.3,890.0 1368.6,880.9 1368.9,884.8 1369.2,878.3 1369.5,880.3 1369.8,888.9 1370.1,885.9 1370.4,884.1 1370.7,877.9 1371.0,884.5 1371.3,877.8 1371.6,881.1 1371.9,882.3 1372.2,887.6 1372.5,884.3 1372.8,881.1 1373.1,879.7 1373.4,882.2 1373.7,877.6 1374.0,882.2 1374.3,878.1 1374.6,886.1 1374.9,885.6 1375.2,884.7 1375.5,883.6 1375.8,876.1 1376.1,890.5 1376.4,882.0 1376.7,888.4 1377.0,873.1 1377.3,887.2 1377.6,881.9 1377.9,874.6 1378.2,886.0 1378.5,882.9 1378.8,881.0 1379.1,871.9 1379.4,883.5 1379.7,878.7 1380.0,882.5 1380.3,882.1 1380.6,878.9 1380.9,881.3 1381.2,885.1 1381.5,878.5 1381.8,889.2 1382.1,877.9 1382.4,876.9 1382.7,878.6 1383.0,879.3 1383.3,881.5 1383.6,871.2 1383.9,888.9 1384.2,884.8 1384.5,889.5 1384.8,881.7 1385.1,876.8 1385.4,872.7 1385.7,877.2 1386.0,884.2 1386.3,885.1 1386.6,872.2 1386.9,879.3 1387.2,874.0 1387.5,873.6 1387.8,883.2 1388.1,879.0 1388.4,873.0 1388.7,877.9 1389.0,874.7 1389.3,885.4 1389.6,884.4 1389.9,876.9 1390.2,880.7 1390.5,874.9 1390.8,876.3 1391.1,879.9 1391.4,876.7 1391.7,871.9 1392.0,872.9 1392.3,882.0 1392.6,882.7 1392.9,870.7 1393.2,867.8 1393.5,865.2 1393.8,875.7 1394.1,876.3 1394.4,876.5 1394.7,871.2 1395.0,874.8 1395.3,869.1 1395.6,873.4 1395.9,875.3 1396.2,864.2 1396.5,865.4 1396.8,867.7 1397.1,875.8 1397.4,873.3 1397.7,871.4 1398.0,863.7 1398.3,862.8 1398.6,864.1 1398.9,859.4 1399.2,862.9 1399.5,862.9 1399.8,865.6 1400.1,859.3 1400.4,860.4 1400.7,859.5 1401.0,846.0 1401.3,849.8 1401.6,842.8 1401.9,849.2 1402.2,845.7 1402.5,857.8 1402.8,844.4 1403.1,846.3 1403.4,859.7 1403.7,836.4 1404.0,831.5 1404.3,837.2 1404.6,831.6 1404.9,845.8 1405.2,820.4 1405.5,825.7 1405.8,834.4 1406.1,836.8 1406.4,833.7 1406.7,840.1 1407.0,835.1 1407.3,833.9 1407.6,811.1 1407.9,814.4 1408.2,832.5 1408.5,822.8 1408.8,797.0 1409.1,834.2 1409.4,800.7 1409.7,804.9 1410.0,806.5 1410.3,808.7 1410.6,798.3 1410.9,815.2 1411.2,816.7 1411.5,808.7 1411.8,812.5 1412.1,794.3 1412.4,816.3 1412.7,801.9 1413.0,807.3 1413.3,809.7 1413.6,809.1 1413.9,802.4 1414.2,809.3 1414.5,806.8 1414.8,825.7 1415.1,822.7 1415.4,826.3 1415.7,816.2 1416.0,826.9 1416.3,809.1 1416.6,829.2 1416.9,837.6 1417.2,816.4 1417.5,832.8 1417.8,826.8 1418.1,825.1 1418.4,841.8 1418.7,843.3 1419.0,831.4 1419.3,839.5 1419.6,836.4 1419.9,845.9 1420.2,830.2 1420.5,849.0 1420.8,847.0 1421.1,849.8 1421.4,858.6 1421.7,838.9 1422.0,852.4 1422.3,865.3 1422.6,851.7 1422.9,859.7 1423.2,870.6 1423.5,860.0 1423.8,862.3 1424.1,860.1 1424.4,869.1 1424.7,870.7 1425.0,854.2 1425.3,869.1 1425.6,863.7 1425.9,876.9 1426.2,863.2 1426.5,863.1 1426.8,853.8 1427.1,878.4 1427.4,873.8 1427.7,871.0 1428.0,878.3 1428.3,871.5 1428.6,879.5 1428.9,876.2 1429.2,867.5 1429.5,869.1 1429.8,883.1 1430.1,874.2 1430.4,868.1 1430.7,877.7 1431.0,874.6 1431.3,876.4 1431.6,877.6 1431.9,871.4 1432.2,885.8 1432.5,882.6 1432.8,887.1 1433.1,876.0 1433.4,884.1 1433.7,878.7 1434.0,875.6 1434.3,875.2 1434.6,878.9 1434.9,883.9 1435.2,873.7 1435.5,883.3 1435.8,885.2 1436.1,881.9 1436.4,873.6 1436.7,888.1 1437.0,883.8 1437.3,873.1 1437.6,890.5 1437.9,887.6 1438.2,877.9 1438.5,881.9 1438.8,885.1 1439.1,875.2 1439.4,875.9 1439.7,885.8 1440.0,881.4 1440.3,882.7 1440.6,883.5 1440.9,891.2 1441.2,880.8 1441.5,892.5 1441.8,888.5 1442.1,880.0 1442.4,886.5 1442.7,882.3 1443.0,879.6 1443.3,889.8 1443.6,875.0 1443.9,889.3 1444.2,887.6 1444.5,883.0 1444.8,881.3 1445.1,883.3 1445.4,884.2 1445.7,887.6 1446.0,884.9 1446.3,887.6 1446.6,878.8 1446.9,873.7 1447.2,884.4 1447.5,881.4 1447.8,880.4 1448.1,874.3 1448.4,882.0 1448.7,885.3 1449.0,885.7 1449.3,886.4 1449.6,880.2 1449.9,881.9 1450.2,879.8 1450.5,887.2 1450.8,877.9 1451.1,894.0 1451.4,877.8 1451.7,881.7 1452.0,878.2 1452.3,883.6 1452.6,880.6 1452.9,884.1 1453.2,883.4 1453.5,880.6 1453.8,879.8 1454.1,886.5 1454.4,882.8 1454.7,887.0 1455.0,878.2 1455.3,887.5 1455.6,890.8 1455.9,883.7 1456.2,876.6 1456.5,876.6 1456.8,889.2 1457.1,875.0 1457.4,883.9 1457.7,877.9 1458.0,888.4 1458.3,878.4 1458.6,890.4 1458.9,892.9 1459.2,889.7 1459.5,886.1 1459.8,888.1 1460.1,883.9 1460.4,881.0 1460.7,893.6 1461.0,884.8 1461.3,878.8 1461.6,882.2 1461.9,879.1 1462.2,884.9 1462.5,887.5 1462.8,887.6 1463.1,885.9 1463.4,877.3 1463.7,892.1 1464.0,887.9 1464.3,892.3 1464.6,883.4 1464.9,878.3 1465.2,884.5 1465.5,885.2 1465.8,884.4 1466.1,879.1 1466.4,882.0 1466.7,889.2 1467.0,887.0 1467.3,890.6 1467.6,890.9 1467.9,880.7 1468.2,880.6 1468.5,890.2 1468.8,877.6 1469.1,880.0 1469.4,891.5 1469.7,878.0 1470.0,882.4 1470.3,880.6 1470.6,888.4 1470.9,889.2 1471.2,881.7 1471.5,888.3 1471.8,890.8 1472.1,893.4 1472.4,896.0 1472.7,893.6 1473.0,880.1 1473.3,890.2 1473.6,886.6 1473.9,889.0 1474.2,882.4 1474.5,882.8 1474.8,881.4 1475.1,884.3 1475.4,881.0 1475.7,885.3 1476.0,877.8 1476.3,884.0 1476.6,889.5 1476.9,881.9 1477.2,882.7 1477.5,886.2 1477.8,891.3 1478.1,888.2 1478.4,879.1 1478.7,878.3 1479.0,879.6 1479.3,883.7 1479.6,890.5 1479.9,885.2 1480.2,885.1 1480.5,884.6 1480.8,889.0 1481.1,890.5 1481.4,888.1 1481.7,886.1 1482.0,881.3 1482.3,887.1 1482.6,883.8 1482.9,888.5 1483.2,885.1 1483.5,887.3 1483.8,888.2 1484.1,890.0 1484.4,885.2 1484.7,892.5 1485.0,888.1 1485.3,889.0 1485.6,894.1 1485.9,881.7 1486.2,889.3 1486.5,891.9 1486.8,884.5 1487.1,883.7 1487.4,882.9 1487.7,880.7 1488.0,885.6 1488.3,885.1 1488.6,880.2 1488.9,886.7 1489.2,882.0 1489.5,883.5 1489.8,889.9 1490.1,884.1 1490.4,887.3 1490.7,882.6 1491.0,876.2 1491.3,889.9 1491.6,880.3 1491.9,891.1 1492.2,884.6 1492.5,882.3 1492.8,890.2 1493.1,883.1 1493.4,889.4 1493.7,883.4 1494.0,882.1 1494.3,882.6 1494.6,884.9 1494.9,876.4 1495.2,884.0 1495.5,888.3 1495.8,883.2 1496.1,889.2 1496.4,877.7 1496.7,889.7 1497.0,891.0 1497.3,885.1 1497.6,884.3 1497.9,887.8 1498.2,890.5 1498.5,880.5 1498.8,884.5 1499.1,886.7 1499.4,885.6 1499.7,880.1 1500.0,875.3 1500.3,891.2 1500.6,890.3 1500.9,889.0 1501.2,878.3 1501.5,892.2 1501.8,886.9 1502.1,881.2 1502.4,877.3 1502.7,888.8 1503.0,881.5 1503.3,877.8 1503.6,882.0 1503.9,877.9 1504.2,877.7 1504.5,892.4 1504.8,884.6 1505.1,890.2 1505.4,886.1 1505.7,882.2 1506.0,889.4 1506.3,880.1 1506.6,883.0 1506.9,888.1 1507.2,883.3 1507.5,892.9 1507.8,881.7 1508.1,886.5 1508.4,884.6 1508.7,886.9 1509.0,888.0 1509.3,891.3 1509.6,882.9 1509.9,882.7 1510.2,883.0 1510.5,885.5 1510.8,885.0 1511.1,886.2 1511.4,887.5 1511.7,887.0 1512.0,891.4 1512.3,878.7 1512.6,883.4 1512.9,882.4 1513.2,882.6 1513.5,884.5 1513.8,882.1 1514.1,882.3 1514.4,888.0 1514.7,890.5 1515.0,886.9 1515.3,889.9 1515.6,882.5 1515.9,888.6 1516.2,884.1 1516.5,891.7 1516.8,892.8 1517.1,896.0 1517.4,896.4 1517.7,882.3 1518.0,883.6 1518.3,892.6 1518.6,888.9 1518.9,880.6 1519.2,880.9 1519.5,884.0 1519.8,881.5 1520.1,889.7 1520.4,886.0 1520.7,890.7 1521.0,890.4 1521.3,889.0 1521.6,886.6 1521.9,887.7 1522.2,884.6 1522.5,885.5 1522.8,882.2 1523.1,886.1 1523.4,884.5 1523.7,879.1 1524.0,883.6 1524.3,886.4 1524.6,881.5 1524.9,887.1 1525.2,888.6 1525.5,874.4 1525.8,892.4 1526.1,883.8 1526.4,890.5 1526.7,891.2 1527.0,879.9 1527.3,882.8 1527.6,888.4 1527.9,888.0 1528.2,879.1 1528.5,883.2 1528.8,879.3 1529.1,883.1 1529.4,875.3 1529.7,879.3 1530.0,884.7 1530.3,887.6 1530.6,884.0 1530.9,887.1 1531.2,887.9 1531.5,882.5 1531.8,885.3 1532.1,879.3 1532.4,886.3 1532.7,879.7 1533.0,881.6 1533.3,886.5 1533.6,892.7 1533.9,889.5 1534.2,888.6 1534.5,879.7 1534.8,887.7 1535.1,889.6 1535.4,884.3 1535.7,887.5 1536.0,887.8 1536.3,880.9 1536.6,884.9 1536.9,888.2 1537.2,889.9 1537.5,883.6 1537.8,891.4 1538.1,884.4 1538.4,887.9 1538.7,888.1 1539.0,890.6 1539.3,891.1 1539.6,890.5 1539.9,883.5 1540.2,881.5 1540.5,886.3 1540.8,889.6 1541.1,889.3 1541.4,886.3 1541.7,880.0 1542.0,881.4 1542.3,890.9 1542.6,885.2 1542.9,885.8 1543.2,880.1 1543.5,889.8 1543.8,890.0 1544.1,882.5 1544.4,887.3 1544.7,889.9 1545.0,879.2 1545.3,879.8 1545.6,891.4 1545.9,887.9 1546.2,890.7 1546.5,889.0 1546.8,885.8 1547.1,891.4 1547.4,891.0 1547.7,881.5 1548.0,881.9 1548.3,881.5 1548.6,881.3 1548.9,888.1 1549.2,880.2 1549.5,887.9 1549.8,895.4 1550.1,882.2 1550.4,879.5 1550.7,886.6 1551.0,889.2 1551.3,890.4 1551.6,885.0 1551.9,883.7 1552.2,877.1 1552.5,883.4 1552.8,892.5 1553.1,889.2 1553.4,882.4 1553.7,888.9 1554.0,885.8 1554.3,898.1 1554.6,891.2 1554.9,881.6 1555.2,882.2 1555.5,889.1 1555.8,883.8 1556.1,887.8 1556.4,883.3 1556.7,882.0 1557.0,887.6 1557.3,884.1 1557.6,889.8 1557.9,887.7 1558.2,881.5 1558.5,885.7 1558.8,881.9 1559.1,891.7 1559.4,888.1 1559.7,887.6 1560.0,888.8 1560.3,879.8 1560.6,880.4 1560.9,887.0 1561.2,887.8 1561.5,891.9 1561.8,883.6 1562.1,886.6 1562.4,879.5 1562.7,880.2 1563.0,888.0 1563.3,881.7 1563.6,885.5 1563.9,892.7 1564.2,887.5 1564.5,879.6 1564.8,887.7 1565.1,880.6 1565.4,881.9 1565.7,885.3 1566.0,883.1 1566.3,894.1 1566.6,884.7 1566.9,892.6 1567.2,882.6 1567.5,887.2 1567.8,893.9 1568.1,884.9 1568.4,882.8 1568.7,882.4 1569.0,884.9 1569.3,892.6 1569.6,886.0 1569.9,880.8 1570.2,897.2 1570.5,884.0 1570.8,891.2 1571.1,880.9 1571.4,884.3 1571.7,884.2 1572.0,888.0 1572.3,882.7 1572.6,892.8 1572.9,880.0 1573.2,886.4 1573.5,889.6 1573.8,887.8 1574.1,878.2 1574.4,884.8 1574.7,887.8 1575.0,892.4 1575.3,889.6 1575.6,885.2 1575.9,887.9 1576.2,882.6 1576.5,882.4 1576.8,891.7 1577.1,891.4 1577.4,881.5 1577.7,888.2 1578.0,886.3 1578.3,887.1 1578.6,885.9 1578.9,881.9 1579.2,883.9 1579.5,887.7 1579.8,884.2 1580.1,886.1 1580.4,887.0 1580.7,880.8 1581.0,889.9 1581.3,890.0 1581.6,890.0 1581.9,887.4 1582.2,886.4 1582.5,884.9 1582.8,886.2 1583.1,883.1 1583.4,889.3 1583.7,893.8 1584.0,888.7 1584.3,878.7 1584.6,889.2 1584.9,882.0 1585.2,884.9 1585.5,888.0 1585.8,891.7 1586.1,885.4 1586.4,882.7 1586.7,885.2 1587.0,884.2 1587.3,882.8 1587.6,890.4 1587.9,894.1 1588.2,886.3 1588.5,888.4 1588.8,883.9 1589.1,883.8 1589.4,885.0 1589.7,884.9 1590.0,884.6 1590.3,885.9 1590.6,889.5 1590.9,883.0 1591.2,883.7 1591.5,888.2 1591.8,894.3 1592.1,880.7 1592.4,889.8 1592.7,894.9 1593.0,890.1 1593.3,878.8 1593.6,880.7 1593.9,888.9 1594.2,894.5 1594.5,875.3 1594.8,882.0 1595.1,884.3 1595.4,886.1 1595.7,888.6 1596.0,892.8 1596.3,886.4 1596.6,882.1 1596.9,885.8 1597.2,890.0 1597.5,887.3 1597.8,890.8 1598.1,889.8 1598.4,878.9 1598.7,892.9 1599.0,890.4 1599.3,883.3 1599.6,892.9 1599.9,880.6 1600.2,889.0 1600.5,876.4 1600.8,885.1 1601.1,876.4 1601.4,885.7 1601.7,886.1 1602.0,889.6 1602.3,880.3 1602.6,887.1 1602.9,887.6 1603.2,884.4 1603.5,889.0 1603.8,889.3 1604.1,890.8 1604.4,882.1 1604.7,880.6 1605.0,888.1 1605.3,884.4 1605.6,885.2 1605.9,884.7 1606.2,885.0 1606.5,882.4 1606.8,885.9 1607.1,877.1 1607.4,888.1 1607.7,881.4 1608.0,893.7 1608.3,888.4 1608.6,883.3 1608.9,881.9 1609.2,880.9 1609.5,878.2 1609.8,890.9 1610.1,881.4 1610.4,882.1 1610.7,884.5 1611.0,887.0 1611.3,884.6 1611.6,878.4 1611.9,888.0 1612.2,882.0 1612.5,886.1 1612.8,884.5 1613.1,885.8 1613.4,885.1 1613.7,885.4 1614.0,889.8 1614.3,884.5 1614.6,888.4 1614.9,887.8 1615.2,888.2 1615.5,880.0 1615.8,880.8 1616.1,890.4 1616.4,893.2 1616.7,878.9 1617.0,890.6 1617.3,881.2 1617.6,891.9 1617.9,888.2 1618.2,884.1 1618.5,889.5 1618.8,885.2 1619.1,888.2 1619.4,892.0 1619.7,891.8 1620.0,891.5 1620.3,880.7 1620.6,879.4 1620.9,886.8 1621.2,884.3 1621.5,887.0 1621.8,885.8 1622.1,884.5 1622.4,890.7 1622.7,884.2 1623.0,879.7 1623.3,888.3 1623.6,888.9 1623.9,884.3 1624.2,883.5 1624.5,888.1 1624.8,888.7 1625.1,884.5 1625.4,891.1 1625.7,886.8 1626.0,879.5 1626.3,886.4 1626.6,884.7 1626.9,890.7 1627.2,890.0 1627.5,886.1 1627.8,879.9 1628.1,886.1 1628.4,893.6 1628.7,881.6 1629.0,893.6 1629.3,889.3 1629.6,877.1 1629.9,885.6 1630.2,881.9 1630.5,879.7 1630.8,887.3 1631.1,885.7 1631.4,878.3 1631.7,888.1 1632.0,883.1 1632.3,884.5 1632.6,892.8 1632.9,881.5 1633.2,882.0 1633.5,886.3 1633.8,883.6 1634.1,879.2 1634.4,886.8 1634.7,892.3 1635.0,881.0 1635.3,888.5 1635.6,884.6 1635.9,885.7 1636.2,879.7 1636.5,893.9 1636.8,886.9 1637.1,893.4 1637.4,884.6 1637.7,885.2 1638.0,885.5 1638.3,887.4 1638.6,893.0 1638.9,880.7 1639.2,895.2 1639.5,883.3 1639.8,891.4"/>
<polyline stroke="#0000ff" points="120.0,1085.4 120.3,1094.7 120.6,1094.0 120.9,1095.0 121.2,1091.1 121.5,1091.0 121.8,1092.1 122.1,1087.1 122.4,1093.7 122.7,1086.4 123.0,1086.6 123.3,1091.5 123.6,1091.3 123.9,1096.1 124.2,1094.4 124.5,1096.3 124.8,1096.0 125.1,1094.6 125.4,1094.5 125.7,1088.8 126.0,1086.8 126.3,1095.9 126.6,1088.9 126.9,1088.0 127.2,1093.8 127.5,1092.5 127.8,1088.3 128.1,1101.4 128.4,1083.7 128.7,1100.7 129.0,1092.3 129.3,1090.6 129.6,1099.2 129.9,1093.0 130.2,1094.3 130.5,1095.9 130.8,1089.0 131.1,1093.5 131.4,1096.6 131.7,1084.6 132.0,1102.3 132.3,1094.3 132.6,1097.5 132.9,1097.2 133.2,1090.8 133.5,1094.9 133.8,1094.9 134.1,1092.0 134.4,1097.2 134.7,1093.3 135.0,1094.2 135.3,1090.8 135.6,1096.8 135.9,1094.4 136.2,1095.6 136.5,1087.3 136.8,1093.4 137.1,1090.8 137.4,1094.6 137.7,1093.0 138.0,1092.2 138.3,1097.8 138.6,1093.8 138.9,1095.4 139.2,1098.7 139.5,1091.8 139.8,1097.3 140.1,1087.9 140.4,1099.1 140.7,1092.4 141.0,1091.7 141.3,1099.4 141.6,1096.5 141.9,1099.6 142.2,1088.2 142.5,1088.0 142.8,1092.2 143.1,1094.3 143.4,1086.3 143.7,1095.6 144.0,1091.5 144.3,1091.2 144.6,1088.5 144.9,1100.6 145.2,1098.9 145.5,1096.5 145.8,1093.1 146.1,1091.6 146.4,1102.9 146.7,1089.6 147.0,1097.9 147.3,1091.7 147.6,1097.5 147.9,1096.3 148.2,1098.3 148.5,1090.8 148.8,1093.0 149.1,1092.5 149.4,1090.3 149.7,1086.1 150.0,1093.1 150.3,1085.3 150.6,1093.4 150.9,1086.7 151.2,1091.2 151.5,1093.4 151.8,1093.6 152.1,1093.1 152.4,1091.8 152.7,1091.0 153.0,1098.1 153.3,1095.2 153.6,1094.7 153.9,1090.2 154.2,1093.3 154.5,1085.0 154.8,1098.0 155.1,1093.4 155.4,1099.2 155.7,1094.5 156.0,1097.1 156.3,1094.9 156.6,1099.9 156.9,1094.0 157.2,1094.0 157.5,1087.0 157.8,1094.0 158.1,1092.5 158.4,1087.8 158.7,1095.2 159.0,1095.2 159.3,1096.3 159.6,1094.9 159.9,1085.0 160.2,1096.7 160.5,1093.5 160.8,1091.0 161.1,1085.6 161.4,1080.5 161.7,1094.4 162.0,1087.9 162.3,1093.9 162.6,1094.8 162.9,1084.8 163.2,1100.4 163.5,1088.7 163.8,1085.2 164.1,1093.8 164.4,1091.9 164.7,1087.3 165.0,1094.6 165.3,1096.1 165.6,1085.5 165.9,1090.5 166.2,1097.6 166.5,1092.5 166.8,1094.7 167.1,1090.9 167.4,1088.8 167.7,1096.5 168.0,1086.3 168.3,1089.8 168.6,1086.4 168.9,1095.4 169.2,1097.6 169.5,1094.9 169.8,1087.3 170.1,1090.0 170.4,1092.2 170.7,1095.4 171.0,1091.3 171.3,1095.9 171.6,1094.0 171.9,1089.3 172.2,1094.6 172.5,1089.9 172.8,1086.6 173.1,1097.1 173.4,1090.5 173.7,1093.7 174.0,1091.7 174.3,1094.7 174.6,1089.5 174.9,1101.5 175.2,1087.1 175.5,1097.3 175.8,1092.3 176.1,1081.7 176.4,1097.0 176.7,1093.1 177.0,1087.5 177.3,1096.1 177.6,1099.9 177.9,1098.0 178.2,1098.9 178.5,1093.2 178.8,1096.2 179.1,1084.2 179.4,1093.7 179.7,1094.5 180.0,1099.9 180.3,1098.0 180.6,1091.8 180.9,1094.5 181.2,1096.6 181.5,1094.1 181.8,1094.3 182.1,1091.8 182.4,1085.6 182.7,1094.7 183.0,1082.6 183.3,1093.5 183.6,1106.0 183.9,1102.3 184.2,1086.8 184.5,1087.3 184.8,1099.6 185.1,1092.4 185.4,1090.9 185.7,1085.4 186.0,1090.5 186.3,1089.1 186.6,1094.6 186.9,1095.6 187.2,1100.1 187.5,1087.0 187.8,1097.2 188.1,1092.1 188.4,1094.8 188.7,1091.6 189.0,1096.2 189.3,1094.1 189.6,1091.6 189.9,1103.3 190.2,1093.5 190.5,1090.7 190.8,1094.8 191.1,1096.4 191.4,1090.5 191.7,1096.8 192.0,1089.7 192.3,1088.1 192.6,1092.4 192.9,1096.3 193.2,1096.6 193.5,1091.6 193.8,1094.7 194.1,1089.1 194.4,1093.5 194.7,1087.2 195.0,1093.0 195.3,1092.2 195.6,1093.7 195.9,1087.7 196.2,1094.4 196.5,1098.7 196.8,1090.7 197.1,1091.6 197.4,1090.1 197.7,1096.2 198.0,1100.8 198.3,1090.8 198.6,1092.0 198.9,1089.4 199.2,1086.1 199.5,1091.6 199.8,1096.3 200.1,1087.5 200.4,1094.9 200.7,1092.5 201.0,1094.1 201.3,1098.1 201.6,1101.1 201.9,1092.5 202.2,1096.3 202.5,1089.7 202.8,1085.8 203.1,1091.5 203.4,1094.7 203.7,1097.5 204.0,1087.0 204.3,1099.2 204.6,1088.8 204.9,1091.9 205.2,1085.1 205.5,1095.3 205.8,1100.5 206.1,1093.7 206.4,1083.9 206.7,1092.5 207.0,1097.8 207.3,1091.0 207.6,1085.9 207.9,1088.1 208.2,1098.1 208.5,1096.2 208.8,1090.4 209.1,1100.7 209.4,1098.8 209.7,1098.9 210.0,1098.2 210.3,1089.2 210.6,1091.8 210.9,1091.3 211.2,1088.0 211.5,1092.0 211.8,1092.9 212.1,1086.1 212.4,1090.1 212.7,1095.7 213.0,1089.0 213.3,1091.0 213.6,1095.2 213.9,1095.8 214.2,1088.7 214.5,1107.8 214.8,1090.6 215.1,1097.0 215.4,1082.2 215.7,1094.7 216.0,1088.6 216.3,1090.5 216.6,1093.0 216.9,1091.3 217.2,1097.5 217.5,1088.9 217.8,1092.2 218.1,1093.9 218.4,1090.7 218.7,1097.5 219.0,1091.3 219.3,1086.2 219.6,1088.0 219.9,1094.3 220.2,1091.5 220.5,1090.9 220.8,1089.2 221.1,1091.9 221.4,1097.2 221.7,1092.3 222.0,1098.8 222.3,1091.7 222.6,1090.4 222.9,1096.4 223.2,1090.9 223.5,1091.3 223.8,1096.4 224.1,1097.4 224.4,1086.7 224.7,1089.3 225.0,1094.2 225.3,1099.5 225.6,1090.3 225.9,1093.4 226.2,1095.3 226.5,1089.2 226.8,1092.5 227.1,1094.1 227.4,1096.5 227.7,1087.5 228.0,1099.6 228.3,1096.4 228.6,1092.5 228.9,1095.1 229.2,1090.4 229.5,1095.3 229.8,1087.2 230.1,1095.6 230.4,1097.2 230.7,1090.7 231.0,1095.9 231.3,1087.6 231.6,1096.7 231.9,1086.4 232.2,1094.1 232.5,1097.9 232.8,1091.6 233.1,1089.4 233.4,1087.3 233.7,1098.5 234.0,1086.1 234.3,1087.0 234.6,1095.6 234.9,1099.5 235.2,1094.5 235.5,1092.1 235.8,1100.2 236.1,1089.0 236.4,1094.8 236.7,1095.9 237.0,1094.3 237.3,1093.6 237.6,1093.6 237.9,1089.5 238.2,1085.8 238.5,1090.2 238.8,1093.5 239.1,1085.3 239.4,1096.1 239.7,1087.4 240.0,1089.9 240.3,1089.1 240.6,1090.6 240.9,1094.2 241.2,1093.9 241.5,1087.4 241.8,1082.6 242.1,1092.9 242.4,1085.4 242.7,1092.6 243.0,1097.9 243.3,1095.2 243.6,1091.5 243.9,1085.1 244.2,1091.6 244.5,1090.7 244.8,1087.7 245.1,1092.7 245.4,1092.6 245.7,1095.6 246.0,1085.9 246.3,1089.4 246.6,1091.0 246.9,1088.1 247.2,1085.8 247.5,1088.3 247.8,1092.7 248.1,1091.8 248.4,1087.9 248.7,1093.1 249.0,1089.9 249.3,1086.7 249.6,1090.6 249.9,1096.4 250.2,1095.3 250.5,1093.2 250.8,1085.0 251.1,1092.3 251.4,1099.6 251.7,1089.3 252.0,1093.5 252.3,1089.5 252.6,1097.7 252.9,1096.7 253.2,1095.7 253.5,1096.0 253.8,1096.9 254.1,1091.1 254.4,1089.3 254.7,1080.6 255.0,1095.5 255.3,1099.0 255.6,1090.7 255.9,1094.1 256.2,1089.3 256.5,1096.8 256.8,1098.7 257.1,1093.8 257.4,1093.6 257.7,1086.5 258.0,1091.5 258.3,1098.8 258.6,1086.0 258.9,1091.4 259.2,1090.1 259.5,1097.5 259.8,1088.3 260.1,1088.3 260.4,1095.8 260.7,1099.4 261.0,1088.2 261.3,1080.0 261.6,1087.3 261.9,1092.8 262.2,1098.0 262.5,1087.8 262.8,1089.0 263.1,1095.8 263.4,1091.0 263.7,1085.9 264.0,1092.5 264.3,1092.0 264.6,1093.4 264.9,1087.2 265.2,1096.4 265.5,1093.9 265.8,1093.7 266.1,1091.3 266.4,1091.4 266.7,1098.9 267.0,1088.8 267.3,1095.8 267.6,1085.4 267.9,1088.2 268.2,1082.0 268.5,1088.5 268.8,1088.3 269.1,1086.0 269.4,1091.7 269.7,1090.5 270.0,1096.4 270.3,1090.3 270.6,1089.1 270.9,1088.0 271.2,1092.6 271.5,1093.5 271.8,1090.7 272.1,1091.7 272.4,1090.8 272.7,1091.8 273.0,1100.4 273.3,1097.7 273.6,1099.0 273.9,1087.5 274.2,1090.1 274.5,1098.9 274.8,1093.7 275.1,1092.1 275.4,1096.7 275.7,1100.0 276.0,1084.1 276.3,1094.4 276.6,1088.2 276.9,1086.8 277.2,1091.9 277.5,1091.0 277.8,1098.6 278.1,1090.3 278.4,1090.8 278.7,1095.2 279.0,1092.7 279.3,1090.4 279.6,1100.8 279.9,1087.8 280.2,1084.9 280.5,1096.4 280.8,1084.2 281.1,1098.5 281.4,1087.7 281.7,1091.9 282.0,1097.9 282.3,1091.9 282.6,1091.7 282.9,1099.2 283.2,1095.4 283.5,1085.2 283.8,1093.2 284.1,1091.1 284.4,1087.9 284.7,1099.2 285.0,1089.6 285.3,1096.5 285.6,1095.7 285.9,1095.2 286.2,1098.1 286.5,1097.6 286.8,1098.0 287.1,1095.3 287.4,1095.2 287.7,1094.1 288.0,1091.8 288.3,1091.6 288.6,1094.4 288.9,1092.6 289.2,1090.6 289.5,1097.9 289.8,1093.0 290.1,1089.7 290.4,1087.4 290.7,1101.9 291.0,1089.8 291.3,1095.4 291.6,1094.8 291.9,1095.5 292.2,1087.5 292.5,1100.0 292.8,1094.0 293.1,1098.2 293.4,1086.4 293.7,1097.1 294.0,1093.4 294.3,1096.3 294.6,1095.8 294.9,1089.0 295.2,1095.7 295.5,1087.2 295.8,1094.5 296.1,1084.3 296.4,1090.1 296.7,1087.1 297.0,1088.5 297.3,1092.8 297.6,1094.1 297.9,1088.2 298.2,1092.0 298.5,1103.9 298.8,1098.5 299.1,1088.6 299.4,1090.5 299.7,1088.4 300.0,1094.0 300.3,1096.0 300.6,1091.3 300.9,1090.4 301.2,1102.1 301.5,1098.7 301.8,1094.1 302.1,1089.0 302.4,1091.2 302.7,1084.3 303.0,1083.5 303.3,1088.3 303.6,1088.7 303.9,1086.1 304.2,1089.6 304.5,1087.1 304.8,1084.8 305.1,1095.8 305.4,1090.3 305.7,1094.3 306.0,1087.5 306.3,1095.9 306.6,1090.0 306.9,1081.0 307.2,1096.4 307.5,1099.1 307.8,1091.7 308.1,1089.9 308.4,1099.5 308.7,1087.3 309.0,1086.1 309.3,1087.7 309.6,1096.6 309.9,1090.0 310.2,1092.3 310.5,1084.6 310.8,1091.0 311.1,1085.3 311.4,1096.7 311.7,1093.3 312.0,1095.8 312.3,1095.2 312.6,1087.9 312.9,1089.2 313.2,1093.1 313.5,1089.5 313.8,1098.0 314.1,1093.4 314.4,1089.8 314.7,1092.8 315.0,1090.8 315.3,1100.1 315.6,1088.9 315.9,1084.1 316.2,1087.7 316.5,1097.9 316.8,1100.4 317.1,1085.0 317.4,1096.3 317.7,1090.7 318.0,1087.3 318.3,1090.3 318.6,1094.5 318.9,1093.9 319.2,1088.5 319.5,1087.8 319.8,1095.6 320.1,1100.7 320.4,1087.6 320.7,1096.0 321.0,1089.6 321.3,1095.4 321.6,1098.1 321.9,1097.2 322.2,1087.6 322.5,1090.4 322.8,1091.8 323.1,1095.4 323.4,1087.4 323.7,1090.4 324.0,1085.4 324.3,1095.0 324.6,1096.8 324.9,1094.5 325.2,1089.7 325.5,1097.9 325.8,1102.3 326.1,1091.7 326.4,1088.5 326.7,1093.2 327.0,1092.9 327.3,1089.2 327.6,1095.8 327.9,1093.0 328.2,1092.4 328.5,1090.3 328.8,1087.1 329.1,1096.5 329.4,1086.4 329.7,1084.6 330.0,1079.8 330.3,1089.5 330.6,1096.0 330.9,1087.1 331.2,1099.1 331.5,1096.8 331.8,1093.1 332.1,1094.0 332.4,1091.6 332.7,1086.8 333.0,1091.4 333.3,1097.1 333.6,1091.5 333.9,1091.7 334.2,1093.4 334.5,1093.9 334.8,1085.0 335.1,1086.5 335.4,1080.7 335.7,1088.5 336.0,1094.6 336.3,1087.1 336.6,1088.6 336.9,1087.2 337.2,1091.2 337.5,1095.7 337.8,1090.5 338.1,1086.8 338.4,1088.2 338.7,1094.4 339.0,1099.8 339.3,1099.8 339.6,1094.8 339.9,1094.7 340.2,1083.0 340.5,1089.4 340.8,1096.6 341.1,1085.3 341.4,1093.1 341.7,1085.2 342.0,1094.6 342.3,1092.7 342.6,1092.6 342.9,1086.1 343.2,1085.8 343.5,1087.9 343.8,1087.0 344.1,1089.2 344.4,1086.0 344.7,1083.4 345.0,1093.4 345.3,1096.5 345.6,1098.1 345.9,1093.7 346.2,1094.2 346.5,1103.0 346.8,1096.7 347.1,1086.8 347.4,1085.3 347.7,1096.2 348.0,1090.2 348.3,1095.4 348.6,1094.1 348.9,1097.3 349.2,1082.6 349.5,1094.6 349.8,1095.1 350.1,1086.9 350.4,1090.2 350.7,1085.5 351.0,1093.4 351.3,1093.6 351.6,1092.1 351.9,1095.9 352.2,1079.9 352.5,1095.7 352.8,1089.9 353.1,1087.6 353.4,1093.0 353.7,1089.3 354.0,1092.5 354.3,1089.4 354.6,1094.3 354.9,1095.9 355.2,1095.4 355.5,1088.9 355.8,1080.7 356.1,1092.8 356.4,1090.2 356.7,1094.3 357.0,1095.0 357.3,1091.3 357.6,1090.2 357.9,1092.0 358.2,1094.6 358.5,1086.4 358.8,1089.7 359.1,1087.1 359.4,1096.4 359.7,1086.7 360.0,1088.1 360.3,1092.7 360.6,1096.3 360.9,1091.2 361.2,1094.1 361.5,1087.2 361.8,1090.8 362.1,1097.3 362.4,1091.1 362.7,1095.2 363.0,1096.4 363.3,1095.7 363.6,1094.1 363.9,1097.3 364.2,1096.7 364.5,1091.3 364.8,1104.3 365.1,1089.1 365.4,1090.1 365.7,1093.6 366.0,1091.8 366.3,1086.6 366.6,1089.9 366.9,1084.8 367.2,1090.4 367.5,1086.9 367.8,1094.5 368.1,1094.7 368.4,1092.5 368.7,1087.8 369.0,1091.5 369.3,1092.1 369.6,1092.2 369.9,1096.2 370.2,1090.1 370.5,1093.5 370.8,1090.5 371.1,1088.9 371.4,1086.9 371.7,1087.7 372.0,1092.0 372.3,1087.1 372.6,1088.4 372.9,1094.8 373.2,1083.9 373.5,1090.3 373.8,1096.9 374.1,1091.2 374.4,1091.9 374.7,1092.7 375.0,1086.9 375.3,1087.8 375.6,1096.8 375.9,1094.8 376.2,1083.2 376.5,1094.1 376.8,1103.5 377.1,1089.7 377.4,1090.7 377.7,1090.8 378.0,1089.6 378.3,1087.4 378.6,1090.0 378.9,1100.9 379.2,1095.6 379.5,1092.6 379.8,1093.9 380.1,1096.0 380.4,1091.4 380.7,1088.1 381.0,1092.5 381.3,1089.0 381.6,1097.9 381.9,1099.3 382.2,1087.4 382.5,1096.0 382.8,1090.5 383.1,1090.8 383.4,1086.3 383.7,1088.7 384.0,1089.5 384.3,1096.4 384.6,1086.0 384.9,1095.3 385.2,1090.5 385.5,1087.8 385.8,1086.1 386.1,1089.0 386.4,1087.8 386.7,1082.2 387.0,1101.0 387.3,1087.0 387.6,1091.0 387.9,1082.9 388.2,1095.9 388.5,1086.6 388.8,1092.3 389.1,1086.0 389.4,1094.1 389.7,1087.0 390.0,1098.4 390.3,1093.4 390.6,1085.2 390.9,1095.1 391.2,1087.1 391.5,1094.5 391.8,1091.7 392.1,1092.7 392.4,1084.4 392.7,1089.7 393.0,1101.6 393.3,1094.8 393.6,1087.6 393.9,1092.0 394.2,1101.7 394.5,1086.9 394.8,1092.7 395.1,1096.0 395.4,1088.5 395.7,1089.8 396.0,1094.3 396.3,1085.7 396.6,1086.9 396.9,1086.1 397.2,1087.6 397.5,1083.9 397.8,1094.7 398.1,1095.6 398.4,1095.7 398.7,1093.7 399.0,1092.8 399.3,1095.3 399.6,1090.3 399.9,1093.2 400.2,1101.9 400.5,1094.2 400.8,1094.7 401.1,1085.2 401.4,1096.9 401.7,1094.7 402.0,1092.8 402.3,1087.2 402.6,1090.1 402.9,1087.4 403.2,1082.5 403.5,1082.6 403.8,1098.2 404.1,1084.7 404.4,1089.2 404.7,1087.0 405.0,1080.9 405.3,1085.5 405.6,1090.7 405.9,1095.3 406.2,1092.8 406.5,1082.5 406.8,1086.5 407.1,1091.5 407.4,1089.5 407.7,1087.4 408.0,1080.8 408.3,1088.0 408.6,1089.5 408.9,1090.3 409.2,1085.3 409.5,1086.2 409.8,1095.3 410.1,1082.0 410.4,1097.1 410.7,1083.4 411.0,1080.2 411.3,1093.0 411.6,1092.0 411.9,1088.0 412.2,1087.9 412.5,1088.0 412.8,1080.8 413.1,1083.0 413.4,1089.0 413.7,1082.1 414.0,1079.6 414.3,1084.0 414.6,1081.5 414.9,1082.0 415.2,1079.9 415.5,1088.7 415.8,1080.6 416.1,1077.1 416.4,1088.2 416.7,1081.8 417.0,1075.3 417.3,1088.2 417.6,1079.9 417.9,1071.7 418.2,1075.8 418.5,1079.3 418.8,1068.5 419.1,1080.1 419.4,1076.5 419.7,1069.4 420.0,1074.7 420.3,1075.6 420.6,1074.6 420.9,1077.5 421.2,1074.0 421.5,1065.2 421.8,1066.6 422.1,1067.5 422.4,1077.1 422.7,1064.8 423.0,1063.3 423.3,1072.6 423.6,1062.7 423.9,1088.1 424.2,1065.1 424.5,1067.1 424.8,1059.9 425.1,1058.3 425.4,1065.7 425.7,1062.0 426.0,1066.5 426.3,1056.4 426.6,1061.0 426.9,1071.0 427.2,1055.8 427.5,1068.2 427.8,1054.9 428.1,1063.7 428.4,1058.8 428.7,1053.6 429.0,1050.3 429.3,1044.4 429.6,1045.8 429.9,1044.0 430.2,1057.4 430.5,1053.8 430.8,1043.9 431.1,1051.8 431.4,1055.3 431.7,1047.8 432.0,1052.8 432.3,1039.3 432.6,1046.0 432.9,1041.8 433.2,1029.8 433.5,1047.1 433.8,1038.3 434.1,1041.7 434.4,1038.8 434.7,1046.3 435.0,1050.7 435.3,1051.6 435.6,1042.2 435.9,1039.6 436.2,1038.7 436.5,1048.9 436.8,1054.7 437.1,1054.6 437.4,1052.7 437.7,1034.1 438.0,1040.2 438.3,1047.6 438.6,1045.6 438.9,1052.4 439.2,1045.1 439.5,1055.8 439.8,1050.2 440.1,1053.3 440.4,1059.9 440.7,1064.9 441.0,1053.5 441.3,1054.9 441.6,1067.2 441.9,1052.3 442.2,1075.1 442.5,1066.6 442.8,1068.6 443.1,1062.8 443.4,1075.9 443.7,1072.3 444.0,1069.8 444.3,1073.1 444.6,1074.2 444.9,1072.6 445.2,1073.1 445.5,1077.2 445.8,1085.8 446.1,1086.7 446.4,1077.1 446.7,1075.6 447.0,1085.0 447.3,1086.9 447.6,1086.3 447.9,1086.7 448.2,1088.6 448.5,1080.7 448.8,1078.4 449.1,1081.3 449.4,1084.4 449.7,1082.9 450.0,1092.8 450.3,1083.9 450.6,1088.7 450.9,1086.6 451.2,1085.4 451.5,1079.8 451.8,1084.1 452.1,1089.5 452.4,1087.2 452.7,1090.7 453.0,1089.9 453.3,1085.7 453.6,1085.6 453.9,1080.9 454.2,1084.0 454.5,1092.5 454.8,1096.1 455.1,1100.1 455.4,1081.6 455.7,1083.7 456.0,1090.4 456.3,1086.8 456.6,1082.6 456.9,1094.8 457.2,1093.5 457.5,1084.2 457.8,1084.5 458.1,1094.1 458.4,1090.3 458.7,1089.2 459.0,1094.4 459.3,1097.0 459.6,1083.6 459.9,1097.5 460.2,1099.2 460.5,1091.0 460.8,1095.9 461.1,1095.0 461.4,1087.2 461.7,1092.1 462.0,1090.3 462.3,1099.7 462.6,1090.0 462.9,1093.2 463.2,1095.8 463.5,1080.0 463.8,1089.5 464.1,1082.8 464.4,1090.0 464.7,1088.0 465.0,1098.2 465.3,1086.0 465.6,1084.7 465.9,1086.7 466.2,1091.3 466.5,1087.8 466.8,1088.7 467.1,1093.2 467.4,1092.4 467.7,1084.2 468.0,1090.2 468.3,1090.4 468.6,1092.6 468.9,1088.4 469.2,1081.7 469.5,1092.5 469.8,1091.9 470.1,1089.3 470.4,1080.9 470.7,1092.2 471.0,1090.7 471.3,1083.8 471.6,1095.3 471.9,1093.3 472.2,1093.0 472.5,1092.1 472.8,1084.7 473.1,1093.4 473.4,1080.8 473.7,1086.9 474.0,1097.9 474.3,1086.4 474.6,1085.6 474.9,1095.0 475.2,1090.3 475.5,1092.4 475.8,1102.8 476.1,1086.7 476.4,1103.1 476.7,1090.7 477.0,1095.3 477.3,1092.1 477.6,1096.6 477.9,1083.2 478.2,1087.4 478.5,1091.8 478.8,1101.9 479.1,1087.2 479.4,1087.8 479.7,1093.6 480.0,1088.0 480.3,1100.1 480.6,1083.4 480.9,1093.8 481.2,1097.7 481.5,1092.8 481.8,1092.9 482.1,1094.5 482.4,1084.1 482.7,1086.1 483.0,1082.3 483.3,1085.2 483.6,1092.3 483.9,1085.3 484.2,1086.8 484.5,1096.4 484.8,1093.3 485.1,1092.1 485.4,1089.2 485.7,1088.4 486.0,1085.0 486.3,1094.5 486.6,1084.4 486.9,1081.5 487.2,1095.8 487.5,1080.8 487.8,1087.2 488.1,1100.2 488.4,1099.6 488.7,1081.6 489.0,1082.3 489.3,1087.3 489.6,1088.3 489.9,1098.1 490.2,1089.3 490.5,1090.9 490.8,1086.6 491.1,1090.2 491.4,1093.0 491.7,1090.6 492.0,1091.0 492.3,1097.7 492.6,1087.5 492.9,1090.1 493.2,1090.4 493.5,1092.6 493.8,1086.0 494.1,1076.6 494.4,1094.1 494.7,1096.5 495.0,1087.8 495.3,1079.7 495.6,1090.4 495.9,1094.7 496.2,1086.2 496.5,1089.3 496.8,1096.9 497.1,1092.8 497.4,1084.5 497.7,1092.9 498.0,1093.7 498.3,1099.8 498.6,1099.2 498.9,1094.7 499.2,1082.7 499.5,1085.7 499.8,1079.4 500.1,1091.4 500.4,1089.3 500.7,1093.7 501.0,1089.0 501.3,1089.3 501.6,1078.5 501.9,1087.5 502.2,1096.1 502.5,1089.4 502.8,1084.6 503.1,1096.2 503.4,1094.0 503.7,1094.5 504.0,1081.7 504.3,1089.1 504.6,1090.1 504.9,1087.5 505.2,1094.0 505.5,1091.7 505.8,1086.8 506.1,1088.3 506.4,1094.2 506.7,1090.6 507.0,1094.9 507.3,1091.4 507.6,1089.2 507.9,1082.3 508.2,1097.9 508.5,1091.7 508.8,1090.2 509.1,1096.6 509.4,1100.6 509.7,1096.3 510.0,1091.9 510.3,1096.0 510.6,1097.9 510.9,1086.1 511.2,1087.5 511.5,1086.6 511.8,1091.1 512.1,1092.2 512.4,1093.2 512.7,1094.3 513.0,1097.1 513.3,1094.0 513.6,1092.6 513.9,1097.0 514.2,1097.3 514.5,1085.2 514.8,1087.5 515.1,1086.3 515.4,1092.0 515.7,1092.2 516.0,1091.6 516.3,1090.6 516.6,1088.5 516.9,1083.5 517.2,1093.1 517.5,1098.1 517.8,1093.6 518.1,1090.4 518.4,1093.9 518.7,1091.9 519.0,1090.1 519.3,1079.2 519.6,1090.7 519.9,1081.2 520.2,1091.5 520.5,1091.1 520.8,1099.0 521.1,1095.3 521.4,1090.3 521.7,1082.4 522.0,1088.6 522.3,1088.2 522.6,1094.6 522.9,1089.8 523.2,1093.7 523.5,1097.2 523.8,1088.8 524.1,1086.6 524.4,1082.6 524.7,1092.9 525.0,1089.0 525.3,1083.2 525.6,1092.1 525.9,1094.2 526.2,1083.9 526.5,1084.2 526.8,1087.9 527.1,1092.8 527.4,1089.5 527.7,1095.3 528.0,1083.3 528.3,1088.0 528.6,1081.8 528.9,1084.4 529.2,1081.6 529.5,1091.5 529.8,1087.9 530.1,1089.9 530.4,1089.3 530.7,1078.8 531.0,1080.7 531.3,1087.4 531.6,1086.8 531.9,1090.5 532.2,1092.5 532.5,1089.7 532.8,1086.4 533.1,1080.3 533.4,1083.3 533.7,1093.2 534.0,1081.2 534.3,1093.3 534.6,1082.6 534.9,1086.3 535.2,1082.4 535.5,1083.1 535.8,1081.3 536.1,1093.3 536.4,1086.2 536.7,1094.6 537.0,1091.5 537.3,1089.4 537.6,1092.6 537.9,1084.4 538.2,1085.2 538.5,1091.6 538.8,1087.2 539.1,1078.5 539.4,1092.0 539.7,1086.8 540.0,1094.6 540.3,1094.1 540.6,1085.9 540.9,1094.7 541.2,1085.2 541.5,1082.8 541.8,1087.9 542.1,1087.6 542.4,1078.0 542.7,1084.9 543.0,1086.5 543.3,1083.0 543.6,1083.5 543.9,1093.4 544.2,1082.5 544.5,1086.7 544.8,1086.8 545.1,1090.0 545.4,1085.6 545.7,1082.1 546.0,1092.8 546.3,1081.3 546.6,1085.6 546.9,1079.3 547.2,1075.8 547.5,1091.4 547.8,1093.6 548.1,1083.7 548.4,1087.0 548.7,1089.6 549.0,1087.8 549.3,1086.8 549.6,1080.5 549.9,1091.2 550.2,1085.2 550.5,1083.7 550.8,1083.6 551.1,1083.3 551.4,1091.2 551.7,1082.6 552.0,1083.1 552.3,1090.5 552.6,1089.0 552.9,1084.7 553.2,1082.0 553.5,1079.4 553.8,1086.2 554.1,1082.3 554.4,1088.8 554.7,1089.4 555.0,1076.2 555.3,1074.9 555.6,1086.9 555.9,1088.6 556.2,1088.1 556.5,1076.6 556.8,1085.3 557.1,1082.5 557.4,1077.4 557.7,1079.6 558.0,1087.6 558.3,1088.8 558.6,1082.9 558.9,1077.7 559.2,1081.4 559.5,1076.2 559.8,1079.8 560.1,1088.8 560.4,1073.8 560.7,1094.5 561.0,1088.4 561.3,1085.2 561.6,1084.4 561.9,1080.5 562.2,1078.9 562.5,1084.7 562.8,1084.7 563.1,1075.6 563.4,1076.5 563.7,1079.5 564.0,1078.2 564.3,1076.6 564.6,1078.0 564.9,1073.9 565.2,1073.8 565.5,1077.2 565.8,1074.1 566.1,1082.8 566.4,1086.2 566.7,1073.7 567.0,1073.4 567.3,1075.1 567.6,1063.1 567.9,1072.9 568.2,1078.5 568.5,1071.3 568.8,1072.3 569.1,1071.2 569.4,1064.8 569.7,1073.1 570.0,1072.0 570.3,1071.2 570.6,1078.0 570.9,1067.8 571.2,1068.4 571.5,1062.5 571.8,1054.4 572.1,1066.0 572.4,1054.1 572.7,1061.1 573.0,1071.5 573.3,1055.3 573.6,1066.7 573.9,1066.6 574.2,1072.4 574.5,1063.4 574.8,1053.3 575.1,1053.6 575.4,1056.0 575.7,1047.8 576.0,1062.6 576.3,1040.3 576.6,1056.1 576.9,1062.6 577.2,1050.2 577.5,1050.5 577.8,1038.0 578.1,1043.1 578.4,1051.1 578.7,1046.4 579.0,1047.7 579.3,1033.2 579.6,1033.6 579.9,1025.1 580.2,1044.7 580.5,1035.3 580.8,1035.5 581.1,1019.4 581.4,1008.4 581.7,1021.0 582.0,1028.8 582.3,1026.8 582.6,1003.0 582.9,1017.5 583.2,1015.0 583.5,1000.2 583.8,991.6 584.1,1004.7 584.4,997.1 584.7,999.2 585.0,984.2 585.3,986.7 585.6,981.0 585.9,969.6 586.2,979.8 586.5,981.7 586.8,974.1 587.1,967.7 587.4,954.2 587.7,979.7 588.0,949.5 588.3,947.9 588.6,955.0 588.9,966.8 589.2,948.7 589.5,942.1 589.8,929.7 590.1,940.7 590.4,960.4 590.7,936.6 591.0,933.8 591.3,927.2 591.6,931.1 591.9,933.3 592.2,932.6 592.5,936.2 592.8,920.3 593.1,932.7 593.4,912.6 593.7,898.3 594.0,911.3 594.3,920.6 594.6,928.0 594.9,919.9 595.2,933.5 595.5,919.2 595.8,928.1 596.1,914.9 596.4,921.9 596.7,922.6 597.0,919.4 597.3,942.7 597.6,927.2 597.9,947.6 598.2,945.2 598.5,952.5 598.8,929.1 599.1,919.1 599.4,951.4 599.7,942.7 600.0,965.3 600.3,970.5 600.6,960.8 600.9,968.6 601.2,959.8 601.5,964.9 601.8,974.1 602.1,971.2 602.4,973.9 602.7,984.9 603.0,992.7 603.3,1002.8 603.6,1005.0 603.9,990.3 604.2,988.4 604.5,998.7 604.8,996.2 605.1,1006.0 605.4,1022.1 605.7,1025.9 606.0,1008.3 606.3,1012.7 606.6,1012.0 606.9,1005.2 607.2,1018.2 607.5,1023.4 607.8,1029.2 608.1,1020.7 608.4,1028.3 608.7,1030.7 609.0,1031.3 609.3,1024.8 609.6,1048.4 609.9,1027.9 610.2,1043.0 610.5,1048.4 610.8,1036.9 611.1,1053.1 611.4,1050.1 611.7,1044.7 612.0,1050.6 612.3,1058.1 612.6,1043.5 612.9,1046.0 613.2,1050.0 613.5,1059.0 613.8,1048.8 614.1,1054.8 614.4,1054.9 614.7,1072.9 615.0,1063.7 615.3,1068.2 615.6,1055.7 615.9,1061.3 616.2,1054.8 616.5,1067.1 616.8,1064.7 617.1,1066.3 617.4,1070.7 617.7,1069.1 618.0,1077.5 618.3,1070.1 618.6,1055.3 618.9,1070.4 619.2,1070.8 619.5,1064.6 619.8,1069.3 620.1,1070.0 620.4,1068.6 620.7,1075.9 621.0,1076.2 621.3,1071.8 621.6,1068.9 621.9,1078.6 622.2,1080.6 622.5,1075.1 622.8,1071.1 623.1,1070.9 623.4,1083.0 623.7,1069.6 624.0,1077.1 624.3,1078.0 624.6,1082.0 624.9,1078.3 625.2,1078.9 625.5,1071.5 625.8,1069.7 626.1,1080.3 626.4,1076.5 626.7,1075.0 627.0,1073.1 627.3,1086.9 627.6,1081.2 627.9,1083.2 628.2,1076.8 628.5,1093.6 628.8,1075.7 629.1,1084.2 629.4,1086.0 629.7,1079.6 630.0,1081.7 630.3,1075.6 630.6,1084.2 630.9,1067.7 631.2,1085.0 631.5,1088.9 631.8,1081.8 632.1,1083.7 632.4,1078.1 632.7,1093.6 633.0,1092.9 633.3,1084.8 633.6,1089.4 633.9,1084.1 634.2,1076.7 634.5,1086.3 634.8,1076.3 635.1,1089.7 635.4,1094.1 635.7,1079.7 636.0,1080.7 636.3,1087.4 636.6,1090.3 636.9,1075.3 637.2,1091.2 637.5,1088.2 637.8,1087.3 638.1,1095.1 638.4,1089.7 638.7,1088.0 639.0,1087.6 639.3,1080.5 639.6,1086.7 639.9,1086.2 640.2,1087.8 640.5,1085.5 640.8,1092.9 641.1,1088.6 641.4,1094.8 641.7,1091.8 642.0,1085.0 642.3,1085.6 642.6,1083.0 642.9,1082.3 643.2,1085.3 643.5,1087.7 643.8,1098.8 644.1,1077.2 644.4,1098.7 644.7,1091.9 645.0,1082.6 645.3,1094.5 645.6,1085.3 645.9,1092.0 646.2,1085.3 646.5,1089.2 646.8,1091.5 647.1,1091.2 647.4,1096.4 647.7,1090.5 648.0,1081.6 648.3,1088.7 648.6,1086.1 648.9,1093.3 649.2,1093.2 649.5,1085.0 649.8,1093.2 650.1,1088.7 650.4,1090.4 650.7,1077.7 651.0,1094.3 651.3,1084.1 651.6,1090.1 651.9,1097.5 652.2,1085.7 652.5,1084.9 652.8,1083.4 653.1,1086.7 653.4,1094.2 653.7,1088.9 654.0,1091.9 654.3,1091.8 654.6,1087.4 654.9,1095.6 655.2,1083.6 655.5,1080.2 655.8,1089.0 656.1,1082.8 656.4,1080.7 656.7,1086.6 657.0,1083.0 657.3,1083.7 657.6,1088.3 657.9,1089.9 658.2,1098.6 658.5,1095.1 658.8,1093.7 659.1,1100.8 659.4,1093.5 659.7,1092.5 660.0,1088.2 660.3,1081.8 660.6,1083.0 660.9,1095.1 661.2,1088.1 661.5,1100.9 661.8,1095.1 662.1,1094.0 662.4,1085.5 662.7,1092.5 663.0,1090.5 663.3,1095.6 663.6,1086.9 663.9,1095.1 664.2,1083.2 664.5,1084.0 664.8,1088.0 665.1,1085.5 665.4,1089.2 665.7,1087.5 666.0,1087.8 666.3,1095.0 666.6,1095.6 666.9,1094.2 667.2,1085.3 667.5,1089.3 667.8,1089.9 668.1,1097.4 668.4,1098.1 668.7,1091.0 669.0,1097.8 669.3,1091.2 669.6,1098.6 669.9,1093.5 670.2,1087.9 670.5,1094.3 670.8,1096.9 671.1,1088.4 671.4,1094.6 671.7,1090.5 672.0,1092.9 672.3,1092.0 672.6,1089.3 672.9,1095.7 673.2,1097.6 673.5,1095.6 673.8,1091.3 674.1,1096.9 674.4,1087.5 674.7,1094.3 675.0,1092.3 675.3,1099.2 675.6,1087.2 675.9,1093.6 676.2,1090.9 676.5,1092.7 676.8,1091.2 677.1,1098.4 677.4,1099.2 677.7,1096.0 678.0,1090.5 678.3,1097.9 678.6,1101.0 678.9,1098.8 679.2,1091.2 679.5,1089.4 679.8,1097.7 680.1,1091.9 680.4,1090.3 680.7,1089.0 681.0,1096.3 681.3,1093.9 681.6,1098.3 681.9,1102.2 682.2,1091.0 682.5,1094.7 682.8,1094.7 683.1,1094.4 683.4,1094.6 683.7,1088.7 684.0,1101.3 684.3,1093.3 684.6,1099.8 684.9,1084.7 685.2,1089.5 685.5,1096.8 685.8,1088.3 686.1,1094.9 686.4,1092.8 686.7,1089.8 687.0,1103.0 687.3,1096.3 687.6,1087.5 687.9,1095.0 688.2,1088.7 688.5,1092.7 688.8,1088.4 689.1,1088.4 689.4,1088.6 689.7,1090.5 690.0,1098.4 690.3,1098.5 690.6,1095.3 690.9,1087.1 691.2,1101.2 691.5,1098.3 691.8,1090.7 692.1,1103.8 692.4,1080.7 692.7,1095.0 693.0,1089.6 693.3,1095.3 693.6,1091.3 693.9,1090.0 694.2,1099.7 694.5,1092.3 694.8,1092.4 695.1,1097.0 695.4,1095.2 695.7,1095.8 696.0,1102.8 696.3,1100.2 696.6,1097.1 696.9,1096.5 697.2,1088.3 697.5,1093.8 697.8,1086.1 698.1,1094.3 698.4,1088.5 698.7,1095.0 699.0,1096.5 699.3,1095.5 699.6,1086.6 699.9,1086.4 700.2,1089.6 700.5,1092.6 700.8,1090.5 701.1,1091.2 701.4,1105.0 701.7,1094.3 702.0,1093.5 702.3,1092.4 702.6,1085.6 702.9,1097.0 703.2,1090.3 703.5,1085.0 703.8,1092.2 704.1,1089.8 704.4,1101.4 704.7,1097.1 705.0,1097.0 705.3,1097.8 705.6,1097.5 705.9,1095.8 706.2,1090.2 706.5,1086.7 706.8,1093.3 707.1,1101.2 707.4,1096.7 707.7,1100.2 708.0,1089.5 708.3,1092.0 708.6,1097.7 708.9,1095.1 709.2,1088.7 709.5,1095.0 709.8,1093.4 710.1,1092.3 710.4,1088.8 710.7,1096.4 711.0,1085.9 711.3,1093.8 711.6,1095.8 711.9,1101.6 712.2,1093.5 712.5,1087.6 712.8,1100.2 713.1,1096.2 713.4,1097.1 713.7,1092.3 714.0,1097.5 714.3,1089.4 714.6,1086.2 714.9,1100.0 715.2,1093.1 715.5,1092.4 715.8,1093.6 716.1,1095.4 716.4,1091.4 716.7,1106.4 717.0,1088.7 717.3,1088.6 717.6,1095.4 717.9,1092.3 718.2,1092.0 718.5,1096.4 718.8,1088.4 719.1,1095.2 719.4,1092.7 719.7,1095.1 720.0,1092.7 720.3,1089.8 720.6,1091.1 720.9,1100.2 721.2,1097.9 721.5,1103.1 721.8,1096.8 722.1,1097.0 722.4,1103.0 722.7,1099.8 723.0,1092.6 723.3,1095.6 723.6,1098.8 723.9,1091.3 724.2,1096.2 724.5,1086.7 724.8,1091.1 725.1,1089.3 725.4,1092.4 725.7,1092.2 726.0,1087.5 726.3,1091.3 726.6,1092.1 726.9,1096.2 727.2,1097.2 727.5,1097.5 727.8,1095.6 728.1,1095.8 728.4,1095.3 728.7,1095.1 729.0,1096.1 729.3,1093.6 729.6,1088.5 729.9,1097.0 730.2,1096.9 730.5,1096.7 730.8,1101.4 731.1,1102.8 731.4,1090.1 731.7,1091.7 732.0,1087.3 732.3,1091.3 732.6,1101.1 732.9,1083.9 733.2,1101.2 733.5,1099.1 733.8,1102.6 734.1,1086.2 734.4,1101.0 734.7,1099.5 735.0,1100.4 735.3,1093.1 735.6,1093.4 735.9,1088.0 736.2,1094.4 736.5,1089.0 736.8,1090.4 737.1,1091.9 737.4,1097.8 737.7,1099.2 738.0,1089.3 738.3,1092.8 738.6,1102.5 738.9,1101.7 739.2,1093.4 739.5,1094.7 739.8,1091.0 740.1,1094.3 740.4,1095.2 740.7,1093.6 741.0,1085.1 741.3,1093.7 741.6,1090.8 741.9,1096.3 742.2,1087.0 742.5,1098.7 742.8,1097.0 743.1,1084.0 743.4,1100.5 743.7,1101.9 744.0,1099.4 744.3,1095.2 744.6,1099.8 744.9,1089.2 745.2,1098.3 745.5,1096.4 745.8,1090.5 746.1,1094.7 746.4,1094.0 746.7,1095.2 747.0,1093.8 747.3,1088.9 747.6,1101.4 747.9,1101.2 748.2,1090.8 748.5,1100.8 748.8,1092.2 749.1,1092.5 749.4,1095.1 749.7,1090.1 750.0,1095.5 750.3,1100.6 750.6,1099.6 750.9,1089.1 751.2,1087.9 751.5,1090.4 751.8,1090.3 752.1,1086.2 752.4,1089.2 752.7,1102.6 753.0,1092.7 753.3,1087.5 753.6,1095.3 753.9,1096.6 754.2,1097.8 754.5,1098.8 754.8,1097.1 755.1,1096.7 755.4,1090.6 755.7,1098.8 756.0,1100.4 756.3,1103.1 756.6,1092.4 756.9,1096.1 757.2,1092.8 757.5,1102.0 757.8,1095.3 758.1,1090.4 758.4,1092.2 758.7,1100.2 759.0,1090.0 759.3,1094.6 759.6,1098.1 759.9,1089.6 760.2,1093.9 760.5,1103.2 760.8,1094.7 761.1,1091.2 761.4,1090.1 761.7,1096.0 762.0,1098.9 762.3,1087.3 762.6,1090.9 762.9,1097.5 763.2,1098.0 763.5,1100.4 763.8,1098.4 764.1,1099.3 764.4,1098.5 764.7,1097.8 765.0,1093.8 765.3,1094.9 765.6,1091.7 765.9,1099.2 766.2,1087.9 766.5,1101.1 766.8,1096.8 767.1,1094.6 767.4,1094.3 767.7,1104.4 768.0,1093.7 768.3,1094.6 768.6,1103.1 768.9,1090.3 769.2,1091.0 769.5,1093.2 769.8,1089.9 770.1,1085.4 770.4,1095.7 770.7,1092.0 771.0,1102.8 771.3,1086.8 771.6,1095.2 771.9,1091.0 772.2,1090.7 772.5,1089.8 772.8,1100.1 773.1,1105.8 773.4,1099.7 773.7,1098.2 774.0,1094.3 774.3,1087.9 774.6,1093.7 774.9,1099.7 775.2,1099.9 775.5,1100.8 775.8,1090.8 776.1,1086.8 776.4,1090.7 776.7,1094.0 777.0,1091.2 777.3,1098.9 777.6,1098.1 777.9,1089.9 778.2,1099.1 778.5,1097.4 778.8,1097.6 779.1,1096.4 779.4,1093.5 779.7,1101.3 780.0,1094.8 780.3,1093.8 780.6,1097.6 780.9,1091.2 781.2,1094.4 781.5,1096.1 781.8,1090.8 782.1,1089.0 782.4,1091.8 782.7,1096.5 783.0,1100.7 783.3,1092.4 783.6,1099.9 783.9,1100.9 784.2,1090.4 784.5,1094.4 784.8,1091.5 785.1,1090.3 785.4,1088.3 785.7,1094.2 786.0,1101.0 786.3,1099.9 786.6,1100.2 786.9,1093.3 787.2,1098.1 787.5,1098.2 787.8,1095.9 788.1,1093.4 788.4,1094.1 788.7,1093.9 789.0,1101.3 789.3,1098.1 789.6,1100.0 789.9,1102.2 790.2,1102.6 790.5,1098.0 790.8,1094.4 791.1,1094.5 791.4,1099.2 791.7,1099.5 792.0,1094.8 792.3,1095.9 792.6,1105.1 792.9,1095.4 793.2,1101.9 793.5,1090.1 793.8,1089.5 794.1,1095.6 794.4,1093.4 794.7,1096.8 795.0,1097.3 795.3,1086.3 795.6,1091.8 795.9,1106.1 796.2,1094.5 796.5,1093.8 796.8,1097.2 797.1,1095.5 797.4,1092.2 797.7,1094.7 798.0,1084.9 798.3,1087.0 798.6,1101.1 798.9,1099.4 799.2,1098.3 799.5,1086.1 799.8,1096.1 800.1,1092.8 800.4,1090.0 800.7,1088.4 801.0,1100.6 801.3,1097.4 801.6,1104.2 801.9,1097.7 802.2,1093.6 802.5,1091.1 802.8,1093.9 803.1,1097.1 803.4,1093.5 803.7,1097.5 804.0,1094.1 804.3,1087.7 804.6,1091.8 804.9,1094.9 805.2,1089.0 805.5,1098.7 805.8,1101.5 806.1,1084.4 806.4,1087.2 806.7,1086.2 807.0,1091.7 807.3,1087.7 807.6,1094.5 807.9,1088.3 808.2,1090.5 808.5,1089.5 808.8,1089.9 809.1,1092.1 809.4,1085.2 809.7,1099.3 810.0,1088.7 810.3,1101.5 810.6,1089.5 810.9,1081.7 811.2,1084.2 811.5,1088.4 811.8,1089.1 812.1,1095.9 812.4,1081.1 812.7,1092.2 813.0,1088.3 813.3,1090.5 813.6,1086.2 813.9,1082.5 814.2,1092.5 814.5,1087.0 814.8,1080.4 815.1,1091.4 815.4,1094.4 815.7,1079.7 816.0,1079.9 816.3,1082.0 816.6,1087.9 816.9,1088.7 817.2,1076.5 817.5,1089.4 817.8,1087.3 818.1,1084.4 818.4,1082.8 818.7,1080.2 819.0,1078.5 819.3,1077.2 819.6,1073.8 819.9,1074.3 820.2,1077.7 820.5,1067.3 820.8,1068.1 821.1,1060.5 821.4,1067.7 821.7,1063.8 822.0,1063.9 822.3,1075.7 822.6,1060.5 822.9,1068.7 823.2,1073.1 823.5,1056.5 823.8,1062.4 824.1,1073.5 824.4,1067.0 824.7,1069.7 825.0,1061.1 825.3,1066.7 825.6,1062.8 825.9,1061.0 826.2,1073.8 826.5,1079.6 826.8,1071.8 827.1,1071.5 827.4,1075.2 827.7,1071.0 828.0,1072.8 828.3,1066.0 828.6,1060.1 828.9,1063.9 829.2,1068.5 829.5,1073.2 829.8,1078.2 830.1,1070.4 830.4,1065.4 830.7,1068.4 831.0,1082.7 831.3,1078.9 831.6,1062.9 831.9,1070.1 832.2,1069.6 832.5,1071.2 832.8,1068.8 833.1,1073.4 833.4,1074.9 833.7,1080.2 834.0,1087.1 834.3,1077.3 834.6,1085.9 834.9,1077.8 835.2,1083.8 835.5,1082.0 835.8,1079.6 836.1,1076.2 836.4,1081.1 836.7,1081.3 837.0,1090.7 837.3,1087.3 837.6,1087.2 837.9,1089.3 838.2,1083.5 838.5,1085.5 838.8,1082.4 839.1,1087.8 839.4,1084.8 839.7,1081.3 840.0,1088.4 840.3,1094.2 840.6,1097.4 840.9,1096.1 841.2,1093.5 841.5,1084.9 841.8,1098.3 842.1,1083.2 842.4,1093.5 842.7,1090.7 843.0,1088.5 843.3,1085.3 843.6,1092.3 843.9,1083.9 844.2,1086.0 844.5,1096.0 844.8,1099.5 845.1,1096.3 845.4,1085.4 845.7,1095.2 846.0,1094.1 846.3,1090.8 846.6,1095.0 846.9,1098.9 847.2,1095.1 847.5,1098.5 847.8,1099.7 848.1,1099.5 848.4,1093.6 848.7,1095.6 849.0,1092.4 849.3,1093.0 849.6,1091.4 849.9,1092.1 850.2,1093.6 850.5,1098.3 850.8,1097.4 851.1,1096.0 851.4,1088.7 851.7,1096.9 852.0,1098.9 852.3,1104.3 852.6,1096.8 852.9,1096.6 853.2,1096.9 853.5,1092.0 853.8,1093.0 854.1,1103.5 854.4,1095.6 854.7,1100.2 855.0,1101.5 855.3,1094.2 855.6,1090.3 855.9,1098.3 856.2,1098.6 856.5,1098.5 856.8,1094.5 857.1,1093.7 857.4,1098.4 857.7,1100.4 858.0,1090.5 858.3,1097.7 858.6,1092.4 858.9,1094.8 859.2,1090.3 859.5,1104.3 859.8,1093.2 860.1,1098.6 860.4,1094.8 860.7,1100.3 861.0,1098.5 861.3,1098.2 861.6,1091.8 861.9,1087.7 862.2,1094.4 862.5,1097.0 862.8,1096.4 863.1,1099.5 863.4,1087.5 863.7,1096.6 864.0,1097.4 864.3,1102.8 864.6,1100.2 864.9,1098.5 865.2,1100.2 865.5,1095.2 865.8,1097.4 866.1,1097.1 866.4,1102.1 866.7,1102.9 867.0,1105.3 867.3,1097.5 867.6,1092.2 867.9,1100.8 868.2,1093.4 868.5,1097.5 868.8,1093.0 869.1,1092.2 869.4,1100.1 869.7,1104.1 870.0,1096.0 870.3,1104.5 870.6,1093.8 870.9,1090.9 871.2,1093.0 871.5,1097.6 871.8,1100.8 872.1,1100.7 872.4,1096.7 872.7,1099.5 873.0,1095.5 873.3,1101.1 873.6,1095.3 873.9,1103.1 874.2,1094.4 874.5,1107.3 874.8,1090.9 875.1,1086.4 875.4,1104.0 875.7,1091.8 876.0,1101.8 876.3,1099.3 876.6,1103.4 876.9,1104.4 877.2,1101.2 877.5,1093.8 877.8,1080.1 878.1,1100.4 878.4,1105.8 878.7,1100.1 879.0,1095.0 879.3,1099.6 879.6,1097.4 879.9,1093.1 880.2,1102.2 880.5,1102.8 880.8,1093.0 881.1,1096.7 881.4,1103.6 881.7,1099.5 882.0,1094.0 882.3,1095.9 882.6,1096.3 882.9,1090.4 883.2,1091.3 883.5,1095.4 883.8,1098.5 884.1,1095.6 884.4,1096.0 884.7,1100.8 885.0,1102.0 885.3,1098.7 885.6,1103.1 885.9,1099.6 886.2,1103.1 886.5,1095.4 886.8,1100.3 887.1,1099.9 887.4,1100.4 887.7,1093.4 888.0,1104.5 888.3,1098.4 888.6,1101.3 888.9,1100.5 889.2,1102.3 889.5,1102.3 889.8,1099.9 890.1,1094.9 890.4,1105.5 890.7,1103.2 891.0,1091.5 891.3,1099.3 891.6,1097.0 891.9,1107.8 892.2,1102.8 892.5,1097.4 892.8,1096.0 893.1,1100.0 893.4,1096.1 893.7,1110.4 894.0,1103.1 894.3,1103.8 894.6,1093.7 894.9,1110.6 895.2,1098.7 895.5,1109.7 895.8,1097.3 896.1,1092.1 896.4,1095.8 896.7,1100.5 897.0,1103.5 897.3,1097.1 897.6,1090.4 897.9,1092.2 898.2,1098.3 898.5,1095.5 898.8,1103.6 899.1,1101.9 899.4,1108.2 899.7,1097.0 900.0,1104.6 900.3,1095.3 900.6,1094.3 900.9,1103.8 901.2,1091.6 901.5,1103.8 901.8,1092.8 902.1,1106.4 902.4,1102.3 902.7,1101.0 903.0,1102.6 903.3,1100.4 903.6,1093.4 903.9,1104.2 904.2,1100.6 904.5,1101.6 904.8,1103.4 905.1,1100.4 905.4,1106.4 905.7,1096.8 906.0,1097.9 906.3,1099.8 906.6,1104.2 906.9,1092.5 907.2,1103.4 907.5,1095.2 907.8,1096.2 908.1,1104.8 908.4,1090.0 908.7,1091.9 909.0,1096.0 909.3,1097.4 909.6,1099.9 909.9,1104.3 910.2,1106.4 910.5,1097.2 910.8,1097.3 911.1,1099.9 911.4,1100.6 911.7,1102.4 912.0,1097.7 912.3,1094.9 912.6,1106.0 912.9,1103.6 913.2,1106.0 913.5,1092.5 913.8,1103.4 914.1,1096.1 914.4,1098.1 914.7,1096.3 915.0,1094.5 915.3,1097.1 915.6,1103.1 915.9,1102.7 916.2,1096.7 916.5,1091.9 916.8,1097.5 917.1,1105.5 917.4,1097.4 917.7,1097.2 918.0,1093.8 918.3,1099.3 918.6,1093.5 918.9,1098.1 919.2,1099.8 919.5,1093.1 919.8,1088.8 920.1,1094.9 920.4,1093.5 920.7,1095.2 921.0,1107.1 921.3,1105.5 921.6,1095.0 921.9,1101.4 922.2,1101.8 922.5,1096.3 922.8,1090.7 923.1,1108.8 923.4,1099.9 923.7,1099.6 924.0,1100.9 924.3,1096.6 924.6,1090.9 924.9,1102.5 925.2,1100.6 925.5,1087.4 925.8,1094.6 926.1,1105.6 926.4,1104.4 926.7,1099.1 927.0,1098.0 927.3,1101.9 927.6,1099.8 927.9,1094.2 928.2,1098.9 928.5,1102.5 928.8,1105.2 929.1,1092.6 929.4,1091.1 929.7,1101.8 930.0,1099.5 930.3,1099.0 930.6,1094.0 930.9,1101.6 931.2,1100.7 931.5,1102.3 931.8,1093.7 932.1,1103.3 932.4,1089.6 932.7,1100.7 933.0,1102.8 933.3,1108.8 933.6,1101.9 933.9,1089.9 934.2,1099.0 934.5,1096.6 934.8,1102.6 935.1,1097.7 935.4,1099.3 935.7,1095.2 936.0,1098.0 936.3,1101.8 936.6,1089.8 936.9,1099.2 937.2,1106.9 937.5,1109.2 937.8,1096.9 938.1,1102.8 938.4,1099.5 938.7,1094.7 939.0,1100.0 939.3,1094.9 939.6,1101.5 939.9,1095.6 940.2,1109.1 940.5,1104.0 940.8,1096.0 941.1,1096.7 941.4,1097.0 941.7,1095.9 942.0,1105.5 942.3,1104.7 942.6,1095.8 942.9,1104.4 943.2,1093.4 943.5,1097.2 943.8,1100.1 944.1,1101.0 944.4,1095.1 944.7,1094.7 945.0,1097.5 945.3,1102.0 945.6,1099.0 945.9,1097.0 946.2,1097.1 946.5,1105.3 946.8,1094.3 947.1,1098.7 947.4,1104.2 947.7,1094.8 948.0,1096.5 948.3,1096.1 948.6,1089.9 948.9,1111.1 949.2,1101.8 949.5,1099.8 949.8,1091.6 950.1,1099.0 950.4,1091.8 950.7,1094.2 951.0,1099.1 951.3,1091.2 951.6,1088.7 951.9,1093.9 952.2,1095.9 952.5,1096.2 952.8,1098.9 953.1,1101.5 953.4,1102.5 953.7,1089.2 954.0,1105.4 954.3,1099.1 954.6,1093.7 954.9,1100.9 955.2,1100.7 955.5,1097.7 955.8,1099.4 956.1,1097.0 956.4,1099.4 956.7,1105.3 957.0,1097.4 957.3,1106.1 957.6,1099.9 957.9,1099.5 958.2,1092.6 958.5,1095.5 958.8,1093.1 959.1,1096.1 959.4,1094.6 959.7,1107.4 960.0,1095.8 960.3,1096.9 960.6,1100.7 960.9,1092.8 961.2,1098.6 961.5,1104.9 961.8,1097.0 962.1,1100.8 962.4,1103.6 962.7,1099.6 963.0,1096.8 963.3,1103.0 963.6,1098.4 963.9,1105.0 964.2,1099.9 964.5,1107.6 964.8,1100.8 965.1,1094.2 965.4,1098.8 965.7,1105.7 966.0,1097.0 966.3,1096.4 966.6,1094.6 966.9,1103.5 967.2,1098.1 967.5,1101.2 967.8,1103.0 968.1,1104.7 968.4,1104.0 968.7,1096.8 969.0,1093.4 969.3,1097.8 969.6,1101.3 969.9,1103.7 970.2,1102.9 970.5,1094.1 970.8,1099.7 971.1,1104.0 971.4,1097.4 971.7,1090.4 972.0,1097.8 972.3,1102.0 972.6,1098.5 972.9,1095.3 973.2,1097.1 973.5,1099.9 973.8,1092.6 974.1,1097.1 974.4,1098.3 974.7,1095.0 975.0,1102.6 975.3,1102.6 975.6,1108.7 975.9,1099.8 976.2,1102.3 976.5,1102.7 976.8,1109.1 977.1,1106.3 977.4,1107.5 977.7,1099.2 978.0,1095.8 978.3,1096.9 978.6,1092.6 978.9,1097.6 979.2,1103.4 979.5,1089.7 979.8,1103.8 980.1,1101.9 980.4,1099.0 980.7,1094.3 981.0,1101.2 981.3,1101.2 981.6,1104.9 981.9,1105.2 982.2,1098.8 982.5,1100.9 982.8,1107.8 983.1,1099.8 983.4,1109.4 983.7,1100.1 984.0,1096.0 984.3,1090.5 984.6,1107.7 984.9,1096.8 985.2,1090.3 985.5,1093.9 985.8,1092.8 986.1,1101.3 986.4,1095.7 986.7,1105.1 987.0,1094.6 987.3,1095.4 987.6,1105.1 987.9,1100.2 988.2,1097.5 988.5,1103.9 988.8,1096.1 989.1,1101.9 989.4,1097.9 989.7,1104.3 990.0,1102.3 990.3,1102.0 990.6,1096.4 990.9,1090.4 991.2,1101.2 991.5,1099.5 991.8,1098.2 992.1,1097.1 992.4,1098.1 992.7,1095.0 993.0,1106.4 993.3,1100.1 993.6,1094.2 993.9,1096.0 994.2,1098.7 994.5,1100.6 994.8,1104.0 995.1,1104.9 995.4,1092.0 995.7,1103.2 996.0,1098.3 996.3,1093.1 996.6,1095.6 996.9,1096.3 997.2,1096.5 997.5,1091.7 997.8,1104.9 998.1,1095.9 998.4,1092.5 998.7,1097.3 999.0,1098.5 999.3,1097.8 999.6,1102.9 999.9,1099.1 1000.2,1101.3 1000.5,1102.7 1000.8,1090.8 1001.1,1109.4 1001.4,1105.7 1001.7,1102.3 1002.0,1097.1 1002.3,1093.6 1002.6,1104.7 1002.9,1100.0 1003.2,1101.2 1003.5,1092.2 1003.8,1092.5 1004.1,1094.4 1004.4,1103.2 1004.7,1093.4 1005.0,1099.6 1005.3,1100.4 1005.6,1098.1 1005.9,1099.2 1006.2,1094.4 1006.5,1092.7 1006.8,1100.1 1007.1,1100.5 1007.4,1094.4 1007.7,1100.0 1008.0,1098.7 1008.3,1101.0 1008.6,1103.1 1008.9,1095.2 1009.2,1091.3 1009.5,1102.1 1009.8,1100.6 1010.1,1098.7 1010.4,1099.4 1010.7,1102.4 1011.0,1096.4 1011.3,1105.6 1011.6,1102.4 1011.9,1096.0 1012.2,1093.9 1012.5,1106.8 1012.8,1096.9 1013.1,1096.6 1013.4,1098.3 1013.7,1095.7 1014.0,1105.4 1014.3,1097.1 1014.6,1102.5 1014.9,1108.4 1015.2,1102.4 1015.5,1103.7 1015.8,1105.4 1016.1,1098.2 1016.4,1101.8 1016.7,1093.7 1017.0,1100.1 1017.3,1102.8 1017.6,1100.6 1017.9,1093.1 1018.2,1098.4 1018.5,1101.8 1018.8,1102.7 1019.1,1107.0 1019.4,1098.9 1019.7,1096.6 1020.0,1104.1 1020.3,1095.2 1020.6,1095.4 1020.9,1100.7 1021.2,1089.7 1021.5,1093.6 1021.8,1097.2 1022.1,1097.4 1022.4,1094.0 1022.7,1096.0 1023.0,1093.5 1023.3,1099.9 1023.6,1098.7 1023.9,1098.5 1024.2,1104.0 1024.5,1101.6 1024.8,1100.1 1025.1,1095.2 1025.4,1107.0 1025.7,1097.3 1026.0,1101.8 1026.3,1105.5 1026.6,1102.0 1026.9,1095.6 1027.2,1098.7 1027.5,1098.7 1027.8,1101.5 1028.1,1104.2 1028.4,1096.3 1028.7,1104.8 1029.0,1096.5 1029.3,1103.5 1029.6,1103.7 1029.9,1105.0 1030.2,1106.6 1030.5,1102.6 1030.8,1095.0 1031.1,1105.8 1031.4,1102.3 1031.7,1104.1 1032.0,1096.8 1032.3,1104.0 1032.6,1097.2 1032.9,1099.8 1033.2,1101.5 1033.5,1095.9 1033.8,1096.6 1034.1,1103.1 1034.4,1106.7 1034.7,1102.1 1035.0,1102.9 1035.3,1105.7 1035.6,1106.1 1035.9,1104.2 1036.2,1104.6 1036.5,1104.7 1036.8,1098.1 1037.1,1090.5 1037.4,1105.7 1037.7,1098.6 1038.0,1100.8 1038.3,1094.7 1038.6,1099.7 1038.9,1097.4 1039.2,1105.2 1039.5,1099.7 1039.8,1089.5 1040.1,1098.6 1040.4,1098.2 1040.7,1097.8 1041.0,1097.8 1041.3,1099.1 1041.6,1099.4 1041.9,1096.4 1042.2,1098.0 1042.5,1090.1 1042.8,1106.1 1043.1,1109.5 1043.4,1091.7 1043.7,1097.2 1044.0,1094.1 1044.3,1095.8 1044.6,1091.8 1044.9,1100.0 1045.2,1099.0 1045.5,1101.1 1045.8,1100.3 1046.1,1095.1 1046.4,1104.4 1046.7,1102.6 1047.0,1100.4 1047.3,1099.9 1047.6,1103.4 1047.9,1098.2 1048.2,1095.8 1048.5,1100.4 1048.8,1096.5 1049.1,1099.5 1049.4,1095.2 1049.7,1102.4 1050.0,1094.6 1050.3,1100.4 1050.6,1093.1 1050.9,1100.0 1051.2,1107.5 1051.5,1098.3 1051.8,1099.2 1052.1,1089.9 1052.4,1102.0 1052.7,1095.3 1053.0,1095.6 1053.3,1090.1 1053.6,1100.3 1053.9,1108.7 1054.2,1098.0 1054.5,1098.3 1054.8,1100.6 1055.1,1100.5 1055.4,1090.5 1055.7,1103.0 1056.0,1097.4 1056.3,1098.9 1056.6,1106.6 1056.9,1108.0 1057.2,1100.8 1057.5,1103.8 1057.8,1101.8 1058.1,1100.7 1058.4,1105.1 1058.7,1099.1 1059.0,1094.4 1059.3,1089.8 1059.6,1098.3 1059.9,1096.8 1060.2,1106.5 1060.5,1092.6 1060.8,1098.0 1061.1,1100.1 1061.4,1106.0 1061.7,1099.6 1062.0,1097.6 1062.3,1100.2 1062.6,1097.4 1062.9,1097.0 1063.2,1106.5 1063.5,1100.3 1063.8,1092.0 1064.1,1093.5 1064.4,1098.6 1064.7,1100.3 1065.0,1092.7 1065.3,1104.6 1065.6,1095.0 1065.9,1090.1 1066.2,1102.2 1066.5,1090.9 1066.8,1102.6 1067.1,1100.1 1067.4,1098.4 1067.7,1104.5 1068.0,1107.7 1068.3,1098.8 1068.6,1097.6 1068.9,1105.4 1069.2,1097.0 1069.5,1108.6 1069.8,1099.7 1070.1,1093.4 1070.4,1099.8 1070.7,1104.3 1071.0,1098.7 1071.3,1107.6 1071.6,1105.0 1071.9,1105.1 1072.2,1088.1 1072.5,1089.2 1072.8,1096.3 1073.1,1092.1 1073.4,1094.2 1073.7,1095.1 1074.0,1102.0 1074.3,1101.2 1074.6,1103.7 1074.9,1097.9 1075.2,1104.4 1075.5,1094.1 1075.8,1095.7 1076.1,1097.3 1076.4,1091.0 1076.7,1092.1 1077.0,1097.0 1077.3,1103.7 1077.6,1093.4 1077.9,1088.2 1078.2,1092.9 1078.5,1099.0 1078.8,1104.6 1079.1,1095.2 1079.4,1095.0 1079.7,1103.5 1080.0,1100.4 1080.3,1097.5 1080.6,1102.9 1080.9,1096.1 1081.2,1105.2 1081.5,1098.3 1081.8,1097.1 1082.1,1103.2 1082.4,1098.8 1082.7,1087.7 1083.0,1096.3 1083.3,1105.1 1083.6,1096.0 1083.9,1094.9 1084.2,1091.4 1084.5,1095.5 1084.8,1091.9 1085.1,1098.5 1085.4,1099.4 1085.7,1096.3 1086.0,1097.0 1086.3,1096.4 1086.6,1090.9 1086.9,1103.3 1087.2,1102.3 1087.5,1098.0 1087.8,1102.5 1088.1,1094.4 1088.4,1095.3 1088.7,1098.7 1089.0,1092.5 1089.3,1096.9 1089.6,1097.2 1089.9,1091.0 1090.2,1098.2 1090.5,1096.4 1090.8,1097.5 1091.1,1090.9 1091.4,1097.3 1091.7,1098.1 1092.0,1092.4 1092.3,1097.9 1092.6,1087.4 1092.9,1100.1 1093.2,1100.4 1093.5,1100.5 1093.8,1097.2 1094.1,1089.2 1094.4,1093.0 1094.7,1099.9 1095.0,1091.5 1095.3,1094.7 1095.6,1092.7 1095.9,1099.0 1096.2,1092.1 1096.5,1094.0 1096.8,1094.9 1097.1,1095.3 1097.4,1096.6 1097.7,1095.7 1098.0,1095.2 1098.3,1099.2 1098.6,1100.8 1098.9,1098.8 1099.2,1093.7 1099.5,1097.9 1099.8,1094.7 1100.1,1093.7 1100.4,1092.9 1100.7,1096.2 1101.0,1102.7 1101.3,1093.4 1101.6,1092.8 1101.9,1094.4 1102.2,1100.4 1102.5,1096.7 1102.8,1094.5 1103.1,1103.6 1103.4,1094.7 1103.7,1089.7 1104.0,1093.7 1104.3,1100.1 1104.6,1096.2 1104.9,1095.6 1105.2,1092.9 1105.5,1100.3 1105.8,1090.3 1106.1,1094.8 1106.4,1091.4 1106.7,1085.6 1107.0,1091.7 1107.3,1099.1 1107.6,1098.8 1107.9,1099.4 1108.2,1097.5 1108.5,1094.8 1108.8,1086.4 1109.1,1097.3 1109.4,1086.1 1109.7,1091.7 1110.0,1098.7 1110.3,1087.1 1110.6,1099.5 1110.9,1091.9 1111.2,1094.7 1111.5,1097.5 1111.8,1093.0 1112.1,1090.5 1112.4,1085.9 1112.7,1096.0 1113.0,1101.1 1113.3,1092.8 1113.6,1085.6 1113.9,1091.2 1114.2,1088.5 1114.5,1101.3 1114.8,1096.2 1115.1,1094.4 1115.4,1085.3 1115.7,1089.6 1116.0,1094.0 1116.3,1091.1 1116.6,1082.8 1116.9,1083.1 1117.2,1096.5 1117.5,1091.8 1117.8,1085.2 1118.1,1096.8 1118.4,1087.7 1118.7,1083.3 1119.0,1091.7 1119.3,1091.4 1119.6,1088.1 1119.9,1095.3 1120.2,1090.2 1120.5,1086.7 1120.8,1092.9 1121.1,1089.2 1121.4,1089.5 1121.7,1092.9 1122.0,1081.6 1122.3,1085.7 1122.6,1089.5 1122.9,1087.4 1123.2,1088.1 1123.5,1081.9 1123.8,1080.3 1124.1,1090.0 1124.4,1085.9 1124.7,1085.6 1125.0,1086.1 1125.3,1090.7 1125.6,1075.9 1125.9,1081.6 1126.2,1089.3 1126.5,1089.6 1126.8,1088.2 1127.1,1088.3 1127.4,1089.2 1127.7,1081.3 1128.0,1079.7 1128.3,1095.4 1128.6,1087.7 1128.9,1080.0 1129.2,1082.4 1129.5,1082.9 1129.8,1086.5 1130.1,1083.3 1130.4,1082.2 1130.7,1080.8 1131.0,1088.9 1131.3,1091.2 1131.6,1086.5 1131.9,1086.6 1132.2,1077.0 1132.5,1075.3 1132.8,1076.4 1133.1,1085.9 1133.4,1076.4 1133.7,1074.3 1134.0,1084.2 1134.3,1088.7 1134.6,1085.1 1134.9,1080.4 1135.2,1075.6 1135.5,1089.3 1135.8,1070.2 1136.1,1075.5 1136.4,1076.7 1136.7,1082.7 1137.0,1080.7 1137.3,1078.9 1137.6,1078.3 1137.9,1063.6 1138.2,1069.2 1138.5,1083.1 1138.8,1077.6 1139.1,1080.2 1139.4,1080.5 1139.7,1077.6 1140.0,1084.1 1140.3,1077.7 1140.6,1080.2 1140.9,1084.9 1141.2,1078.5 1141.5,1084.9 1141.8,1073.7 1142.1,1072.5 1142.4,1085.0 1142.7,1078.5 1143.0,1075.7 1143.3,1077.9 1143.6,1070.6 1143.9,1075.1 1144.2,1083.0 1144.5,1075.1 1144.8,1074.1 1145.1,1075.5 1145.4,1078.3 1145.7,1074.9 1146.0,1084.2 1146.3,1082.8 1146.6,1086.5 1146.9,1087.8 1147.2,1081.6 1147.5,1085.3 1147.8,1082.6 1148.1,1083.3 1148.4,1080.9 1148.7,1087.0 1149.0,1089.6 1149.3,1082.9 1149.6,1085.9 1149.9,1092.8 1150.2,1077.7 1150.5,1084.7 1150.8,1090.6 1151.1,1078.1 1151.4,1079.3 1151.7,1085.5 1152.0,1076.5 1152.3,1088.2 1152.6,1077.9 1152.9,1087.9 1153.2,1089.8 1153.5,1083.3 1153.8,1079.8 1154.1,1079.7 1154.4,1080.2 1154.7,1086.6 1155.0,1081.8 1155.3,1092.0 1155.6,1091.0 1155.9,1088.7 1156.2,1085.9 1156.5,1083.9 1156.8,1085.9 1157.1,1085.3 1157.4,1079.2 1157.7,1080.8 1158.0,1080.7 1158.3,1080.7 1158.6,1091.4 1158.9,1086.5 1159.2,1095.7 1159.5,1088.4 1159.8,1095.8 1160.1,1084.5 1160.4,1093.7 1160.7,1081.7 1161.0,1086.2 1161.3,1082.7 1161.6,1085.0 1161.9,1096.1 1162.2,1092.8 1162.5,1088.9 1162.8,1085.1 1163.1,1084.8 1163.4,1089.3 1163.7,1081.2 1164.0,1093.2 1164.3,1094.2 1164.6,1095.3 1164.9,1093.8 1165.2,1091.3 1165.5,1090.9 1165.8,1087.7 1166.1,1094.9 1166.4,1083.9 1166.7,1088.3 1167.0,1091.8 1167.3,1086.6 1167.6,1093.0 1167.9,1092.8 1168.2,1097.5 1168.5,1085.1 1168.8,1096.5 1169.1,1097.8 1169.4,1098.3 1169.7,1096.5 1170.0,1091.9 1170.3,1087.7 1170.6,1098.2 1170.9,1094.4 1171.2,1095.2 1171.5,1087.6 1171.8,1104.1 1172.1,1103.6 1172.4,1083.8 1172.7,1089.8 1173.0,1101.3 1173.3,1095.3 1173.6,1086.9 1173.9,1099.4 1174.2,1097.2 1174.5,1088.1 1174.8,1093.6 1175.1,1098.9 1175.4,1093.2 1175.7,1100.8 1176.0,1100.4 1176.3,1094.3 1176.6,1101.6 1176.9,1088.2 1177.2,1089.4 1177.5,1091.9 1177.8,1090.2 1178.1,1098.0 1178.4,1087.2 1178.7,1097.0 1179.0,1101.2 1179.3,1097.1 1179.6,1091.1 1179.9,1087.0 1180.2,1089.0 1180.5,1088.0 1180.8,1098.8 1181.1,1088.9 1181.4,1096.2 1181.7,1098.4 1182.0,1096.8 1182.3,1098.7 1182.6,1080.2 1182.9,1094.3 1183.2,1096.7 1183.5,1096.6 1183.8,1095.8 1184.1,1099.0 1184.4,1096.9 1184.7,1098.6 1185.0,1088.3 1185.3,1101.0 1185.6,1094.8 1185.9,1091.8 1186.2,1096.0 1186.5,1093.1 1186.8,1101.0 1187.1,1101.6 1187.4,1100.0 1187.7,1097.0 1188.0,1097.5 1188.3,1095.0 1188.6,1098.0 1188.9,1094.2 1189.2,1101.9 1189.5,1083.9 1189.8,1091.1 1190.1,1097.0 1190.4,1099.9 1190.7,1086.0 1191.0,1095.2 1191.3,1097.1 1191.6,1091.7 1191.9,1087.6 1192.2,1098.0 1192.5,1096.4 1192.8,1096.2 1193.1,1095.8 1193.4,1088.9 1193.7,1101.9 1194.0,1098.7 1194.3,1093.5 1194.6,1089.6 1194.9,1095.5 1195.2,1103.0 1195.5,1101.5 1195.8,1090.2 1196.1,1093.6 1196.4,1092.0 1196.7,1094.5 1197.0,1087.9 1197.3,1095.2 1197.6,1094.5 1197.9,1089.8 1198.2,1092.4 1198.5,1094.9 1198.8,1092.0 1199.1,1092.7 1199.4,1092.7 1199.7,1099.4 1200.0,1102.2 1200.3,1089.5 1200.6,1090.1 1200.9,1105.1 1201.2,1094.6 1201.5,1096.5 1201.8,1092.3 1202.1,1094.2 1202.4,1101.1 1202.7,1096.2 1203.0,1095.4 1203.3,1093.4 1203.6,1088.5 1203.9,1093.5 1204.2,1097.7 1204.5,1094.7 1204.8,1098.9 1205.1,1094.0 1205.4,1095.4 1205.7,1095.8 1206.0,1103.2 1206.3,1101.2 1206.6,1090.4 1206.9,1089.1 1207.2,1094.9 1207.5,1100.3 1207.8,1092.9 1208.1,1098.5 1208.4,1084.4 1208.7,1092.4 1209.0,1096.2 1209.3,1091.3 1209.6,1091.5 1209.9,1083.1 1210.2,1095.7 1210.5,1090.6 1210.8,1099.7 1211.1,1093.9 1211.4,1096.5 1211.7,1101.7 1212.0,1099.3 1212.3,1094.8 1212.6,1096.0 1212.9,1092.7 1213.2,1085.8 1213.5,1097.3 1213.8,1087.2 1214.1,1094.9 1214.4,1096.1 1214.7,1087.4 1215.0,1096.7 1215.3,1095.7 1215.6,1095.7 1215.9,1092.3 1216.2,1089.6 1216.5,1098.7 1216.8,1082.2 1217.1,1093.7 1217.4,1086.4 1217.7,1093.9 1218.0,1090.0 1218.3,1086.7 1218.6,1085.1 1218.9,1096.4 1219.2,1090.3 1219.5,1096.0 1219.8,1090.6 1220.1,1091.5 1220.4,1092.2 1220.7,1088.0 1221.0,1092.5 1221.3,1102.2 1221.6,1080.0 1221.9,1091.2 1222.2,1097.1 1222.5,1088.6 1222.8,1092.0 1223.1,1091.8 1223.4,1093.3 1223.7,1084.9 1224.0,1092.0 1224.3,1088.6 1224.6,1082.3 1224.9,1095.9 1225.2,1093.1 1225.5,1084.4 1225.8,1089.5 1226.1,1090.7 1226.4,1084.9 1226.7,1090.4 1227.0,1083.6 1227.3,1083.9 1227.6,1082.9 1227.9,1079.2 1228.2,1082.0 1228.5,1087.6 1228.8,1083.9 1229.1,1081.3 1229.4,1080.2 1229.7,1080.7 1230.0,1087.4 1230.3,1072.7 1230.6,1078.5 1230.9,1084.9 1231.2,1087.5 1231.5,1086.6 1231.8,1082.3 1232.1,1078.8 1232.4,1081.9 1232.7,1068.5 1233.0,1076.8 1233.3,1073.5 1233.6,1079.5 1233.9,1064.5 1234.2,1087.4 1234.5,1078.2 1234.8,1058.7 1235.1,1059.2 1235.4,1065.4 1235.7,1062.9 1236.0,1060.9 1236.3,1060.6 1236.6,1070.6 1236.9,1058.9 1237.2,1068.3 1237.5,1052.6 1237.8,1061.8 1238.1,1056.5 1238.4,1051.7 1238.7,1051.7 1239.0,1073.1 1239.3,1055.7 1239.6,1062.3 1239.9,1055.0 1240.2,1057.9 1240.5,1042.0 1240.8,1043.7 1241.1,1048.6 1241.4,1047.0 1241.7,1050.3 1242.0,1039.7 1242.3,1053.4 1242.6,1050.4 1242.9,1042.2 1243.2,1048.3 1243.5,1052.2 1243.8,1061.8 1244.1,1045.7 1244.4,1055.7 1244.7,1039.7 1245.0,1049.8 1245.3,1049.2 1245.6,1036.7 1245.9,1050.2 1246.2,1055.7 1246.5,1057.6 1246.8,1053.5 1247.1,1056.9 1247.4,1061.7 1247.7,1046.8 1248.0,1043.7 1248.3,1041.6 1248.6,1055.1 1248.9,1053.7 1249.2,1042.7 1249.5,1051.9 1249.8,1050.7 1250.1,1059.7 1250.4,1061.6 1250.7,1062.2 1251.0,1055.0 1251.3,1064.5 1251.6,1065.5 1251.9,1075.1 1252.2,1064.6 1252.5,1065.9 1252.8,1062.6 1253.1,1073.9 1253.4,1065.5 1253.7,1069.9 1254.0,1068.1 1254.3,1078.0 1254.6,1073.8 1254.9,1075.9 1255.2,1076.2 1255.5,1070.1 1255.8,1071.3 1256.1,1072.3 1256.4,1084.6 1256.7,1070.5 1257.0,1068.2 1257.3,1081.1 1257.6,1079.6 1257.9,1075.7 1258.2,1077.0 1258.5,1072.1 1258.8,1085.3 1259.1,1077.3 1259.4,1084.5 1259.7,1085.8 1260.0,1085.3 1260.3,1076.6 1260.6,1089.3 1260.9,1084.7 1261.2,1081.2 1261.5,1084.2 1261.8,1085.3 1262.1,1085.5 1262.4,1091.7 1262.7,1092.6 1263.0,1088.6 1263.3,1092.1 1263.6,1093.3 1263.9,1091.5 1264.2,1092.2 1264.5,1090.2 1264.8,1095.7 1265.1,1091.9 1265.4,1080.6 1265.7,1092.8 1266.0,1081.9 1266.3,1091.4 1266.6,1088.7 1266.9,1080.8 1267.2,1086.6 1267.5,1091.4 1267.8,1100.8 1268.1,1092.7 1268.4,1087.0 1268.7,1093.1 1269.0,1091.3 1269.3,1095.6 1269.6,1088.2 1269.9,1094.6 1270.2,1087.6 1270.5,1088.2 1270.8,1087.5 1271.1,1090.7 1271.4,1085.9 1271.7,1093.1 1272.0,1086.6 1272.3,1097.4 1272.6,1098.9 1272.9,1094.9 1273.2,1072.9 1273.5,1100.1 1273.8,1092.0 1274.1,1089.1 1274.4,1095.6 1274.7,1084.7 1275.0,1097.2 1275.3,1089.3 1275.6,1093.7 1275.9,1103.0 1276.2,1089.1 1276.5,1089.3 1276.8,1090.4 1277.1,1090.8 1277.4,1088.2 1277.7,1090.9 1278.0,1087.2 1278.3,1102.1 1278.6,1095.3 1278.9,1089.2 1279.2,1088.8 1279.5,1093.3 1279.8,1095.8 1280.1,1099.2 1280.4,1101.5 1280.7,1097.0 1281.0,1093.2 1281.3,1093.4 1281.6,1087.0 1281.9,1099.2 1282.2,1097.2 1282.5,1099.6 1282.8,1092.7 1283.1,1101.4 1283.4,1096.7 1283.7,1091.9 1284.0,1091.4 1284.3,1095.2 1284.6,1092.7 1284.9,1100.1 1285.2,1098.8 1285.5,1091.0 1285.8,1098.7 1286.1,1103.3 1286.4,1095.7 1286.7,1099.9 1287.0,1104.6 1287.3,1087.5 1287.6,1105.1 1287.9,1098.0 1288.2,1089.9 1288.5,1089.2 1288.8,1094.4 1289.1,1099.1 1289.4,1094.8 1289.7,1097.3 1290.0,1097.6 1290.3,1104.4 1290.6,1086.2 1290.9,1093.0 1291.2,1091.9 1291.5,1090.8 1291.8,1102.2 1292.1,1089.0 1292.4,1097.2 1292.7,1102.7 1293.0,1092.3 1293.3,1088.0 1293.6,1097.4 1293.9,1098.5 1294.2,1105.2 1294.5,1096.2 1294.8,1102.9 1295.1,1087.3 1295.4,1090.7 1295.7,1103.7 1296.0,1094.4 1296.3,1091.7 1296.6,1103.7 1296.9,1101.0 1297.2,1102.5 1297.5,1097.5 1297.8,1094.2 1298.1,1097.6 1298.4,1095.9 1298.7,1090.4 1299.0,1088.5 1299.3,1090.6 1299.6,1094.2 1299.9,1099.7 1300.2,1095.9 1300.5,1101.9 1300.8,1097.4 1301.1,1096.6 1301.4,1093.5 1301.7,1096.6 1302.0,1089.2 1302.3,1096.1 1302.6,1096.8 1302.9,1100.7 1303.2,1086.3 1303.5,1094.1 1303.8,1096.4 1304.1,1094.1 1304.4,1096.8 1304.7,1100.3 1305.0,1095.4 1305.3,1102.9 1305.6,1096.2 1305.9,1092.6 1306.2,1096.8 1306.5,1086.6 1306.8,1101.3 1307.1,1098.1 1307.4,1095.2 1307.7,1099.8 1308.0,1094.2 1308.3,1099.5 1308.6,1098.4 1308.9,1095.9 1309.2,1094.4 1309.5,1097.4 1309.8,1105.0 1310.1,1093.1 1310.4,1096.5 1310.7,1090.0 1311.0,1095.1 1311.3,1091.1 1311.6,1096.3 1311.9,1106.0 1312.2,1104.0 1312.5,1094.6 1312.8,1102.7 1313.1,1083.9 1313.4,1097.9 1313.7,1099.3 1314.0,1097.7 1314.3,1092.3 1314.6,1102.9 1314.9,1103.2 1315.2,1107.8 1315.5,1090.3 1315.8,1101.4 1316.1,1097.8 1316.4,1088.6 1316.7,1101.8 1317.0,1086.5 1317.3,1098.7 1317.6,1096.9 1317.9,1090.8 1318.2,1090.0 1318.5,1097.8 1318.8,1100.3 1319.1,1096.2 1319.4,1101.1 1319.7,1094.1 1320.0,1102.6 1320.3,1100.1 1320.6,1090.1 1320.9,1101.2 1321.2,1096.3 1321.5,1089.5 1321.8,1094.9 1322.1,1088.7 1322.4,1102.1 1322.7,1095.9 1323.0,1091.2 1323.3,1095.2 1323.6,1095.1 1323.9,1098.3 1324.2,1106.4 1324.5,1110.9 1324.8,1095.9 1325.1,1093.1 1325.4,1098.3 1325.7,1098.9 1326.0,1091.6 1326.3,1098.1 1326.6,1095.2 1326.9,1104.5 1327.2,1098.4 1327.5,1100.2 1327.8,1096.9 1328.1,1086.8 1328.4,1095.8 1328.7,1096.6 1329.0,1094.8 1329.3,1097.5 1329.6,1091.3 1329.9,1092.9 1330.2,1102.7 1330.5,1090.9 1330.8,1091.6 1331.1,1095.6 1331.4,1100.2 1331.7,1102.9 1332.0,1095.0 1332.3,1103.8 1332.6,1106.4 1332.9,1094.4 1333.2,1098.4 1333.5,1091.4 1333.8,1095.1 1334.1,1100.0 1334.4,1102.8 1334.7,1099.9 1335.0,1099.8 1335.3,1098.1 1335.6,1089.9 1335.9,1101.2 1336.2,1092.5 1336.5,1102.2 1336.8,1098.7 1337.1,1102.1 1337.4,1101.1 1337.7,1098.4 1338.0,1099.2 1338.3,1093.6 1338.6,1092.7 1338.9,1090.5 1339.2,1096.2 1339.5,1101.8 1339.8,1099.7 1340.1,1090.8 1340.4,1104.0 1340.7,1092.8 1341.0,1097.1 1341.3,1098.9 1341.6,1085.7 1341.9,1090.8 1342.2,1094.9 1342.5,1099.8 1342.8,1093.9 1343.1,1083.6 1343.4,1099.5 1343.7,1089.5 1344.0,1097.3 1344.3,1093.3 1344.6,1097.7 1344.9,1096.1 1345.2,1100.1 1345.5,1099.5 1345.8,1093.9 1346.1,1101.9 1346.4,1099.2 1346.7,1096.1 1347.0,1107.3 1347.3,1090.8 1347.6,1098.0 1347.9,1093.8 1348.2,1101.7 1348.5,1098.3 1348.8,1102.9 1349.1,1089.8 1349.4,1094.8 1349.7,1102.6 1350.0,1093.0 1350.3,1096.9 1350.6,1105.1 1350.9,1091.7 1351.2,1101.4 1351.5,1097.6 1351.8,1091.4 1352.1,1089.3 1352.4,1088.6 1352.7,1092.4 1353.0,1083.3 1353.3,1095.4 1353.6,1098.7 1353.9,1103.5 1354.2,1094.1 1354.5,1089.0 1354.8,1095.1 1355.1,1099.8 1355.4,1099.9 1355.7,1094.6 1356.0,1093.1 1356.3,1089.4 1356.6,1091.0 1356.9,1102.1 1357.2,1100.2 1357.5,1094.3 1357.8,1093.1 1358.1,1095.0 1358.4,1099.6 1358.7,1098.7 1359.0,1101.4 1359.3,1092.4 1359.6,1098.6 1359.9,1092.1 1360.2,1101.4 1360.5,1100.7 1360.8,1102.6 1361.1,1093.6 1361.4,1100.1 1361.7,1090.3 1362.0,1092.7 1362.3,1104.5 1362.6,1107.2 1362.9,1092.0 1363.2,1093.8 1363.5,1092.7 1363.8,1097.0 1364.1,1095.7 1364.4,1091.3 1364.7,1095.8 1365.0,1094.9 1365.3,1100.8 1365.6,1094.3 1365.9,1089.5 1366.2,1093.2 1366.5,1084.0 1366.8,1105.4 1367.1,1102.7 1367.4,1088.5 1367.7,1096.3 1368.0,1099.8 1368.3,1092.9 1368.6,1098.9 1368.9,1093.7 1369.2,1094.0 1369.5,1089.5 1369.8,1090.1 1370.1,1101.2 1370.4,1088.0 1370.7,1099.3 1371.0,1091.7 1371.3,1093.3 1371.6,1092.6 1371.9,1097.9 1372.2,1093.4 1372.5,1092.7 1372.8,1089.0 1373.1,1095.9 1373.4,1090.5 1373.7,1085.7 1374.0,1097.6 1374.3,1091.8 1374.6,1100.4 1374.9,1097.2 1375.2,1099.8 1375.5,1098.8 1375.8,1091.2 1376.1,1087.5 1376.4,1087.3 1376.7,1098.5 1377.0,1092.5 1377.3,1097.5 1377.6,1093.6 1377.9,1089.0 1378.2,1091.8 1378.5,1095.4 1378.8,1090.6 1379.1,1087.4 1379.4,1086.9 1379.7,1083.1 1380.0,1101.5 1380.3,1087.2 1380.6,1093.8 1380.9,1087.4 1381.2,1089.3 1381.5,1094.8 1381.8,1093.3 1382.1,1096.9 1382.4,1086.3 1382.7,1096.9 1383.0,1089.3 1383.3,1083.4 1383.6,1093.9 1383.9,1090.1 1384.2,1087.9 1384.5,1085.5 1384.8,1092.0 1385.1,1093.0 1385.4,1080.9 1385.7,1093.1 1386.0,1093.5 1386.3,1093.0 1386.6,1091.1 1386.9,1088.1 1387.2,1081.4 1387.5,1093.4 1387.8,1093.5 1388.1,1079.6 1388.4,1090.9 1388.7,1089.0 1389.0,1083.5 1389.3,1082.1 1389.6,1078.3 1389.9,1083.9 1390.2,1084.1 1390.5,1087.0 1390.8,1080.1 1391.1,1089.4 1391.4,1080.9 1391.7,1081.7 1392.0,1073.3 1392.3,1079.1 1392.6,1078.3 1392.9,1082.2 1393.2,1084.8 1393.5,1091.8 1393.8,1083.8 1394.1,1073.9 1394.4,1083.7 1394.7,1077.8 1395.0,1075.9 1395.3,1076.1 1395.6,1075.8 1395.9,1067.2 1396.2,1070.4 1396.5,1069.7 1396.8,1072.8 1397.1,1069.4 1397.4,1073.1 1397.7,1064.8 1398.0,1055.6 1398.3,1064.4 1398.6,1063.5 1398.9,1036.5 1399.2,1063.2 1399.5,1054.0 1399.8,1052.1 1400.1,1053.0 1400.4,1051.0 1400.7,1054.1 1401.0,1053.7 1401.3,1060.0 1401.6,1055.5 1401.9,1040.7 1402.2,1041.6 1402.5,1047.0 1402.8,1043.2 1403.1,1044.3 1403.4,1046.4 1403.7,1046.8 1404.0,1035.2 1404.3,1039.0 1404.6,1032.3 1404.9,1030.1 1405.2,1026.4 1405.5,1034.9 1405.8,1033.2 1406.1,1019.9 1406.4,1028.0 1406.7,1015.4 1407.0,1022.2 1407.3,1021.8 1407.6,1026.1 1407.9,1018.8 1408.2,1023.5 1408.5,1020.8 1408.8,1023.0 1409.1,1010.7 1409.4,1021.3 1409.7,1018.9 1410.0,1005.8 1410.3,1010.9 1410.6,1012.7 1410.9,1013.6 1411.2,1008.8 1411.5,1008.3 1411.8,1027.9 1412.1,1023.8 1412.4,1018.1 1412.7,1026.4 1413.0,1021.1 1413.3,1020.6 1413.6,1018.6 1413.9,1023.7 1414.2,1020.3 1414.5,1029.1 1414.8,1023.9 1415.1,1023.5 1415.4,1021.8 1415.7,1025.6 1416.0,1026.1 1416.3,1020.9 1416.6,1026.4 1416.9,1024.5 1417.2,1030.7 1417.5,1023.9 1417.8,1033.1 1418.1,1032.1 1418.4,1040.4 1418.7,1042.3 1419.0,1042.6 1419.3,1041.7 1419.6,1042.9 1419.9,1041.1 1420.2,1042.3 1420.5,1057.4 1420.8,1047.0 1421.1,1045.4 1421.4,1048.6 1421.7,1041.3 1422.0,1047.5 1422.3,1052.2 1422.6,1056.5 1422.9,1049.9 1423.2,1052.6 1423.5,1051.7 1423.8,1059.2 1424.1,1052.3 1424.4,1054.6 1424.7,1063.7 1425.0,1070.0 1425.3,1061.1 1425.6,1060.3 1425.9,1062.2 1426.2,1060.6 1426.5,1062.7 1426.8,1076.8 1427.1,1059.6 1427.4,1061.3 1427.7,1070.7 1428.0,1073.3 1428.3,1070.9 1428.6,1075.4 1428.9,1073.6 1429.2,1064.4 1429.5,1072.3 1429.8,1067.4 1430.1,1066.7 1430.4,1073.3 1430.7,1076.7 1431.0,1072.7 1431.3,1075.8 1431.6,1081.1 1431.9,1068.3 1432.2,1067.0 1432.5,1072.5 1432.8,1056.3 1433.1,1065.4 1433.4,1068.0 1433.7,1075.0 1434.0,1078.5 1434.3,1077.6 1434.6,1079.2 1434.9,1077.1 1435.2,1075.3 1435.5,1068.9 1435.8,1078.9 1436.1,1080.0 1436.4,1078.6 1436.7,1083.9 1437.0,1076.7 1437.3,1078.0 1437.6,1073.4 1437.9,1078.6 1438.2,1084.2 1438.5,1082.2 1438.8,1080.3 1439.1,1084.3 1439.4,1082.3 1439.7,1081.5 1440.0,1067.2 1440.3,1087.2 1440.6,1077.1 1440.9,1082.6 1441.2,1083.5 1441.5,1080.5 1441.8,1079.2 1442.1,1075.1 1442.4,1096.2 1442.7,1077.6 1443.0,1078.2 1443.3,1086.2 1443.6,1095.7 1443.9,1091.0 1444.2,1092.2 1444.5,1087.6 1444.8,1092.7 1445.1,1084.3 1445.4,1097.8 1445.7,1096.6 1446.0,1086.9 1446.3,1094.8 1446.6,1086.3 1446.9,1084.0 1447.2,1090.2 1447.5,1083.7 1447.8,1090.4 1448.1,1099.2 1448.4,1090.4 1448.7,1096.5 1449.0,1089.8 1449.3,1092.0 1449.6,1099.6 1449.9,1096.7 1450.2,1092.8 1450.5,1094.1 1450.8,1094.2 1451.1,1098.8 1451.4,1089.6 1451.7,1087.8 1452.0,1090.3 1452.3,1089.4 1452.6,1088.9 1452.9,1085.7 1453.2,1089.4 1453.5,1096.8 1453.8,1086.6 1454.1,1083.1 1454.4,1100.2 1454.7,1101.5 1455.0,1093.9 1455.3,1098.5 1455.6,1092.8 1455.9,1088.2 1456.2,1107.2 1456.5,1094.8 1456.8,1095.2 1457.1,1094.5 1457.4,1102.4 1457.7,1097.5 1458.0,1096.0 1458.3,1094.2 1458.6,1090.5 1458.9,1094.9 1459.2,1100.4 1459.5,1099.2 1459.8,1096.5 1460.1,1093.6 1460.4,1088.8 1460.7,1095.1 1461.0,1103.5 1461.3,1090.2 1461.6,1101.5 1461.9,1090.2 1462.2,1091.3 1462.5,1098.8 1462.8,1096.5 1463.1,1097.0 1463.4,1100.4 1463.7,1098.8 1464.0,1096.3 1464.3,1100.6 1464.6,1097.9 1464.9,1094.6 1465.2,1102.9 1465.5,1095.0 1465.8,1098.5 1466.1,1097.5 1466.4,1094.3 1466.7,1102.6 1467.0,1096.8 1467.3,1100.0 1467.6,1099.4 1467.9,1096.6 1468.2,1097.3 1468.5,1099.1 1468.8,1104.2 1469.1,1098.8 1469.4,1098.9 1469.7,1100.3 1470.0,1088.9 1470.3,1102.9 1470.6,1094.7 1470.9,1100.9 1471.2,1096.9 1471.5,1101.5 1471.8,1096.8 1472.1,1102.4 1472.4,1097.7 1472.7,1102.3 1473.0,1098.4 1473.3,1098.3 1473.6,1104.7 1473.9,1098.3 1474.2,1095.2 1474.5,1094.1 1474.8,1108.4 1475.1,1095.6 1475.4,1100.0 1475.7,1093.5 1476.0,1098.8 1476.3,1087.8 1476.6,1101.7 1476.9,1094.3 1477.2,1089.1 1477.5,1095.8 1477.8,1096.5 1478.1,1092.3 1478.4,1093.8 1478.7,1103.0 1479.0,1098.7 1479.3,1098.5 1479.6,1094.0 1479.9,1093.1 1480.2,1107.8 1480.5,1089.1 1480.8,1087.7 1481.1,1094.6 1481.4,1100.3 1481.7,1097.7 1482.0,1102.1 1482.3,1095.8 1482.6,1100.1 1482.9,1101.1 1483.2,1105.9 1483.5,1098.9 1483.8,1101.6 1484.1,1100.1 1484.4,1099.4 1484.7,1097.7 1485.0,1088.7 1485.3,1101.1 1485.6,1097.0 1485.9,1092.4 1486.2,1096.9 1486.5,1098.5 1486.8,1093.2 1487.1,1093.9 1487.4,1093.5 1487.7,1092.7 1488.0,1095.7 1488.3,1093.4 1488.6,1099.2 1488.9,1100.5 1489.2,1104.9 1489.5,1105.4 1489.8,1091.6 1490.1,1101.5 1490.4,1095.7 1490.7,1090.7 1491.0,1101.1 1491.3,1099.1 1491.6,1101.7 1491.9,1108.6 1492.2,1096.8 1492.5,1093.5 1492.8,1091.6 1493.1,1092.7 1493.4,1090.4 1493.7,1100.3 1494.0,1098.5 1494.3,1094.5 1494.6,1095.1 1494.9,1102.1 1495.2,1098.2 1495.5,1099.7 1495.8,1100.8 1496.1,1093.2 1496.4,1091.9 1496.7,1092.6 1497.0,1093.0 1497.3,1100.6 1497.6,1098.9 1497.9,1093.9 1498.2,1098.0 1498.5,1095.5 1498.8,1094.5 1499.1,1099.2 1499.4,1101.7 1499.7,1096.1 1500.0,1097.3 1500.3,1103.2 1500.6,1093.6 1500.9,1101.7 1501.2,1088.7 1501.5,1099.4 1501.8,1104.8 1502.1,1097.1 1502.4,1099.1 1502.7,1098.1 1503.0,1102.2 1503.3,1097.8 1503.6,1096.1 1503.9,1099.2 1504.2,1094.2 1504.5,1105.6 1504.8,1096.8 1505.1,1101.8 1505.4,1101.7 1505.7,1096.7 1506.0,1098.7 1506.3,1092.7 1506.6,1094.1 1506.9,1092.4 1507.2,1093.6 1507.5,1094.4 1507.8,1106.5 1508.1,1104.0 1508.4,1095.9 1508.7,1096.4 1509.0,1102.3 1509.3,1093.4 1509.6,1099.2 1509.9,1096.5 1510.2,1102.2 1510.5,1103.5 1510.8,1104.1 1511.1,1102.5 1511.4,1095.8 1511.7,1105.4 1512.0,1105.2 1512.3,1105.6 1512.6,1108.6 1512.9,1096.6 1513.2,1096.0 1513.5,1094.4 1513.8,1092.5 1514.1,1101.8 1514.4,1107.3 1514.7,1099.6 1515.0,1096.8 1515.3,1099.8 1515.6,1094.8 1515.9,1105.6 1516.2,1095.5 1516.5,1095.0 1516.8,1102.7 1517.1,1102.3 1517.4,1103.0 1517.7,1100.9 1518.0,1104.3 1518.3,1099.1 1518.6,1101.8 1518.9,1093.6 1519.2,1106.4 1519.5,1100.8 1519.8,1089.9 1520.1,1092.5 1520.4,1096.1 1520.7,1097.0 1521.0,1089.7 1521.3,1098.1 1521.6,1100.3 1521.9,1093.4 1522.2,1090.8 1522.5,1099.3 1522.8,1099.6 1523.1,1102.3 1523.4,1096.2 1523.7,1100.0 1524.0,1094.8 1524.3,1101.4 1524.6,1108.0 1524.9,1091.4 1525.2,1097.2 1525.5,1105.4 1525.8,1096.0 1526.1,1106.6 1526.4,1102.3 1526.7,1092.8 1527.0,1106.3 1527.3,1095.1 1527.6,1095.4 1527.9,1099.9 1528.2,1098.8 1528.5,1103.8 1528.8,1101.7 1529.1,1100.8 1529.4,1097.1 1529.7,1098.7 1530.0,1096.1 1530.3,1101.5 1530.6,1103.9 1530.9,1098.1 1531.2,1100.3 1531.5,1103.4 1531.8,1102.0 1532.1,1099.6 1532.4,1094.8 1532.7,1102.8 1533.0,1092.6 1533.3,1102.7 1533.6,1093.6 1533.9,1096.2 1534.2,1098.0 1534.5,1102.2 1534.8,1105.2 1535.1,1093.4 1535.4,1099.3 1535.7,1105.9 1536.0,1089.1 1536.3,1098.1 1536.6,1093.3 1536.9,1110.1 1537.2,1102.9 1537.5,1102.6 1537.8,1103.4 1538.1,1101.8 1538.4,1095.3 1538.7,1102.3 1539.0,1092.3 1539.3,1105.4 1539.6,1106.3 1539.9,1104.6 1540.2,1106.1 1540.5,1092.6 1540.8,1110.0 1541.1,1102.8 1541.4,1117.1 1541.7,1090.7 1542.0,1093.9 1542.3,1096.2 1542.6,1104.4 1542.9,1102.6 1543.2,1104.5 1543.5,1095.0 1543.8,1095.7 1544.1,1105.3 1544.4,1098.8 1544.7,1101.0 1545.0,1100.3 1545.3,1098.8 1545.6,1100.1 1545.9,1101.9 1546.2,1099.0 1546.5,1090.3 1546.8,1092.0 1547.1,1100.5 1547.4,1094.3 1547.7,1092.2 1548.0,1093.4 1548.3,1103.3 1548.6,1093.1 1548.9,1099.9 1549.2,1099.7 1549.5,1100.9 1549.8,1098.8 1550.1,1097.8 1550.4,1106.9 1550.7,1099.9 1551.0,1098.2 1551.3,1098.3 1551.6,1107.4 1551.9,1097.4 1552.2,1111.4 1552.5,1098.5 1552.8,1104.0 1553.1,1108.8 1553.4,1101.4 1553.7,1103.9 1554.0,1104.2 1554.3,1103.4 1554.6,1102.8 1554.9,1098.4 1555.2,1104.0 1555.5,1105.8 1555.8,1092.5 1556.1,1103.1 1556.4,1103.2 1556.7,1107.9 1557.0,1095.7 1557.3,1094.4 1557.6,1101.2 1557.9,1101.8 1558.2,1092.0 1558.5,1105.4 1558.8,1102.8 1559.1,1102.2 1559.4,1096.2 1559.7,1092.7 1560.0,1095.8 1560.3,1094.7 1560.6,1098.8 1560.9,1098.6 1561.2,1094.1 1561.5,1101.6 1561.8,1110.2 1562.1,1103.1 1562.4,1096.9 1562.7,1093.8 1563.0,1106.0 1563.3,1100.9 1563.6,1104.6 1563.9,1102.5 1564.2,1106.4 1564.5,1102.4 1564.8,1103.9 1565.1,1102.8 1565.4,1097.4 1565.7,1103.1 1566.0,1095.5 1566.3,1100.4 1566.6,1103.1 1566.9,1104.7 1567.2,1101.5 1567.5,1096.0 1567.8,1105.1 1568.1,1095.6 1568.4,1096.5 1568.7,1096.6 1569.0,1105.3 1569.3,1106.9 1569.6,1102.5 1569.9,1099.6 1570.2,1109.1 1570.5,1099.3 1570.8,1100.5 1571.1,1098.4 1571.4,1100.7 1571.7,1096.8 1572.0,1095.5 1572.3,1092.0 1572.6,1100.1 1572.9,1101.9 1573.2,1094.9 1573.5,1102.0 1573.8,1103.5 1574.1,1100.4 1574.4,1097.6 1574.7,1093.1 1575.0,1096.9 1575.3,1098.0 1575.6,1098.2 1575.9,1099.5 1576.2,1096.9 1576.5,1096.8 1576.8,1100.5 1577.1,1099.4 1577.4,1101.1 1577.7,1090.0 1578.0,1099.9 1578.3,1101.8 1578.6,1091.4 1578.9,1102.7 1579.2,1100.8 1579.5,1104.3 1579.8,1096.4 1580.1,1099.7 1580.4,1100.9 1580.7,1102.6 1581.0,1099.7 1581.3,1108.2 1581.6,1103.4 1581.9,1100.7 1582.2,1098.4 1582.5,1088.3 1582.8,1095.5 1583.1,1105.0 1583.4,1100.6 1583.7,1102.4 1584.0,1104.6 1584.3,1097.1 1584.6,1108.4 1584.9,1099.8 1585.2,1096.8 1585.5,1094.7 1585.8,1105.1 1586.1,1091.0 1586.4,1093.9 1586.7,1106.3 1587.0,1107.1 1587.3,1100.1 1587.6,1098.4 1587.9,1109.8 1588.2,1097.0 1588.5,1102.5 1588.8,1105.6 1589.1,1097.1 1589.4,1097.7 1589.7,1097.8 1590.0,1104.5 1590.3,1092.3 1590.6,1101.7 1590.9,1104.6 1591.2,1096.5 1591.5,1100.5 1591.8,1096.0 1592.1,1103.3 1592.4,1095.4 1592.7,1099.3 1593.0,1106.7 1593.3,1097.2 1593.6,1100.5 1593.9,1096.4 1594.2,1096.9 1594.5,1107.1 1594.8,1104.8 1595.1,1097.0 1595.4,1102.8 1595.7,1099.1 1596.0,1097.1 1596.3,1101.9 1596.6,1099.8 1596.9,1104.0 1597.2,1102.0 1597.5,1104.5 1597.8,1110.2 1598.1,1100.3 1598.4,1103.1 1598.7,1100.6 1599.0,1104.7 1599.3,1102.5 1599.6,1092.6 1599.9,1103.9 1600.2,1106.9 1600.5,1099.0 1600.8,1096.9 1601.1,1097.8 1601.4,1100.7 1601.7,1095.6 1602.0,1101.8 1602.3,1099.0 1602.6,1095.1 1602.9,1102.6 1603.2,1105.2 1603.5,1092.8 1603.8,1103.7 1604.1,1097.3 1604.4,1098.1 1604.7,1093.1 1605.0,1100.9 1605.3,1105.2 1605.6,1098.6 1605.9,1109.3 1606.2,1113.1 1606.5,1103.3 1606.8,1103.6 1607.1,1102.9 1607.4,1099.6 1607.7,1101.9 1608.0,1099.0 1608.3,1105.5 1608.6,1102.0 1608.9,1101.5 1609.2,1089.9 1609.5,1105.4 1609.8,1096.0 1610.1,1101.7 1610.4,1108.1 1610.7,1102.7 1611.0,1107.4 1611.3,1102.0 1611.6,1106.9 1611.9,1096.5 1612.2,1094.0 1612.5,1097.2 1612.8,1097.0 1613.1,1104.5 1613.4,1099.6 1613.7,1107.5 1614.0,1103.1 1614.3,1107.0 1614.6,1109.3 1614.9,1099.9 1615.2,1102.3 1615.5,1106.7 1615.8,1102.2 1616.1,1106.0 1616.4,1102.0 1616.7,1103.4 1617.0,1096.9 1617.3,1104.8 1617.6,1104.7 1617.9,1101.7 1618.2,1097.7 1618.5,1104.5 1618.8,1104.3 1619.1,1103.2 1619.4,1098.2 1619.7,1105.5 1620.0,1105.5 1620.3,1097.7 1620.6,1110.2 1620.9,1102.9 1621.2,1099.8 1621.5,1103.2 1621.8,1111.5 1622.1,1104.5 1622.4,1096.1 1622.7,1102.0 1623.0,1095.1 1623.3,1096.8 1623.6,1099.3 1623.9,1101.5 1624.2,1094.0 1624.5,1095.7 1624.8,1101.2 1625.1,1101.0 1625.4,1108.5 1625.7,1100.4 1626.0,1095.6 1626.3,1104.8 1626.6,1097.8 1626.9,1109.3 1627.2,1102.4 1627.5,1107.6 1627.8,1105.8 1628.1,1104.0 1628.4,1104.2 1628.7,1097.5 1629.0,1097.6 1629.3,1103.0 1629.6,1104.4 1629.9,1104.7 1630.2,1088.2 1630.5,1094.3 1630.8,1101.6 1631.1,1110.1 1631.4,1105.6 1631.7,1098.9 1632.0,1096.2 1632.3,1101.5 1632.6,1100.3 1632.9,1097.9 1633.2,1100.5 1633.5,1102.4 1633.8,1107.9 1634.1,1099.2 1634.4,1095.0 1634.7,1102.1 1635.0,1099.2 1635.3,1096.4 1635.6,1103.0 1635.9,1096.9 1636.2,1102.1 1636.5,1102.0 1636.8,1095.3 1637.1,1096.8 1637.4,1106.0 1637.7,1106.2 1638.0,1095.7 1638.3,1098.0 1638.6,1099.5 1638.9,1108.7 1639.2,1101.9 1639.5,1100.2 1639.8,1112.6"/>
</g>
<g fill="#000" shape-rendering="crispEdges">
<rect x="125" y="30" width="1506" height="5"/>
<rect x="125" y="1132" width="1506" height="5"/>
<rect x="125" y="30" width="4" height="1107"/>
<rect x="1627" y="30" width="4" height="1107"/>
<rect x="275" y="1123" width="5" height="9"/><rect x="275" y="35" width="5" height="9"/><rect x="425" y="1112" width="5" height="20"/><rect x="425" y="35" width="5" height="19"/><rect x="575" y="1123" width="5" height="9"/><rect x="575" y="35" width="5" height="9"/><rect x="725" y="1112" width="5" height="20"/><rect x="725" y="35" width="5" height="19"/><rect x="875" y="1123" width="5" height="9"/><rect x="875" y="35" width="5" height="9"/><rect x="1026" y="1112" width="5" height="20"/><rect x="1026" y="35" width="5" height="19"/><rect x="1176" y="1123" width="5" height="9"/><rect x="1176" y="35" width="5" height="9"/><rect x="1326" y="1112" width="5" height="20"/><rect x="1326" y="35" width="5" height="19"/><rect x="1476" y="1123" width="5" height="9"/><rect x="1476" y="35" width="5" height="9"/><rect x="1607" y="1110" width="20" height="5"/><rect x="1618" y="570" width="9" height="5"/>
</g>
<g font-family='"Liberation Sans", Arial, sans-serif' font-size="75.5" fill="#000">
<text x="125.8" y="1216.5" text-anchor="middle">20</text><text x="426.2" y="1216.5" text-anchor="middle">30</text><text x="726.6" y="1216.5" text-anchor="middle">40</text><text x="1027.0" y="1216.5" text-anchor="middle">50</text><text x="1327.4" y="1216.5" text-anchor="middle">60</text><text x="1627.8" y="1216.5" text-anchor="middle">70</text>
</g>
<g font-family='"Liberation Sans", Arial, sans-serif' font-size="65" font-weight="bold" fill="#000">
<text transform="translate(448.2,446.8) rotate(-90)" text-anchor="middle">(220)</text><text transform="translate(616.9,138.6) rotate(-90)" text-anchor="middle">(311)</text><text transform="translate(849.0,460.7) rotate(-90)" text-anchor="middle">(400)</text><text transform="translate(1160.0,528.9) rotate(-90)" text-anchor="middle">(422)</text><text transform="translate(1263.2,410.4) rotate(-90)" text-anchor="middle">(511)</text><text transform="translate(1432.1,352.5) rotate(-90)" text-anchor="middle">(440)</text>
</g>
<g font-family='"Liberation Sans", Arial, sans-serif' fill="#000">
<text x="763.4" y="1313" font-size="89" text-anchor="middle">2</text>
<text transform="translate(791,1313) skewX(-15)" font-family='"Liberation Serif", serif' font-style="italic" font-size="78">θ</text>
<text x="853.8" y="1312" font-size="86">/</text>
<text x="901.8" y="1310" font-size="86">°</text>
<text transform="translate(85.5,501.65) rotate(-90)" font-size="86.45" text-anchor="middle"><tspan font-style="italic">intensity</tspan> / a.u.</text>
<text x="146" y="102" font-size="53" font-style="italic">d</text>
<text x="175.3" y="118.6" font-size="36.5">c</text>
<text x="210.8 228.45 259.1 308.0" y="102" font-size="53">(nm)</text>
<text x="281.1" y="184" font-size="56.4">25.9</text>
<text x="281.1" y="250.4" font-size="56.4">27.3</text>
<text x="281.1" y="317.3" font-size="56.4">34.5</text>
</g>
<g shape-rendering="crispEdges">
<path fill="#0000ff" d="M144 162h124v1h2v5h-126zM143 165h1v1h-1zM270 165h1v1h-1z"/>
<path fill="#ff0000" d="M144 229h124v1h2v5h-126zM143 232h1v1h-1zM270 232h1v1h-1z"/>
<path fill="#00ff00" d="M144 297h126v5h-126zM143 299h1v1h-1zM270 299h1v1h-1z"/>
</g>
</svg>
</body></html>
